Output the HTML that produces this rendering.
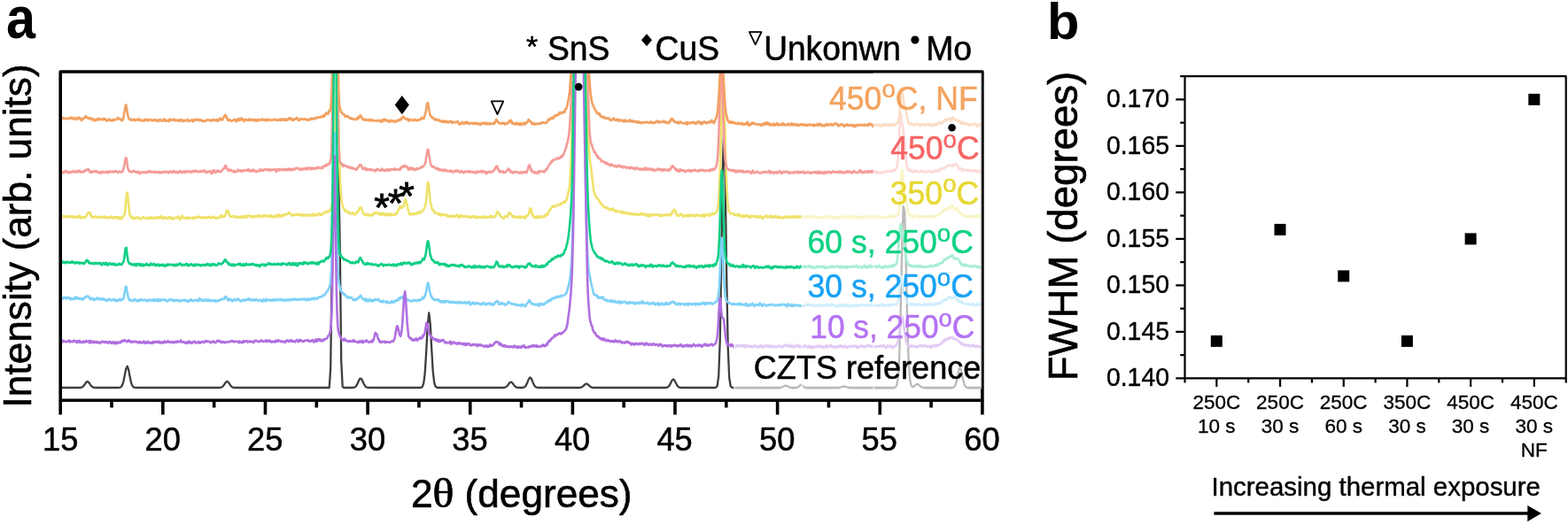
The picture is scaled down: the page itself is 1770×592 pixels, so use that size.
<!DOCTYPE html>
<html lang="en"><head><meta charset="utf-8"><title>XRD patterns and FWHM</title>
<style>html,body{margin:0;padding:0;background:#fff}body{width:1770px;height:592px;overflow:hidden}svg text{white-space:pre}</style></head>
<body>
<svg width="1770" height="592" viewBox="0 0 1770 592" style="display:block" font-family="'Liberation Sans',Arial,Helvetica,sans-serif" fill="#000" stroke-linejoin="round">
<rect width="1770" height="592" fill="#fff"/>
<defs><clipPath id="cp"><rect x="68.2" y="81.0" width="1040.7" height="371.3"/></clipPath></defs>
<g clip-path="url(#cp)" fill="none" stroke-linejoin="round" stroke-linecap="butt">
<path d="M67.2 438.0L68.7 438.0L70.2 438.0L71.7 438.0L73.2 438.0L74.7 438.0L76.2 438.0L77.7 438.0L79.2 438.0L80.7 438.0L82.2 438.0L83.7 438.0L85.2 438.0L86.7 438.0L88.2 438.0L89.7 438.0L91.2 437.9L92.7 437.4L94.2 436.3L95.7 434.3L97.2 432.0L98.7 431.0L100.2 432.0L101.7 434.2L103.2 436.3L104.7 437.4L106.2 437.9L107.7 438.0L109.2 438.0L110.7 438.0L112.2 438.0L113.7 438.0L115.2 438.0L116.7 438.0L118.2 438.0L119.7 438.0L121.2 438.0L122.7 438.0L124.2 438.0L125.7 438.0L127.2 438.0L128.7 438.0L130.2 438.0L131.7 438.0L133.2 438.0L134.7 437.9L136.2 437.5L137.7 435.9L139.2 431.8L140.7 424.5L142.2 416.7L143.7 413.7L145.2 418.0L146.7 426.1L148.2 432.9L149.7 436.4L151.2 437.6L152.7 437.9L154.2 438.0L155.7 438.0L157.2 438.0L158.7 438.0L160.2 438.0L161.7 438.0L163.2 438.0L164.7 438.0L166.2 438.0L167.7 438.0L169.2 438.0L170.7 438.0L172.2 438.0L173.7 438.0L175.2 438.0L176.7 438.0L178.2 438.0L179.7 438.0L181.2 438.0L182.7 438.0L184.2 438.0L185.7 438.0L187.2 438.0L188.7 438.0L190.2 438.0L191.7 438.0L193.2 438.0L194.7 438.0L196.2 438.0L197.7 438.0L199.2 438.0L200.7 438.0L202.2 438.0L203.7 438.0L205.2 438.0L206.7 438.0L208.2 438.0L209.7 438.0L211.2 438.0L212.7 438.0L214.2 438.0L215.7 438.0L217.2 438.0L218.7 438.0L220.2 438.0L221.7 438.0L223.2 438.0L224.7 438.0L226.2 438.0L227.7 438.0L229.2 438.0L230.7 438.0L232.2 438.0L233.7 438.0L235.2 438.0L236.7 438.0L238.2 438.0L239.7 438.0L241.2 438.0L242.7 438.0L244.2 438.0L245.7 438.0L247.2 438.0L248.7 437.9L250.2 437.5L251.7 436.4L253.2 434.4L254.7 432.1L256.2 430.8L257.7 431.7L259.2 433.9L260.7 436.1L262.2 437.3L263.7 437.8L265.2 438.0L266.7 438.0L268.2 438.0L269.7 438.0L271.2 438.0L272.7 438.0L274.2 438.0L275.7 438.0L277.2 438.0L278.7 438.0L280.2 438.0L281.7 438.0L283.2 438.0L284.7 438.0L286.2 438.0L287.7 438.0L289.2 438.0L290.7 438.0L292.2 438.0L293.7 438.0L295.2 438.0L296.7 438.0L298.2 438.0L299.7 438.0L301.2 438.0L302.7 438.0L304.2 438.0L305.7 438.0L307.2 438.0L308.7 438.0L310.2 438.0L311.7 438.0L313.2 438.0L314.7 438.0L316.2 438.0L317.7 438.0L319.2 438.0L320.7 438.0L322.2 438.0L323.7 438.0L325.2 438.0L326.7 438.0L328.2 438.0L329.7 438.0L331.2 438.0L332.7 438.0L334.2 438.0L335.7 438.0L337.2 438.0L338.7 438.0L340.2 438.0L341.7 438.0L343.2 438.0L344.7 438.0L346.2 438.0L347.7 438.0L349.2 438.0L350.7 438.0L352.2 438.0L353.7 438.0L355.2 438.0L356.7 438.0L358.2 438.0L359.7 438.0L361.2 438.0L362.7 438.0L364.2 438.0L365.7 438.0L367.2 438.0L368.7 438.0L370.2 438.0L371.7 438.0L373.2 415.6L374.7 298.6L376.2 209.6L377.7 184.6L379.2 176.8L380.7 183.0L382.2 196.5L383.7 277.2L385.2 407.8L386.7 436.9L388.2 438.0L389.7 438.0L391.2 438.0L392.7 438.0L394.2 438.0L395.7 438.0L397.2 438.0L398.7 437.9L400.2 437.6L401.7 436.6L403.2 434.2L404.7 430.8L406.2 427.8L407.7 427.6L409.2 430.2L410.7 433.7L412.2 436.3L413.7 437.5L415.2 437.9L416.7 438.0L418.2 438.0L419.7 438.0L421.2 438.0L422.7 438.0L424.2 438.0L425.7 438.0L427.2 438.0L428.7 438.0L430.2 438.0L431.7 438.0L433.2 438.0L434.7 438.0L436.2 438.0L437.7 438.0L439.2 438.0L440.7 438.0L442.2 438.0L443.7 438.0L445.2 438.0L446.7 438.0L448.2 438.0L449.7 438.0L451.2 438.0L452.7 438.0L454.2 438.0L455.7 438.0L457.2 438.0L458.7 438.0L460.2 438.0L461.7 438.0L463.2 438.0L464.7 438.0L466.2 438.0L467.7 438.0L469.2 438.0L470.7 438.0L472.2 438.0L473.7 438.0L475.2 437.9L476.7 437.0L478.2 433.1L479.7 421.1L481.2 397.1L482.7 368.1L484.2 353.5L485.7 365.8L487.2 394.4L488.7 419.4L490.2 432.4L491.7 436.8L493.2 437.8L494.7 438.0L496.2 438.0L497.7 438.0L499.2 438.0L500.7 438.0L502.2 438.0L503.7 438.0L505.2 438.0L506.7 438.0L508.2 438.0L509.7 438.0L511.2 438.0L512.7 438.0L514.2 438.0L515.7 438.0L517.2 438.0L518.7 438.0L520.2 438.0L521.7 438.0L523.2 438.0L524.7 438.0L526.2 438.0L527.7 438.0L529.2 438.0L530.7 438.0L532.2 438.0L533.7 438.0L535.2 438.0L536.7 438.0L538.2 438.0L539.7 438.0L541.2 438.0L542.7 438.0L544.2 438.0L545.7 438.0L547.2 438.0L548.7 438.0L550.2 438.0L551.7 438.0L553.2 438.0L554.7 438.0L556.2 438.0L557.7 438.0L559.2 438.0L560.7 438.0L562.2 438.0L563.7 438.0L565.2 438.0L566.7 438.0L568.2 438.0L569.7 437.8L571.2 437.2L572.7 435.9L574.2 433.8L575.7 432.0L577.2 431.6L578.7 433.0L580.2 435.2L581.7 436.8L583.2 437.7L584.7 437.9L586.2 438.0L587.7 438.0L589.2 438.0L590.7 437.8L592.2 437.2L593.7 435.6L595.2 432.4L596.7 428.6L598.2 426.4L599.7 427.5L601.2 431.1L602.7 434.7L604.2 436.8L605.7 437.7L607.2 437.9L608.7 438.0L610.2 438.0L611.7 438.0L613.2 438.0L614.7 438.0L616.2 438.0L617.7 438.0L619.2 438.0L620.7 438.0L622.2 438.0L623.7 438.0L625.2 438.0L626.7 438.0L628.2 438.0L629.7 438.0L631.2 438.0L632.7 438.0L634.2 438.0L635.7 438.0L637.2 438.0L638.7 438.0L640.2 438.0L641.7 438.0L643.2 438.0L644.7 438.0L646.2 438.0L647.7 438.0L649.2 438.0L650.7 438.0L652.2 438.0L653.7 438.0L655.2 437.8L656.7 437.4L658.2 436.4L659.7 434.9L661.2 433.7L662.7 433.6L664.2 434.8L665.7 436.2L667.2 437.3L668.7 437.8L670.2 438.0L671.7 438.0L673.2 438.0L674.7 438.0L676.2 438.0L677.7 438.0L679.2 438.0L680.7 438.0L682.2 438.0L683.7 438.0L685.2 438.0L686.7 438.0L688.2 438.0L689.7 438.0L691.2 438.0L692.7 438.0L694.2 438.0L695.7 438.0L697.2 438.0L698.7 438.0L700.2 438.0L701.7 438.0L703.2 438.0L704.7 438.0L706.2 438.0L707.7 438.0L709.2 438.0L710.7 438.0L712.2 438.0L713.7 438.0L715.2 438.0L716.7 438.0L718.2 438.0L719.7 438.0L721.2 438.0L722.7 438.0L724.2 438.0L725.7 438.0L727.2 438.0L728.7 438.0L730.2 438.0L731.7 438.0L733.2 438.0L734.7 438.0L736.2 438.0L737.7 438.0L739.2 438.0L740.7 438.0L742.2 438.0L743.7 438.0L745.2 438.0L746.7 438.0L748.2 438.0L749.7 438.0L751.2 438.0L752.7 437.8L754.2 437.1L755.7 435.4L757.2 432.6L758.7 429.6L760.2 428.5L761.7 430.2L763.2 433.3L764.7 435.9L766.2 437.3L767.7 437.8L769.2 438.0L770.7 438.0L772.2 438.0L773.7 438.0L775.2 438.0L776.7 438.0L778.2 438.0L779.7 438.0L781.2 438.0L782.7 438.0L784.2 438.0L785.7 438.0L787.2 438.0L788.7 438.0L790.2 438.0L791.7 438.0L793.2 438.0L794.7 438.0L796.2 438.0L797.7 438.0L799.2 438.0L800.7 438.0L802.2 438.0L803.7 438.0L805.2 438.0L806.7 438.0L808.2 437.7L809.7 435.8L811.2 424.9L812.7 386.3L814.2 301.0L815.7 194.0L817.2 146.1L818.7 203.4L820.2 311.4L821.7 392.1L823.2 426.8L824.7 436.2L826.2 437.8L827.7 438.0L829.2 438.0L830.7 438.0L832.2 438.0L833.7 438.0L835.2 438.0L836.7 438.0L838.2 438.0L839.7 438.0L841.2 438.0L842.7 438.0L844.2 438.0L845.7 438.0L847.2 438.0L848.7 438.0L850.2 438.0L851.7 438.0L853.2 438.0L854.7 438.0L856.2 438.0L857.7 438.0L859.2 438.0L860.7 438.0L862.2 438.0L863.7 438.0L865.2 438.0L866.7 438.0L868.2 438.0L869.7 438.0L871.2 438.0L872.7 438.0L874.2 438.0L875.7 438.0L877.2 438.0L878.7 438.0L880.2 438.0L881.7 437.8L883.2 437.2L884.7 436.3L886.2 435.7L887.7 435.8L889.2 436.6L890.7 437.4L892.2 437.8L893.7 438.0L895.2 438.0L896.7 438.0L898.2 438.0L899.7 437.8L901.2 437.1L902.7 435.6L904.2 434.6L905.7 435.4L907.2 437.0L908.7 437.8L910.2 438.0L911.7 438.0L913.2 438.0L914.7 438.0L916.2 438.0L917.7 438.0L919.2 438.0L920.7 438.0L922.2 438.0L923.7 438.0L925.2 438.0L926.7 438.0L928.2 438.0L929.7 438.0L931.2 438.0L932.7 438.0L934.2 438.0L935.7 438.0L937.2 438.0L938.7 438.0L940.2 438.0L941.7 438.0L943.2 438.0L944.7 438.0L946.2 438.0L947.7 437.8L949.2 437.5L950.7 437.0L952.2 436.6L953.7 436.5L955.2 437.0L956.7 437.5L958.2 437.8L959.7 438.0L961.2 438.0L962.7 438.0L964.2 438.0L965.7 438.0L967.2 438.0L968.7 438.0L970.2 438.0L971.7 438.0L973.2 438.0L974.7 438.0L976.2 438.0L977.7 438.0L979.2 438.0L980.7 438.0L982.2 438.0L983.7 438.0L985.2 438.0L986.7 438.0L988.2 438.0L989.7 438.0L991.2 438.0L992.7 438.0L994.2 438.0L995.7 438.0L997.2 438.0L998.7 438.0L1000.2 438.0L1001.7 438.0L1003.2 438.0L1004.7 438.0L1006.2 438.0L1007.7 438.0L1009.2 438.0L1010.7 437.6L1012.2 435.5L1013.7 427.1L1015.2 402.1L1016.7 350.9L1018.2 282.5L1019.7 233.2L1021.2 239.0L1022.7 295.5L1024.2 362.7L1025.7 408.7L1027.2 429.6L1028.7 436.1L1030.2 437.2L1031.7 436.5L1033.2 435.2L1034.7 434.1L1036.2 434.2L1037.7 435.4L1039.2 436.7L1040.7 437.6L1042.2 437.9L1043.7 438.0L1045.2 438.0L1046.7 438.0L1048.2 438.0L1049.7 438.0L1051.2 438.0L1052.7 438.0L1054.2 438.0L1055.7 438.0L1057.2 438.0L1058.7 438.0L1060.2 438.0L1061.7 438.0L1063.2 438.0L1064.7 438.0L1066.2 438.0L1067.7 438.0L1069.2 438.0L1070.7 438.0L1072.2 438.0L1073.7 438.0L1075.2 437.9L1076.7 437.4L1078.2 435.6L1079.7 431.1L1081.2 423.5L1082.7 416.5L1084.2 415.5L1085.7 421.4L1087.2 429.3L1088.7 434.8L1090.2 437.2L1091.7 437.8L1093.2 438.0L1094.7 438.0L1096.2 438.0L1097.7 438.0L1099.2 438.0L1100.7 438.0L1102.2 438.0L1103.7 438.0L1105.2 438.0L1106.7 438.0L1108.2 438.0" stroke="#3e3e3e" stroke-width="2.3"/>
<path d="M67.2 244.7L67.7 244.9L68.2 245.1L68.7 244.7L69.2 244.9L69.7 244.3L70.2 244.8L70.7 245.4L71.2 243.9L71.7 244.1L72.2 244.1L72.7 244.7L73.2 245.0L73.7 244.6L74.2 245.2L74.7 245.5L75.2 244.6L75.7 245.3L76.2 244.6L76.7 244.5L77.2 244.3L77.7 244.8L78.2 244.0L78.7 245.1L79.2 244.7L79.7 244.8L80.2 244.2L80.7 244.8L81.2 245.2L81.7 245.0L82.2 244.1L82.7 244.8L83.2 244.9L83.7 245.3L84.2 245.9L84.7 244.9L85.2 244.9L85.7 245.3L86.2 244.8L86.7 244.8L87.2 245.6L87.7 245.6L88.2 244.3L88.7 245.0L89.2 245.0L89.7 243.8L90.2 246.1L90.7 245.7L91.2 245.7L91.7 246.6L92.2 245.5L92.7 244.9L93.2 245.8L93.7 245.8L94.2 245.7L94.7 245.8L95.2 245.1L95.7 245.9L96.2 245.9L96.7 244.7L97.2 244.6L97.7 243.4L98.2 242.7L98.7 241.7L99.2 240.8L99.7 240.3L100.2 240.4L100.7 240.2L101.2 239.9L101.7 241.3L102.2 242.9L102.7 242.7L103.2 244.3L103.7 245.2L104.2 245.7L104.7 245.8L105.2 245.4L105.7 245.0L106.2 245.3L106.7 245.5L107.2 244.6L107.7 244.5L108.2 245.2L108.7 245.1L109.2 245.5L109.7 245.3L110.2 245.7L110.7 245.7L111.2 245.9L111.7 245.4L112.2 245.0L112.7 245.5L113.2 245.2L113.7 245.8L114.2 245.4L114.7 245.4L115.2 244.7L115.7 246.2L116.2 245.5L116.7 245.4L117.2 245.8L117.7 244.8L118.2 244.8L118.7 246.0L119.2 244.8L119.7 245.2L120.2 245.9L120.7 245.9L121.2 246.1L121.7 245.9L122.2 246.4L122.7 246.1L123.2 245.2L123.7 245.6L124.2 245.5L124.7 244.9L125.2 244.9L125.7 244.8L126.2 246.5L126.7 246.2L127.2 246.7L127.7 246.4L128.2 245.7L128.7 245.0L129.2 245.1L129.7 245.6L130.2 245.2L130.7 246.2L131.2 245.1L131.7 246.5L132.2 245.2L132.7 246.4L133.2 246.2L133.7 245.4L134.2 246.9L134.7 247.1L135.2 245.7L135.7 245.8L136.2 246.3L136.7 245.9L137.2 247.5L137.7 246.0L138.2 245.5L138.7 244.6L139.2 244.0L139.7 243.7L140.2 243.7L140.7 241.3L141.2 238.5L141.7 233.3L142.2 227.5L142.7 221.8L143.2 217.7L143.7 217.6L144.2 220.1L144.7 225.5L145.2 230.8L145.7 236.0L146.2 241.6L146.7 243.2L147.2 244.3L147.7 245.3L148.2 246.0L148.7 244.6L149.2 245.8L149.7 246.2L150.2 245.5L150.7 247.1L151.2 246.6L151.7 246.7L152.2 246.1L152.7 246.9L153.2 246.2L153.7 245.8L154.2 245.7L154.7 245.3L155.2 246.4L155.7 245.4L156.2 245.5L156.7 245.7L157.2 246.3L157.7 246.8L158.2 247.8L158.7 246.9L159.2 246.5L159.7 246.5L160.2 246.5L160.7 246.2L161.2 246.1L161.7 245.5L162.2 245.1L162.7 246.5L163.2 246.5L163.7 246.3L164.2 246.8L164.7 246.8L165.2 246.9L165.7 246.7L166.2 245.9L166.7 246.8L167.2 245.6L167.7 246.8L168.2 247.1L168.7 247.0L169.2 247.2L169.7 246.7L170.2 245.3L170.7 245.3L171.2 246.4L171.7 245.9L172.2 246.3L172.7 246.6L173.2 245.8L173.7 245.7L174.2 246.6L174.7 246.9L175.2 246.3L175.7 246.5L176.2 246.2L176.7 245.5L177.2 246.2L177.7 245.4L178.2 245.1L178.7 246.4L179.2 246.2L179.7 246.5L180.2 244.9L180.7 245.0L181.2 244.4L181.7 244.7L182.2 246.3L182.7 245.9L183.2 246.7L183.7 246.6L184.2 247.1L184.7 245.3L185.2 246.3L185.7 245.7L186.2 246.1L186.7 245.5L187.2 246.3L187.7 247.0L188.2 246.4L188.7 246.4L189.2 246.1L189.7 247.1L190.2 246.5L190.7 245.4L191.2 245.8L191.7 245.4L192.2 244.7L192.7 246.0L193.2 247.4L193.7 246.7L194.2 246.3L194.7 246.4L195.2 247.5L195.7 246.9L196.2 246.9L196.7 246.9L197.2 246.0L197.7 246.0L198.2 245.8L198.7 245.8L199.2 245.5L199.7 246.2L200.2 245.2L200.7 245.9L201.2 244.5L201.7 245.5L202.2 246.2L202.7 246.3L203.2 248.2L203.7 247.8L204.2 246.4L204.7 245.5L205.2 245.0L205.7 243.7L206.2 245.4L206.7 246.2L207.2 246.6L207.7 246.1L208.2 246.4L208.7 246.6L209.2 246.9L209.7 246.3L210.2 245.7L210.7 246.4L211.2 246.0L211.7 246.3L212.2 245.7L212.7 247.0L213.2 246.3L213.7 246.1L214.2 246.2L214.7 246.0L215.2 246.1L215.7 246.0L216.2 246.1L216.7 246.0L217.2 246.8L217.7 246.0L218.2 245.9L218.7 245.6L219.2 245.7L219.7 246.7L220.2 245.7L220.7 245.7L221.2 245.2L221.7 245.1L222.2 246.0L222.7 245.9L223.2 245.3L223.7 245.1L224.2 244.8L224.7 245.1L225.2 244.6L225.7 245.3L226.2 245.3L226.7 246.3L227.2 245.4L227.7 245.9L228.2 246.2L228.7 245.6L229.2 245.4L229.7 245.8L230.2 245.5L230.7 244.9L231.2 245.7L231.7 246.4L232.2 245.4L232.7 245.5L233.2 245.6L233.7 246.3L234.2 245.8L234.7 245.8L235.2 245.7L235.7 244.8L236.2 245.5L236.7 245.9L237.2 245.8L237.7 245.8L238.2 246.5L238.7 245.2L239.2 244.9L239.7 244.8L240.2 245.1L240.7 245.7L241.2 245.7L241.7 245.3L242.2 245.8L242.7 246.1L243.2 246.6L243.7 246.1L244.2 246.5L244.7 246.7L245.2 246.1L245.7 246.0L246.2 245.8L246.7 245.5L247.2 245.8L247.7 246.2L248.2 245.0L248.7 244.5L249.2 243.2L249.7 244.3L250.2 243.7L250.7 243.6L251.2 245.3L251.7 245.3L252.2 244.8L252.7 244.6L253.2 245.0L253.7 243.7L254.2 243.5L254.7 242.7L255.2 240.0L255.7 238.8L256.2 237.5L256.7 237.9L257.2 238.5L257.7 239.0L258.2 241.1L258.7 241.5L259.2 243.4L259.7 244.2L260.2 244.6L260.7 244.5L261.2 244.8L261.7 244.3L262.2 244.1L262.7 244.0L263.2 243.9L263.7 244.3L264.2 245.4L264.7 245.0L265.2 245.3L265.7 245.6L266.2 244.2L266.7 244.9L267.2 245.5L267.7 245.4L268.2 245.2L268.7 245.7L269.2 245.4L269.7 245.0L270.2 245.2L270.7 246.0L271.2 245.7L271.7 244.6L272.2 246.0L272.7 245.0L273.2 245.6L273.7 244.5L274.2 244.3L274.7 244.3L275.2 245.5L275.7 244.7L276.2 245.9L276.7 244.5L277.2 245.2L277.7 243.8L278.2 244.7L278.7 245.5L279.2 243.8L279.7 244.9L280.2 244.1L280.7 243.6L281.2 243.8L281.7 243.9L282.2 244.6L282.7 244.0L283.2 244.6L283.7 244.6L284.2 244.4L284.7 244.8L285.2 245.1L285.7 245.9L286.2 244.3L286.7 244.8L287.2 244.7L287.7 244.2L288.2 244.5L288.7 244.4L289.2 245.1L289.7 244.0L290.2 245.0L290.7 243.9L291.2 243.4L291.7 244.0L292.2 243.5L292.7 244.2L293.2 244.5L293.7 244.0L294.2 244.7L294.7 244.9L295.2 244.7L295.7 244.0L296.2 244.1L296.7 243.4L297.2 244.9L297.7 244.0L298.2 243.6L298.7 244.1L299.2 244.4L299.7 243.3L300.2 243.8L300.7 243.7L301.2 243.9L301.7 244.6L302.2 243.9L302.7 244.4L303.2 244.7L303.7 243.8L304.2 244.6L304.7 243.4L305.2 243.3L305.7 243.0L306.2 245.0L306.7 244.5L307.2 244.8L307.7 245.1L308.2 244.8L308.7 244.5L309.2 245.6L309.7 243.9L310.2 244.2L310.7 244.4L311.2 243.7L311.7 244.9L312.2 244.3L312.7 243.3L313.2 242.7L313.7 243.0L314.2 244.1L314.7 242.4L315.2 244.9L315.7 244.2L316.2 245.0L316.7 244.0L317.2 244.0L317.7 242.9L318.2 243.4L318.7 244.3L319.2 243.9L319.7 243.5L320.2 242.9L320.7 242.1L321.2 243.2L321.7 243.1L322.2 242.6L322.7 242.4L323.2 241.9L323.7 241.8L324.2 241.7L324.7 242.1L325.2 241.6L325.7 240.4L326.2 240.0L326.7 240.5L327.2 240.8L327.7 241.4L328.2 242.0L328.7 242.1L329.2 243.2L329.7 243.2L330.2 243.6L330.7 243.3L331.2 242.8L331.7 242.8L332.2 243.0L332.7 242.8L333.2 243.0L333.7 242.5L334.2 242.2L334.7 242.8L335.2 242.1L335.7 242.8L336.2 242.5L336.7 241.7L337.2 242.8L337.7 242.8L338.2 243.3L338.7 242.9L339.2 242.4L339.7 242.1L340.2 242.3L340.7 242.9L341.2 243.7L341.7 242.8L342.2 243.6L342.7 242.8L343.2 242.2L343.7 242.9L344.2 243.2L344.7 242.5L345.2 244.0L345.7 243.7L346.2 243.7L346.7 243.8L347.2 242.9L347.7 242.4L348.2 243.0L348.7 243.0L349.2 243.2L349.7 242.8L350.2 243.4L350.7 243.2L351.2 243.3L351.7 243.1L352.2 242.3L352.7 243.7L353.2 243.0L353.7 241.9L354.2 243.2L354.7 242.0L355.2 241.9L355.7 242.6L356.2 243.2L356.7 242.6L357.2 243.0L357.7 243.3L358.2 243.5L358.7 242.3L359.2 242.1L359.7 241.1L360.2 241.0L360.7 241.9L361.2 241.7L361.7 241.9L362.2 243.2L362.7 242.4L363.2 242.9L363.7 242.8L364.2 241.7L364.7 241.4L365.2 240.7L365.7 240.2L366.2 240.4L366.7 239.8L367.2 239.3L367.7 240.1L368.2 239.4L368.7 239.5L369.2 238.6L369.7 239.5L370.2 239.6L370.7 239.0L371.2 238.0L371.7 237.9L372.2 238.2L372.7 237.6L373.2 236.2L373.7 235.6L374.2 234.3L374.7 230.5L375.2 229.5L375.7 227.5L376.2 223.4L376.7 218.2L377.2 209.7L377.7 196.8L378.2 180.7L378.7 160.5L379.2 135.8L379.7 112.1L380.2 92.9L380.7 86.0L381.2 92.1L381.7 111.5L382.2 135.6L382.7 159.7L383.2 179.5L383.7 195.9L384.2 207.4L384.7 216.6L385.2 222.7L385.7 227.9L386.2 230.7L386.7 231.4L387.2 233.6L387.7 235.2L388.2 235.5L388.7 236.2L389.2 238.1L389.7 238.2L390.2 238.8L390.7 238.0L391.2 238.6L391.7 238.6L392.2 239.6L392.7 239.1L393.2 239.5L393.7 240.4L394.2 240.2L394.7 241.1L395.2 241.5L395.7 240.8L396.2 241.4L396.7 241.3L397.2 241.3L397.7 240.3L398.2 240.3L398.7 241.2L399.2 242.2L399.7 242.5L400.2 241.8L400.7 242.0L401.2 242.3L401.7 240.9L402.2 240.2L402.7 240.3L403.2 240.2L403.7 239.5L404.2 238.3L404.7 237.3L405.2 237.3L405.7 235.4L406.2 234.7L406.7 234.5L407.2 234.5L407.7 234.4L408.2 235.9L408.7 236.9L409.2 238.3L409.7 239.6L410.2 241.8L410.7 241.8L411.2 241.9L411.7 242.6L412.2 242.5L412.7 242.7L413.2 241.8L413.7 241.8L414.2 242.1L414.7 243.5L415.2 243.2L415.7 242.4L416.2 242.5L416.7 243.4L417.2 242.2L417.7 242.6L418.2 243.3L418.7 243.0L419.2 243.1L419.7 242.7L420.2 243.7L420.7 243.4L421.2 242.6L421.7 241.7L422.2 240.4L422.7 241.6L423.2 240.8L423.7 240.9L424.2 241.0L424.7 240.2L425.2 239.8L425.7 240.8L426.2 240.3L426.7 240.9L427.2 240.8L427.7 241.3L428.2 240.9L428.7 243.0L429.2 242.6L429.7 242.7L430.2 242.6L430.7 241.2L431.2 240.6L431.7 241.8L432.2 242.0L432.7 242.4L433.2 242.7L433.7 241.4L434.2 242.6L434.7 241.7L435.2 243.2L435.7 243.4L436.2 243.1L436.7 243.2L437.2 242.2L437.7 241.6L438.2 241.2L438.7 242.0L439.2 243.2L439.7 243.5L440.2 243.2L440.7 242.8L441.2 241.6L441.7 242.7L442.2 242.1L442.7 242.6L443.2 242.6L443.7 243.0L444.2 242.9L444.7 242.7L445.2 241.8L445.7 241.4L446.2 242.6L446.7 241.5L447.2 241.5L447.7 241.8L448.2 240.9L448.7 238.8L449.2 238.0L449.7 237.4L450.2 236.1L450.7 235.0L451.2 234.9L451.7 233.2L452.2 233.4L452.7 233.2L453.2 235.0L453.7 233.6L454.2 234.2L454.7 234.4L455.2 233.8L455.7 232.2L456.2 230.9L456.7 227.2L457.2 226.5L457.7 225.2L458.2 226.0L458.7 228.2L459.2 230.2L459.7 232.5L460.2 235.0L460.7 236.8L461.2 238.6L461.7 240.4L462.2 241.7L462.7 242.8L463.2 242.4L463.7 241.6L464.2 241.8L464.7 241.7L465.2 241.3L465.7 242.1L466.2 241.4L466.7 240.8L467.2 242.2L467.7 241.7L468.2 241.7L468.7 241.6L469.2 241.3L469.7 240.9L470.2 241.8L470.7 240.5L471.2 240.6L471.7 240.8L472.2 239.0L472.7 240.7L473.2 240.0L473.7 240.2L474.2 240.0L474.7 240.7L475.2 240.3L475.7 239.1L476.2 238.0L476.7 238.3L477.2 237.8L477.7 236.9L478.2 237.2L478.7 235.7L479.2 235.5L479.7 233.7L480.2 231.5L480.7 229.7L481.2 226.6L481.7 219.4L482.2 214.3L482.7 208.4L483.2 206.0L483.7 206.3L484.2 210.6L484.7 216.9L485.2 222.0L485.7 226.9L486.2 230.8L486.7 232.5L487.2 234.5L487.7 235.8L488.2 236.6L488.7 237.0L489.2 237.2L489.7 238.8L490.2 240.4L490.7 240.6L491.2 240.3L491.7 239.9L492.2 240.6L492.7 240.5L493.2 240.8L493.7 240.9L494.2 242.0L494.7 241.6L495.2 242.1L495.7 241.6L496.2 242.9L496.7 241.9L497.2 242.1L497.7 243.4L498.2 242.0L498.7 241.8L499.2 241.9L499.7 242.2L500.2 243.0L500.7 242.2L501.2 242.0L501.7 242.9L502.2 242.9L502.7 242.8L503.2 243.1L503.7 242.8L504.2 243.6L504.7 242.8L505.2 244.5L505.7 245.2L506.2 244.7L506.7 244.6L507.2 244.0L507.7 245.0L508.2 243.9L508.7 244.0L509.2 244.6L509.7 244.6L510.2 244.1L510.7 244.9L511.2 244.1L511.7 243.9L512.2 244.1L512.7 243.6L513.2 244.1L513.7 244.9L514.2 243.6L514.7 243.4L515.2 243.7L515.7 242.5L516.2 243.2L516.7 243.1L517.2 244.6L517.7 245.6L518.2 245.6L518.7 244.1L519.2 244.6L519.7 244.0L520.2 243.6L520.7 244.7L521.2 243.4L521.7 244.7L522.2 244.1L522.7 244.8L523.2 244.8L523.7 244.2L524.2 244.6L524.7 245.1L525.2 244.4L525.7 245.0L526.2 244.7L526.7 244.1L527.2 245.2L527.7 244.8L528.2 244.7L528.7 244.4L529.2 245.2L529.7 244.9L530.2 245.0L530.7 245.4L531.2 246.0L531.7 244.8L532.2 245.7L532.7 244.3L533.2 244.3L533.7 244.8L534.2 244.5L534.7 244.3L535.2 244.4L535.7 245.2L536.2 245.8L536.7 244.5L537.2 245.2L537.7 246.0L538.2 245.0L538.7 246.1L539.2 245.8L539.7 245.5L540.2 245.3L540.7 245.5L541.2 245.3L541.7 244.7L542.2 245.1L542.7 246.0L543.2 245.5L543.7 245.7L544.2 245.7L544.7 245.1L545.2 245.9L545.7 244.4L546.2 245.1L546.7 245.1L547.2 246.1L547.7 245.7L548.2 244.5L548.7 244.5L549.2 245.4L549.7 245.7L550.2 245.5L550.7 245.4L551.2 245.3L551.7 245.4L552.2 245.5L552.7 245.5L553.2 244.1L553.7 245.5L554.2 244.0L554.7 245.1L555.2 245.0L555.7 244.5L556.2 245.8L556.7 245.6L557.2 245.0L557.7 244.8L558.2 244.9L558.7 244.9L559.2 244.5L559.7 242.9L560.2 242.2L560.7 240.6L561.2 239.7L561.7 239.3L562.2 239.7L562.7 239.8L563.2 240.7L563.7 242.1L564.2 243.0L564.7 243.1L565.2 244.7L565.7 244.6L566.2 245.4L566.7 245.4L567.2 245.9L567.7 246.4L568.2 246.3L568.7 247.1L569.2 246.2L569.7 245.5L570.2 244.8L570.7 244.0L571.2 244.6L571.7 245.2L572.2 245.3L572.7 244.9L573.2 243.9L573.7 242.2L574.2 241.7L574.7 240.0L575.2 240.6L575.7 240.6L576.2 240.7L576.7 241.9L577.2 243.0L577.7 243.1L578.2 244.1L578.7 244.8L579.2 244.5L579.7 244.7L580.2 245.4L580.7 244.3L581.2 245.3L581.7 244.7L582.2 245.7L582.7 245.1L583.2 245.1L583.7 245.3L584.2 245.8L584.7 245.6L585.2 245.6L585.7 245.0L586.2 245.6L586.7 244.5L587.2 245.2L587.7 245.1L588.2 246.1L588.7 244.6L589.2 245.1L589.7 245.2L590.2 245.0L590.7 244.9L591.2 245.7L591.7 245.3L592.2 245.6L592.7 246.8L593.2 245.5L593.7 244.2L594.2 244.0L594.7 243.8L595.2 244.3L595.7 243.1L596.2 242.6L596.7 242.1L597.2 240.4L597.7 238.1L598.2 236.1L598.7 235.3L599.2 236.4L599.7 237.1L600.2 240.4L600.7 241.2L601.2 242.6L601.7 244.0L602.2 244.3L602.7 243.8L603.2 245.7L603.7 246.2L604.2 245.4L604.7 245.5L605.2 245.8L605.7 245.0L606.2 246.2L606.7 244.1L607.2 244.3L607.7 244.9L608.2 245.2L608.7 245.2L609.2 245.9L609.7 245.5L610.2 245.8L610.7 244.3L611.2 244.6L611.7 244.4L612.2 244.8L612.7 245.2L613.2 244.9L613.7 244.9L614.2 245.4L614.7 244.3L615.2 243.3L615.7 243.8L616.2 243.7L616.7 241.7L617.2 242.4L617.7 243.2L618.2 241.8L618.7 241.0L619.2 239.7L619.7 238.8L620.2 238.2L620.7 237.1L621.2 237.0L621.7 236.2L622.2 235.4L622.7 234.6L623.2 234.5L623.7 232.8L624.2 233.0L624.7 233.4L625.2 233.0L625.7 233.6L626.2 233.6L626.7 233.0L627.2 232.9L627.7 232.4L628.2 232.2L628.7 231.5L629.2 232.2L629.7 231.6L630.2 231.1L630.7 231.1L631.2 231.1L631.7 231.2L632.2 230.6L632.7 231.4L633.2 230.5L633.7 229.6L634.2 230.0L634.7 229.0L635.2 229.2L635.7 229.2L636.2 228.8L636.7 227.9L637.2 227.5L637.7 228.6L638.2 227.7L638.7 226.7L639.2 226.3L639.7 225.8L640.2 223.3L640.7 220.7L641.2 219.0L641.7 216.9L642.2 214.5L642.7 211.9L643.2 208.6L643.7 200.7L644.2 190.6L644.7 177.7L645.2 164.1L645.7 142.3L646.2 117.0L646.7 81.1L647.2 59.9L647.7 60.7L648.2 59.7L648.7 59.1L649.2 58.6L649.7 59.1L650.2 60.2L650.7 60.2L651.2 60.2L651.7 60.1L652.2 60.4L652.7 60.9L653.2 60.0L653.7 60.4L654.2 59.1L654.7 59.1L655.2 60.2L655.7 58.3L656.2 59.3L656.7 59.8L657.2 59.7L657.7 59.8L658.2 60.1L658.7 59.9L659.2 60.3L659.7 59.4L660.2 60.4L660.7 59.9L661.2 59.6L661.7 59.7L662.2 68.3L662.7 105.1L663.2 124.1L663.7 141.6L664.2 155.2L664.7 165.7L665.2 173.6L665.7 178.6L666.2 183.1L666.7 186.9L667.2 189.7L667.7 194.3L668.2 198.2L668.7 203.1L669.2 207.1L669.7 211.3L670.2 214.8L670.7 217.3L671.2 218.5L671.7 219.6L672.2 221.1L672.7 221.9L673.2 223.5L673.7 223.2L674.2 224.1L674.7 225.0L675.2 225.0L675.7 225.5L676.2 226.5L676.7 227.1L677.2 228.3L677.7 229.9L678.2 230.1L678.7 229.9L679.2 231.0L679.7 232.0L680.2 232.0L680.7 232.7L681.2 232.9L681.7 233.6L682.2 233.9L682.7 234.0L683.2 234.6L683.7 234.8L684.2 235.3L684.7 235.1L685.2 234.3L685.7 235.3L686.2 235.5L686.7 235.4L687.2 236.5L687.7 236.1L688.2 236.0L688.7 237.3L689.2 236.6L689.7 236.4L690.2 236.6L690.7 236.9L691.2 236.7L691.7 235.5L692.2 236.8L692.7 237.1L693.2 236.7L693.7 238.0L694.2 238.6L694.7 237.8L695.2 238.2L695.7 239.4L696.2 238.2L696.7 238.5L697.2 238.8L697.7 239.0L698.2 238.9L698.7 238.9L699.2 238.6L699.7 238.6L700.2 239.6L700.7 240.0L701.2 239.5L701.7 240.1L702.2 239.4L702.7 240.8L703.2 239.4L703.7 240.3L704.2 239.8L704.7 240.4L705.2 241.0L705.7 241.3L706.2 241.5L706.7 240.6L707.2 240.0L707.7 240.1L708.2 240.5L708.7 240.9L709.2 241.2L709.7 241.1L710.2 242.1L710.7 242.3L711.2 242.0L711.7 240.9L712.2 240.9L712.7 241.0L713.2 242.4L713.7 241.4L714.2 242.2L714.7 241.6L715.2 242.3L715.7 241.9L716.2 241.6L716.7 241.9L717.2 242.2L717.7 242.4L718.2 242.3L718.7 242.3L719.2 243.0L719.7 241.5L720.2 242.2L720.7 242.0L721.2 242.6L721.7 242.5L722.2 242.2L722.7 242.2L723.2 241.2L723.7 242.5L724.2 241.5L724.7 242.0L725.2 242.0L725.7 240.9L726.2 242.0L726.7 242.7L727.2 242.6L727.7 242.2L728.2 242.4L728.7 241.7L729.2 243.7L729.7 243.8L730.2 242.9L730.7 242.7L731.2 242.0L731.7 243.7L732.2 244.6L732.7 243.8L733.2 243.9L733.7 243.0L734.2 242.5L734.7 243.3L735.2 242.1L735.7 242.7L736.2 242.5L736.7 243.5L737.2 243.0L737.7 243.1L738.2 242.8L738.7 241.9L739.2 242.9L739.7 242.6L740.2 242.5L740.7 242.6L741.2 242.8L741.7 242.3L742.2 242.5L742.7 242.5L743.2 243.2L743.7 243.5L744.2 243.8L744.7 242.5L745.2 243.4L745.7 243.7L746.2 243.2L746.7 243.2L747.2 244.5L747.7 243.1L748.2 242.7L748.7 242.7L749.2 243.0L749.7 243.2L750.2 242.6L750.7 242.4L751.2 243.1L751.7 243.4L752.2 242.7L752.7 243.2L753.2 243.3L753.7 242.1L754.2 242.8L754.7 243.1L755.2 242.8L755.7 242.3L756.2 243.0L756.7 243.3L757.2 243.0L757.7 240.7L758.2 242.2L758.7 239.7L759.2 239.7L759.7 238.6L760.2 237.7L760.7 237.0L761.2 236.8L761.7 238.5L762.2 238.8L762.7 238.4L763.2 241.8L763.7 241.8L764.2 243.3L764.7 242.6L765.2 244.1L765.7 244.0L766.2 243.9L766.7 243.6L767.2 242.7L767.7 243.2L768.2 241.7L768.7 241.7L769.2 242.3L769.7 242.0L770.2 242.9L770.7 243.4L771.2 244.9L771.7 244.3L772.2 243.8L772.7 244.1L773.2 243.2L773.7 243.6L774.2 243.9L774.7 243.0L775.2 243.3L775.7 242.7L776.2 243.8L776.7 244.9L777.2 243.7L777.7 244.2L778.2 242.9L778.7 242.4L779.2 242.3L779.7 243.2L780.2 244.2L780.7 243.5L781.2 242.9L781.7 243.9L782.2 243.2L782.7 243.7L783.2 243.3L783.7 243.3L784.2 244.2L784.7 243.4L785.2 244.0L785.7 243.4L786.2 243.3L786.7 242.8L787.2 243.4L787.7 242.8L788.2 243.6L788.7 244.1L789.2 243.3L789.7 243.5L790.2 243.1L790.7 243.2L791.2 243.7L791.7 243.8L792.2 243.6L792.7 244.6L793.2 242.7L793.7 243.9L794.2 242.8L794.7 241.8L795.2 244.6L795.7 244.2L796.2 243.0L796.7 243.4L797.2 242.7L797.7 242.6L798.2 241.8L798.7 242.3L799.2 243.2L799.7 243.0L800.2 243.5L800.7 242.9L801.2 244.1L801.7 242.5L802.2 242.6L802.7 241.5L803.2 241.4L803.7 242.5L804.2 241.3L804.7 242.1L805.2 242.0L805.7 241.9L806.2 242.1L806.7 241.4L807.2 240.7L807.7 240.4L808.2 240.2L808.7 239.1L809.2 238.4L809.7 237.7L810.2 234.8L810.7 231.7L811.2 227.0L811.7 218.7L812.2 208.3L812.7 195.2L813.2 178.7L813.7 159.7L814.2 139.4L814.7 119.7L815.2 102.9L815.7 91.3L816.2 86.6L816.7 91.7L817.2 102.6L817.7 121.2L818.2 140.4L818.7 160.8L819.2 179.0L819.7 195.9L820.2 208.4L820.7 218.6L821.2 227.8L821.7 231.1L822.2 235.7L822.7 238.3L823.2 238.6L823.7 239.9L824.2 241.1L824.7 240.9L825.2 241.4L825.7 241.2L826.2 241.3L826.7 241.4L827.2 241.8L827.7 241.9L828.2 242.1L828.7 241.4L829.2 243.2L829.7 243.1L830.2 243.1L830.7 242.5L831.2 242.9L831.7 243.1L832.2 243.2L832.7 242.0L833.2 243.3L833.7 244.2L834.2 241.6L834.7 243.8L835.2 243.5L835.7 243.8L836.2 244.4L836.7 243.5L837.2 244.5L837.7 245.4L838.2 244.5L838.7 243.7L839.2 244.1L839.7 243.5L840.2 244.7L840.7 243.9L841.2 244.3L841.7 243.5L842.2 244.5L842.7 244.2L843.2 243.2L843.7 244.4L844.2 243.7L844.7 244.1L845.2 245.5L845.7 244.4L846.2 244.7L846.7 245.8L847.2 244.3L847.7 245.0L848.2 244.2L848.7 243.6L849.2 244.5L849.7 244.6L850.2 244.5L850.7 244.2L851.2 244.6L851.7 244.7L852.2 244.4L852.7 245.8L853.2 244.4L853.7 244.5L854.2 245.0L854.7 245.1L855.2 245.5L855.7 245.0L856.2 244.4L856.7 245.3L857.2 244.3L857.7 244.4L858.2 245.7L858.7 244.3L859.2 244.9L859.7 245.2L860.2 245.5L860.7 246.0L861.2 247.1L861.7 246.1L862.2 245.0L862.7 245.1L863.2 244.6L863.7 244.0L864.2 244.0L864.7 244.0L865.2 243.3L865.7 244.9L866.2 245.6L866.7 245.4L867.2 244.9L867.7 244.7L868.2 244.5L868.7 244.3L869.2 243.9L869.7 245.2L870.2 244.2L870.7 245.1L871.2 245.7L871.7 244.7L872.2 245.2L872.7 245.8L873.2 244.7L873.7 244.7L874.2 245.1L874.7 245.5L875.2 243.8L875.7 244.7L876.2 244.2L876.7 244.6L877.2 245.1L877.7 245.0L878.2 246.2L878.7 245.6L879.2 246.2L879.7 245.9L880.2 244.8L880.7 245.2L881.2 246.1L881.7 246.0L882.2 246.3L882.7 246.5L883.2 245.8L883.7 246.2L884.2 246.0L884.7 245.1L885.2 245.1L885.7 245.8L886.2 244.7L886.7 245.2L887.2 244.6L887.7 244.7L888.2 244.8L888.7 246.2L889.2 244.9L889.7 244.5L890.2 245.0L890.7 244.8L891.2 245.6L891.7 245.4L892.2 245.5L892.7 244.9L893.2 245.5L893.7 244.8L894.2 245.7L894.7 244.5L895.2 244.7L895.7 245.0L896.2 244.7L896.7 244.5L897.2 245.8L897.7 245.3L898.2 245.7L898.7 244.8L899.2 244.8L899.7 245.0L900.2 243.9L900.7 244.6L901.2 245.9L901.7 245.6L902.2 245.2L902.7 244.4L903.2 244.0L903.7 244.3L904.2 245.2L904.7 244.8L905.2 245.6L905.7 246.0L906.2 245.5L906.7 246.2L907.2 245.2L907.7 244.6L908.2 244.5L908.7 244.6L909.2 244.6L909.7 244.7L910.2 245.2L910.7 244.3L911.2 245.7L911.7 245.0L912.2 245.4L912.7 244.7L913.2 244.4L913.7 244.0L914.2 244.3L914.7 245.3L915.2 245.7L915.7 245.6L916.2 244.8L916.7 244.8L917.2 244.7L917.7 245.3L918.2 244.1L918.7 245.6L919.2 244.6L919.7 244.7L920.2 245.0L920.7 245.5L921.2 245.7L921.7 246.1L922.2 246.1L922.7 246.4L923.2 246.3L923.7 245.1L924.2 245.9L924.7 245.6L925.2 245.9L925.7 245.7L926.2 245.1L926.7 245.8L927.2 244.6L927.7 245.6L928.2 245.9L928.7 245.7L929.2 244.6L929.7 245.2L930.2 245.8L930.7 244.9L931.2 245.0L931.7 244.6L932.2 246.0L932.7 245.4L933.2 245.8L933.7 244.2L934.2 245.3L934.7 244.9L935.2 245.5L935.7 244.5L936.2 244.2L936.7 245.6L937.2 244.7L937.7 245.2L938.2 245.5L938.7 245.1L939.2 246.1L939.7 246.0L940.2 245.0L940.7 245.0L941.2 246.2L941.7 246.5L942.2 246.3L942.7 246.0L943.2 244.6L943.7 244.7L944.2 244.5L944.7 245.0L945.2 246.8L945.7 246.2L946.2 247.3L946.7 245.6L947.2 245.0L947.7 245.6L948.2 245.9L948.7 245.6L949.2 244.7L949.7 244.8L950.2 245.3L950.7 243.8L951.2 243.6L951.7 245.1L952.2 244.8L952.7 244.7L953.2 245.6L953.7 245.5L954.2 245.9L954.7 246.1L955.2 246.4L955.7 245.9L956.2 245.0L956.7 245.3L957.2 245.3L957.7 245.0L958.2 245.3L958.7 244.8L959.2 244.8L959.7 245.9L960.2 245.2L960.7 244.9L961.2 246.7L961.7 245.6L962.2 245.4L962.7 244.8L963.2 244.5L963.7 244.5L964.2 245.3L964.7 245.5L965.2 244.1L965.7 245.8L966.2 244.9L966.7 245.1L967.2 246.4L967.7 245.8L968.2 244.6L968.7 246.0L969.2 244.4L969.7 245.4L970.2 245.3L970.7 246.4L971.2 245.3L971.7 245.5L972.2 245.1L972.7 245.8L973.2 245.2L973.7 245.0L974.2 246.0L974.7 244.9L975.2 245.3L975.7 246.6L976.2 245.7L976.7 245.1L977.2 245.1L977.7 244.0L978.2 245.2L978.7 245.5L979.2 244.9L979.7 245.0L980.2 245.0L980.7 245.3L981.2 244.5L981.7 244.9L982.2 243.9L982.7 244.1L983.2 244.3L983.7 244.9L984.2 244.9L984.7 244.7L985.2 245.5L985.7 245.2L986.2 245.5L986.7 244.9L987.2 245.1L987.7 245.2L988.2 244.3L988.7 245.2L989.2 245.4L989.7 245.8L990.2 245.6L990.7 244.3L991.2 243.9L991.7 245.1L992.2 245.1L992.7 245.7L993.2 245.5L993.7 245.8L994.2 245.1L994.7 245.0L995.2 245.5L995.7 245.1L996.2 245.6L996.7 245.7L997.2 245.3L997.7 244.7L998.2 246.0L998.7 245.0L999.2 245.8L999.7 245.2L1000.2 244.9L1000.7 246.0L1001.2 245.1L1001.7 244.9L1002.2 245.0L1002.7 244.6L1003.2 245.6L1003.7 244.6L1004.2 244.8L1004.7 244.0L1005.2 244.1L1005.7 244.3L1006.2 244.8L1006.7 243.9L1007.2 244.8L1007.7 244.7L1008.2 244.2L1008.7 244.7L1009.2 244.4L1009.7 243.4L1010.2 244.9L1010.7 244.8L1011.2 244.0L1011.7 242.9L1012.2 243.9L1012.7 242.9L1013.2 243.3L1013.7 243.1L1014.2 240.9L1014.7 239.8L1015.2 235.7L1015.7 230.1L1016.2 222.4L1016.7 213.5L1017.2 203.7L1017.7 195.1L1018.2 191.3L1018.7 192.2L1019.2 198.4L1019.7 204.8L1020.2 211.2L1020.7 216.0L1021.2 218.7L1021.7 220.4L1022.2 221.7L1022.7 224.8L1023.2 227.4L1023.7 230.5L1024.2 233.7L1024.7 238.2L1025.2 239.9L1025.7 241.3L1026.2 242.9L1026.7 243.3L1027.2 243.8L1027.7 243.6L1028.2 244.2L1028.7 243.0L1029.2 244.2L1029.7 243.5L1030.2 245.3L1030.7 244.3L1031.2 244.4L1031.7 244.6L1032.2 244.7L1032.7 243.5L1033.2 243.8L1033.7 243.7L1034.2 244.4L1034.7 244.2L1035.2 243.8L1035.7 243.6L1036.2 243.8L1036.7 244.1L1037.2 245.3L1037.7 246.2L1038.2 244.6L1038.7 245.3L1039.2 244.8L1039.7 244.7L1040.2 243.8L1040.7 244.2L1041.2 244.1L1041.7 245.1L1042.2 244.9L1042.7 244.9L1043.2 245.1L1043.7 244.9L1044.2 244.4L1044.7 245.1L1045.2 244.7L1045.7 244.5L1046.2 245.1L1046.7 245.3L1047.2 244.3L1047.7 244.9L1048.2 245.7L1048.7 245.6L1049.2 244.7L1049.7 243.7L1050.2 244.1L1050.7 244.6L1051.2 244.2L1051.7 245.3L1052.2 244.7L1052.7 244.3L1053.2 245.2L1053.7 244.2L1054.2 244.2L1054.7 244.4L1055.2 244.3L1055.7 243.8L1056.2 244.0L1056.7 243.0L1057.2 244.0L1057.7 243.8L1058.2 242.9L1058.7 243.6L1059.2 243.2L1059.7 242.3L1060.2 242.1L1060.7 241.9L1061.2 240.7L1061.7 240.8L1062.2 240.4L1062.7 240.1L1063.2 239.9L1063.7 240.3L1064.2 238.1L1064.7 237.0L1065.2 237.2L1065.7 237.6L1066.2 236.5L1066.7 236.8L1067.2 237.2L1067.7 237.1L1068.2 237.0L1068.7 236.1L1069.2 235.9L1069.7 235.0L1070.2 234.8L1070.7 234.4L1071.2 235.4L1071.7 235.9L1072.2 234.7L1072.7 235.3L1073.2 234.3L1073.7 232.9L1074.2 232.6L1074.7 231.2L1075.2 233.1L1075.7 233.8L1076.2 234.6L1076.7 234.9L1077.2 235.9L1077.7 237.1L1078.2 237.4L1078.7 236.4L1079.2 236.0L1079.7 234.8L1080.2 234.7L1080.7 234.7L1081.2 236.3L1081.7 236.8L1082.2 238.9L1082.7 240.1L1083.2 239.2L1083.7 239.6L1084.2 240.9L1084.7 241.0L1085.2 240.8L1085.7 242.7L1086.2 242.8L1086.7 242.2L1087.2 244.0L1087.7 243.0L1088.2 243.1L1088.7 244.1L1089.2 243.5L1089.7 244.3L1090.2 244.7L1090.7 244.6L1091.2 244.2L1091.7 245.1L1092.2 244.7L1092.7 244.4L1093.2 244.6L1093.7 244.5L1094.2 245.5L1094.7 244.4L1095.2 245.4L1095.7 243.8L1096.2 244.1L1096.7 243.9L1097.2 244.5L1097.7 245.0L1098.2 245.3L1098.7 244.7L1099.2 244.8L1099.7 244.7L1100.2 244.1L1100.7 243.7L1101.2 244.6L1101.7 243.6L1102.2 245.1L1102.7 244.5L1103.2 243.5L1103.7 243.2L1104.2 242.6L1104.7 244.6L1105.2 243.5L1105.7 245.2L1106.2 245.0L1106.7 244.4L1107.2 243.8L1107.7 244.5L1108.2 245.2L1108.7 244.1" stroke="#efe26a" stroke-width="2.6"/>
<path d="M67.2 192.9L67.7 193.8L68.2 194.6L68.7 193.9L69.2 193.9L69.7 194.6L70.2 195.4L70.7 195.4L71.2 194.2L71.7 195.1L72.2 194.3L72.7 194.7L73.2 194.7L73.7 193.6L74.2 192.9L74.7 193.7L75.2 194.1L75.7 193.8L76.2 193.5L76.7 195.1L77.2 194.3L77.7 195.3L78.2 195.0L78.7 194.7L79.2 194.6L79.7 195.0L80.2 194.1L80.7 194.2L81.2 193.7L81.7 194.5L82.2 193.9L82.7 194.1L83.2 193.0L83.7 193.6L84.2 194.2L84.7 193.9L85.2 194.6L85.7 194.4L86.2 194.4L86.7 193.4L87.2 194.6L87.7 194.3L88.2 194.0L88.7 192.9L89.2 193.2L89.7 192.6L90.2 193.4L90.7 194.7L91.2 194.2L91.7 194.3L92.2 194.3L92.7 194.5L93.2 194.3L93.7 194.6L94.2 194.1L94.7 193.0L95.2 193.4L95.7 193.6L96.2 193.2L96.7 192.2L97.2 191.9L97.7 191.6L98.2 192.2L98.7 192.0L99.2 191.4L99.7 191.1L100.2 192.6L100.7 192.5L101.2 193.5L101.7 194.7L102.2 194.8L102.7 193.7L103.2 194.7L103.7 194.5L104.2 193.7L104.7 194.4L105.2 193.5L105.7 193.8L106.2 193.6L106.7 193.9L107.2 194.2L107.7 193.4L108.2 193.7L108.7 193.1L109.2 194.0L109.7 193.7L110.2 194.8L110.7 195.0L111.2 194.6L111.7 195.3L112.2 195.4L112.7 194.3L113.2 194.7L113.7 195.6L114.2 194.2L114.7 194.6L115.2 195.3L115.7 194.0L116.2 193.8L116.7 193.9L117.2 194.9L117.7 194.9L118.2 194.5L118.7 194.4L119.2 194.3L119.7 194.1L120.2 193.6L120.7 194.8L121.2 195.3L121.7 195.5L122.2 194.9L122.7 193.7L123.2 193.5L123.7 193.5L124.2 194.3L124.7 194.2L125.2 194.5L125.7 193.6L126.2 193.7L126.7 193.7L127.2 194.1L127.7 194.6L128.2 193.6L128.7 194.3L129.2 193.4L129.7 193.8L130.2 193.1L130.7 193.6L131.2 193.5L131.7 194.4L132.2 194.4L132.7 194.4L133.2 195.0L133.7 194.4L134.2 194.1L134.7 193.7L135.2 193.5L135.7 194.2L136.2 194.6L136.7 194.2L137.2 194.4L137.7 194.0L138.2 193.7L138.7 192.9L139.2 191.0L139.7 189.8L140.2 187.7L140.7 185.4L141.2 181.6L141.7 178.9L142.2 178.2L142.7 178.8L143.2 182.1L143.7 186.3L144.2 189.3L144.7 191.2L145.2 192.3L145.7 192.5L146.2 193.7L146.7 193.6L147.2 194.2L147.7 194.3L148.2 194.3L148.7 194.1L149.2 193.9L149.7 194.2L150.2 193.7L150.7 192.8L151.2 193.7L151.7 193.3L152.2 193.8L152.7 194.4L153.2 194.5L153.7 194.3L154.2 194.7L154.7 194.5L155.2 193.9L155.7 193.7L156.2 194.4L156.7 195.5L157.2 194.6L157.7 196.2L158.2 196.0L158.7 195.2L159.2 194.6L159.7 194.2L160.2 194.3L160.7 194.8L161.2 194.7L161.7 194.9L162.2 194.7L162.7 194.3L163.2 194.6L163.7 194.5L164.2 195.1L164.7 194.5L165.2 194.7L165.7 194.6L166.2 193.8L166.7 195.1L167.2 193.9L167.7 193.9L168.2 194.4L168.7 193.0L169.2 193.7L169.7 193.4L170.2 193.9L170.7 194.5L171.2 194.2L171.7 194.7L172.2 194.8L172.7 194.6L173.2 194.4L173.7 194.0L174.2 194.5L174.7 193.9L175.2 194.1L175.7 195.1L176.2 194.5L176.7 194.2L177.2 194.5L177.7 194.7L178.2 194.2L178.7 194.8L179.2 194.4L179.7 194.9L180.2 194.2L180.7 195.5L181.2 195.0L181.7 194.7L182.2 194.8L182.7 194.3L183.2 194.6L183.7 194.4L184.2 194.8L184.7 193.8L185.2 194.3L185.7 194.7L186.2 194.4L186.7 194.3L187.2 193.6L187.7 194.4L188.2 193.9L188.7 194.7L189.2 195.0L189.7 195.1L190.2 194.4L190.7 195.1L191.2 193.9L191.7 193.7L192.2 194.4L192.7 193.9L193.2 193.4L193.7 194.0L194.2 194.7L194.7 195.1L195.2 194.7L195.7 194.3L196.2 193.1L196.7 194.0L197.2 194.8L197.7 194.7L198.2 194.5L198.7 194.0L199.2 194.8L199.7 194.6L200.2 194.1L200.7 194.3L201.2 195.3L201.7 194.6L202.2 194.7L202.7 194.6L203.2 193.0L203.7 193.4L204.2 193.6L204.7 193.9L205.2 194.4L205.7 195.2L206.2 194.4L206.7 194.2L207.2 194.2L207.7 193.4L208.2 194.0L208.7 195.1L209.2 194.1L209.7 194.2L210.2 194.1L210.7 193.9L211.2 193.2L211.7 194.4L212.2 193.3L212.7 193.5L213.2 193.6L213.7 193.9L214.2 193.8L214.7 193.7L215.2 194.9L215.7 194.0L216.2 194.0L216.7 193.3L217.2 193.9L217.7 193.2L218.2 194.3L218.7 193.9L219.2 193.4L219.7 193.4L220.2 193.0L220.7 192.4L221.2 194.0L221.7 193.0L222.2 193.3L222.7 194.2L223.2 193.9L223.7 194.1L224.2 194.2L224.7 193.8L225.2 193.6L225.7 193.7L226.2 194.2L226.7 192.9L227.2 194.0L227.7 193.8L228.2 193.4L228.7 193.8L229.2 193.5L229.7 193.8L230.2 193.7L230.7 192.2L231.2 192.9L231.7 194.2L232.2 194.5L232.7 195.2L233.2 195.1L233.7 193.9L234.2 193.9L234.7 194.3L235.2 194.4L235.7 193.5L236.2 193.4L236.7 193.7L237.2 193.1L237.7 193.9L238.2 195.5L238.7 196.3L239.2 194.5L239.7 195.4L240.2 193.5L240.7 192.7L241.2 192.2L241.7 193.7L242.2 193.5L242.7 195.0L243.2 194.2L243.7 194.1L244.2 193.0L244.7 194.3L245.2 193.5L245.7 193.6L246.2 192.7L246.7 193.8L247.2 193.9L247.7 193.5L248.2 193.8L248.7 193.8L249.2 194.2L249.7 193.2L250.2 193.1L250.7 192.3L251.2 191.6L251.7 191.2L252.2 190.5L252.7 190.5L253.2 190.2L253.7 188.4L254.2 187.0L254.7 187.6L255.2 187.4L255.7 189.4L256.2 190.9L256.7 191.9L257.2 191.2L257.7 192.2L258.2 192.9L258.7 191.9L259.2 192.9L259.7 191.8L260.2 191.6L260.7 192.5L261.2 192.5L261.7 193.1L262.2 192.8L262.7 193.3L263.2 193.6L263.7 194.2L264.2 193.5L264.7 192.8L265.2 194.6L265.7 193.9L266.2 193.9L266.7 193.6L267.2 194.1L267.7 193.1L268.2 193.0L268.7 191.7L269.2 192.5L269.7 192.7L270.2 193.1L270.7 193.4L271.2 192.5L271.7 193.4L272.2 192.5L272.7 192.9L273.2 193.7L273.7 192.8L274.2 193.2L274.7 193.0L275.2 192.1L275.7 193.0L276.2 192.5L276.7 192.4L277.2 192.6L277.7 192.2L278.2 192.5L278.7 192.6L279.2 192.1L279.7 192.8L280.2 191.2L280.7 192.0L281.2 191.6L281.7 193.4L282.2 192.8L282.7 192.7L283.2 192.7L283.7 193.6L284.2 192.6L284.7 193.5L285.2 191.8L285.7 193.1L286.2 192.3L286.7 191.8L287.2 192.5L287.7 192.9L288.2 193.4L288.7 194.2L289.2 194.5L289.7 193.1L290.2 193.3L290.7 193.0L291.2 193.3L291.7 193.5L292.2 193.1L292.7 193.2L293.2 191.4L293.7 192.0L294.2 192.9L294.7 192.1L295.2 191.6L295.7 192.9L296.2 192.3L296.7 191.9L297.2 192.9L297.7 192.1L298.2 191.6L298.7 191.8L299.2 191.7L299.7 191.0L300.2 191.7L300.7 191.4L301.2 191.7L301.7 192.1L302.2 192.3L302.7 191.6L303.2 191.2L303.7 191.1L304.2 192.4L304.7 192.9L305.2 192.7L305.7 191.9L306.2 192.2L306.7 191.6L307.2 192.1L307.7 191.8L308.2 191.8L308.7 191.8L309.2 191.6L309.7 191.3L310.2 190.8L310.7 191.5L311.2 192.5L311.7 194.0L312.2 192.6L312.7 192.0L313.2 191.3L313.7 192.4L314.2 191.2L314.7 191.5L315.2 192.0L315.7 191.2L316.2 192.4L316.7 192.1L317.2 191.7L317.7 191.6L318.2 191.3L318.7 191.5L319.2 192.2L319.7 191.9L320.2 192.1L320.7 191.9L321.2 190.9L321.7 191.9L322.2 191.0L322.7 191.9L323.2 192.5L323.7 192.3L324.2 191.3L324.7 190.8L325.2 191.9L325.7 192.1L326.2 190.7L326.7 191.5L327.2 192.1L327.7 192.4L328.2 190.8L328.7 191.8L329.2 191.1L329.7 192.1L330.2 191.5L330.7 191.2L331.2 190.8L331.7 191.9L332.2 191.6L332.7 190.5L333.2 191.1L333.7 190.1L334.2 190.3L334.7 189.8L335.2 189.9L335.7 190.0L336.2 189.9L336.7 190.9L337.2 190.8L337.7 190.8L338.2 190.8L338.7 192.0L339.2 190.6L339.7 190.8L340.2 191.6L340.7 191.2L341.2 191.5L341.7 190.7L342.2 190.4L342.7 190.9L343.2 191.4L343.7 190.7L344.2 190.2L344.7 189.9L345.2 190.5L345.7 191.4L346.2 191.3L346.7 190.3L347.2 189.7L347.7 190.2L348.2 190.9L348.7 189.8L349.2 190.2L349.7 189.4L350.2 189.7L350.7 190.9L351.2 191.3L351.7 189.9L352.2 190.1L352.7 190.6L353.2 189.8L353.7 189.8L354.2 190.4L354.7 190.1L355.2 190.9L355.7 190.9L356.2 189.8L356.7 190.2L357.2 189.9L357.7 189.2L358.2 189.7L358.7 190.3L359.2 188.7L359.7 189.9L360.2 189.4L360.7 189.5L361.2 190.1L361.7 190.1L362.2 190.0L362.7 189.3L363.2 189.0L363.7 188.6L364.2 190.1L364.7 188.9L365.2 188.2L365.7 188.0L366.2 187.3L366.7 187.7L367.2 187.3L367.7 187.8L368.2 185.9L368.7 187.1L369.2 186.6L369.7 185.7L370.2 186.0L370.7 185.5L371.2 185.5L371.7 185.6L372.2 183.2L372.7 183.4L373.2 180.6L373.7 178.2L374.2 169.3L374.7 152.2L375.2 119.7L375.7 66.5L376.2 40.0L380.7 40.0L381.2 79.0L381.7 127.3L382.2 155.4L382.7 171.8L383.2 178.9L383.7 182.3L384.2 183.4L384.7 184.2L385.2 184.4L385.7 185.2L386.2 186.6L386.7 186.9L387.2 187.8L387.7 186.8L388.2 186.1L388.7 186.9L389.2 187.5L389.7 187.5L390.2 187.3L390.7 187.2L391.2 188.2L391.7 187.9L392.2 188.6L392.7 188.4L393.2 188.4L393.7 189.4L394.2 188.2L394.7 189.1L395.2 189.9L395.7 189.5L396.2 189.7L396.7 189.4L397.2 189.2L397.7 190.7L398.2 189.8L398.7 190.3L399.2 190.0L399.7 190.3L400.2 190.9L400.7 191.1L401.2 191.3L401.7 191.2L402.2 192.0L402.7 190.1L403.2 190.2L403.7 190.0L404.2 189.1L404.7 188.9L405.2 187.6L405.7 186.7L406.2 187.2L406.7 186.0L407.2 186.6L407.7 186.9L408.2 188.0L408.7 189.4L409.2 190.1L409.7 191.1L410.2 190.2L410.7 190.4L411.2 190.6L411.7 189.5L412.2 190.6L412.7 191.4L413.2 191.9L413.7 190.8L414.2 192.2L414.7 192.3L415.2 191.1L415.7 191.8L416.2 191.7L416.7 191.5L417.2 191.5L417.7 192.3L418.2 191.3L418.7 191.1L419.2 191.3L419.7 191.5L420.2 192.4L420.7 192.0L421.2 192.3L421.7 192.1L422.2 192.2L422.7 192.7L423.2 193.3L423.7 192.3L424.2 193.1L424.7 191.5L425.2 190.9L425.7 191.8L426.2 191.6L426.7 191.4L427.2 191.3L427.7 192.0L428.2 192.3L428.7 192.3L429.2 192.2L429.7 192.5L430.2 192.7L430.7 192.7L431.2 190.6L431.7 191.7L432.2 191.5L432.7 192.1L433.2 192.6L433.7 193.1L434.2 193.0L434.7 192.1L435.2 191.7L435.7 192.3L436.2 191.5L436.7 192.2L437.2 192.8L437.7 192.6L438.2 191.1L438.7 192.5L439.2 192.5L439.7 191.9L440.2 192.7L440.7 192.1L441.2 191.3L441.7 191.7L442.2 191.1L442.7 191.1L443.2 191.3L443.7 191.8L444.2 191.6L444.7 191.4L445.2 191.6L445.7 190.7L446.2 190.4L446.7 191.8L447.2 191.1L447.7 191.3L448.2 191.5L448.7 191.5L449.2 191.8L449.7 191.7L450.2 191.3L450.7 192.2L451.2 190.8L451.7 191.8L452.2 189.4L452.7 189.3L453.2 189.8L453.7 188.1L454.2 188.3L454.7 188.3L455.2 187.6L455.7 188.6L456.2 187.3L456.7 187.6L457.2 187.2L457.7 187.7L458.2 188.2L458.7 187.8L459.2 189.4L459.7 188.9L460.2 188.6L460.7 189.4L461.2 192.0L461.7 191.0L462.2 190.8L462.7 190.1L463.2 189.4L463.7 191.0L464.2 190.3L464.7 191.3L465.2 190.6L465.7 189.7L466.2 191.3L466.7 190.9L467.2 191.2L467.7 191.9L468.2 191.2L468.7 192.1L469.2 191.0L469.7 190.6L470.2 190.8L470.7 190.2L471.2 191.4L471.7 190.9L472.2 190.8L472.7 190.5L473.2 190.4L473.7 190.1L474.2 190.0L474.7 189.4L475.2 189.3L475.7 188.3L476.2 188.6L476.7 188.9L477.2 187.9L477.7 187.7L478.2 187.5L478.7 187.1L479.2 186.1L479.7 185.3L480.2 183.7L480.7 181.2L481.2 177.2L481.7 174.8L482.2 171.9L482.7 168.8L483.2 168.9L483.7 170.5L484.2 174.2L484.7 177.5L485.2 180.4L485.7 183.2L486.2 185.3L486.7 186.9L487.2 187.8L487.7 187.6L488.2 188.1L488.7 188.6L489.2 187.8L489.7 188.8L490.2 189.0L490.7 189.4L491.2 190.1L491.7 190.4L492.2 189.8L492.7 190.7L493.2 190.6L493.7 189.8L494.2 191.4L494.7 190.7L495.2 192.0L495.7 191.0L496.2 191.1L496.7 192.3L497.2 192.1L497.7 192.0L498.2 192.3L498.7 191.6L499.2 191.8L499.7 192.4L500.2 192.0L500.7 193.2L501.2 192.6L501.7 192.4L502.2 191.6L502.7 192.0L503.2 192.3L503.7 192.0L504.2 193.5L504.7 193.1L505.2 192.9L505.7 193.1L506.2 193.3L506.7 193.3L507.2 193.2L507.7 193.6L508.2 194.0L508.7 192.5L509.2 193.0L509.7 192.8L510.2 193.3L510.7 194.4L511.2 194.0L511.7 193.6L512.2 193.7L512.7 194.3L513.2 193.4L513.7 193.3L514.2 193.3L514.7 192.3L515.2 193.5L515.7 193.1L516.2 193.6L516.7 192.6L517.2 193.1L517.7 193.5L518.2 194.4L518.7 194.5L519.2 194.0L519.7 194.8L520.2 193.7L520.7 193.1L521.2 193.3L521.7 194.2L522.2 193.8L522.7 194.5L523.2 195.3L523.7 194.5L524.2 194.3L524.7 194.7L525.2 193.6L525.7 193.4L526.2 193.7L526.7 193.9L527.2 193.9L527.7 193.9L528.2 194.0L528.7 193.6L529.2 194.6L529.7 193.3L530.2 194.0L530.7 194.4L531.2 193.7L531.7 194.0L532.2 194.5L532.7 194.1L533.2 194.4L533.7 194.1L534.2 194.8L534.7 194.1L535.2 194.1L535.7 194.7L536.2 194.8L536.7 195.6L537.2 195.3L537.7 194.3L538.2 194.8L538.7 194.3L539.2 193.4L539.7 194.8L540.2 193.8L540.7 194.2L541.2 193.7L541.7 193.9L542.2 194.0L542.7 193.8L543.2 194.0L543.7 193.0L544.2 195.1L544.7 194.0L545.2 193.4L545.7 194.2L546.2 193.9L546.7 194.4L547.2 194.0L547.7 194.7L548.2 194.2L548.7 196.2L549.2 195.0L549.7 195.7L550.2 194.4L550.7 194.7L551.2 194.3L551.7 194.5L552.2 194.7L552.7 193.6L553.2 193.7L553.7 194.4L554.2 194.2L554.7 194.6L555.2 194.3L555.7 193.6L556.2 193.8L556.7 193.7L557.2 192.5L557.7 192.5L558.2 191.7L558.7 190.7L559.2 189.2L559.7 188.4L560.2 187.7L560.7 187.7L561.2 187.6L561.7 189.9L562.2 191.8L562.7 191.4L563.2 192.9L563.7 194.1L564.2 193.3L564.7 194.4L565.2 194.2L565.7 193.6L566.2 193.8L566.7 193.5L567.2 193.9L567.7 193.4L568.2 195.2L568.7 194.7L569.2 194.8L569.7 194.5L570.2 194.9L570.7 194.6L571.2 193.7L571.7 193.5L572.2 192.5L572.7 192.5L573.2 191.9L573.7 190.9L574.2 190.5L574.7 191.7L575.2 192.9L575.7 192.3L576.2 194.2L576.7 194.6L577.2 193.8L577.7 194.3L578.2 194.8L578.7 195.5L579.2 194.9L579.7 194.6L580.2 194.9L580.7 193.6L581.2 194.2L581.7 194.2L582.2 194.2L582.7 194.2L583.2 194.7L583.7 194.7L584.2 194.6L584.7 194.4L585.2 194.7L585.7 195.2L586.2 195.5L586.7 195.9L587.2 195.4L587.7 194.4L588.2 194.3L588.7 194.5L589.2 195.3L589.7 195.0L590.2 195.0L590.7 194.4L591.2 195.2L591.7 194.6L592.2 194.1L592.7 194.2L593.2 194.6L593.7 194.0L594.2 195.2L594.7 194.2L595.2 192.9L595.7 192.0L596.2 189.7L596.7 188.2L597.2 187.2L597.7 186.4L598.2 188.2L598.7 189.1L599.2 191.2L599.7 193.0L600.2 191.8L600.7 194.3L601.2 193.6L601.7 194.4L602.2 194.3L602.7 194.5L603.2 195.0L603.7 194.5L604.2 195.1L604.7 195.6L605.2 194.7L605.7 195.4L606.2 195.1L606.7 194.6L607.2 194.4L607.7 195.8L608.2 194.2L608.7 193.1L609.2 193.4L609.7 194.0L610.2 193.7L610.7 194.0L611.2 193.4L611.7 193.9L612.2 193.4L612.7 193.2L613.2 193.6L613.7 194.0L614.2 194.5L614.7 193.6L615.2 192.9L615.7 192.2L616.2 191.8L616.7 192.2L617.2 190.5L617.7 190.4L618.2 189.8L618.7 188.2L619.2 187.7L619.7 186.7L620.2 185.7L620.7 185.6L621.2 184.6L621.7 184.1L622.2 182.4L622.7 182.3L623.2 182.9L623.7 180.8L624.2 181.2L624.7 181.1L625.2 180.6L625.7 180.4L626.2 180.0L626.7 180.0L627.2 180.2L627.7 179.5L628.2 179.0L628.7 178.8L629.2 178.8L629.7 178.9L630.2 178.7L630.7 179.5L631.2 179.2L631.7 178.6L632.2 178.1L632.7 176.9L633.2 178.0L633.7 177.0L634.2 176.8L634.7 177.0L635.2 175.0L635.7 175.3L636.2 174.2L636.7 172.9L637.2 171.3L637.7 170.8L638.2 168.9L638.7 167.8L639.2 166.4L639.7 162.9L640.2 162.0L640.7 160.7L641.2 158.1L641.7 155.6L642.2 152.1L642.7 147.7L643.2 140.9L643.7 133.7L644.2 125.6L644.7 115.3L645.2 104.0L645.7 91.2L646.2 71.3L646.7 58.5L647.2 58.4L647.7 59.5L648.2 59.6L648.7 60.4L649.2 60.6L649.7 61.2L650.2 59.7L650.7 59.5L651.2 60.0L651.7 61.0L652.2 60.1L652.7 59.2L653.2 60.0L653.7 59.9L654.2 59.3L654.7 59.6L655.2 60.0L655.7 60.7L656.2 60.6L656.7 60.4L657.2 60.4L657.7 59.8L658.2 59.6L658.7 60.6L659.2 60.1L659.7 60.3L660.2 60.4L660.7 60.2L661.2 60.5L661.7 59.2L662.2 60.4L662.7 59.5L663.2 76.0L663.7 94.5L664.2 113.2L664.7 129.5L665.2 142.1L665.7 151.1L666.2 156.6L666.7 159.2L667.2 162.4L667.7 162.7L668.2 163.8L668.7 166.0L669.2 167.6L669.7 168.8L670.2 169.9L670.7 171.6L671.2 171.4L671.7 172.4L672.2 172.5L672.7 174.5L673.2 175.2L673.7 175.3L674.2 177.1L674.7 176.7L675.2 178.5L675.7 178.6L676.2 178.1L676.7 179.2L677.2 179.2L677.7 179.5L678.2 181.0L678.7 181.7L679.2 182.6L679.7 182.1L680.2 182.3L680.7 181.8L681.2 182.7L681.7 182.9L682.2 183.0L682.7 184.1L683.2 184.7L683.7 183.5L684.2 184.7L684.7 184.5L685.2 184.5L685.7 184.3L686.2 185.7L686.7 185.9L687.2 185.8L687.7 185.6L688.2 186.1L688.7 187.1L689.2 186.1L689.7 186.0L690.2 185.3L690.7 187.0L691.2 187.0L691.7 186.7L692.2 186.9L692.7 187.1L693.2 187.4L693.7 188.2L694.2 187.1L694.7 188.0L695.2 187.3L695.7 187.2L696.2 188.6L696.7 187.9L697.2 187.9L697.7 187.8L698.2 186.9L698.7 187.9L699.2 187.3L699.7 188.1L700.2 187.1L700.7 187.4L701.2 188.2L701.7 188.8L702.2 188.6L702.7 188.1L703.2 189.5L703.7 188.2L704.2 188.7L704.7 188.1L705.2 188.2L705.7 188.7L706.2 188.6L706.7 189.8L707.2 189.8L707.7 189.1L708.2 189.1L708.7 189.2L709.2 189.6L709.7 190.0L710.2 188.9L710.7 190.2L711.2 190.2L711.7 189.4L712.2 189.1L712.7 189.8L713.2 189.4L713.7 190.0L714.2 189.8L714.7 190.4L715.2 190.2L715.7 191.1L716.2 189.5L716.7 190.0L717.2 190.8L717.7 190.3L718.2 191.0L718.7 190.1L719.2 190.5L719.7 189.6L720.2 190.5L720.7 191.1L721.2 190.7L721.7 190.9L722.2 191.6L722.7 190.7L723.2 190.6L723.7 191.4L724.2 191.6L724.7 191.6L725.2 191.9L725.7 190.6L726.2 191.5L726.7 191.6L727.2 190.9L727.7 191.1L728.2 189.6L728.7 190.5L729.2 192.0L729.7 190.1L730.2 190.7L730.7 191.0L731.2 191.1L731.7 191.8L732.2 190.4L732.7 191.5L733.2 191.4L733.7 190.6L734.2 191.1L734.7 191.9L735.2 191.9L735.7 191.7L736.2 190.5L736.7 192.2L737.2 192.5L737.7 191.9L738.2 191.8L738.7 193.0L739.2 191.8L739.7 191.7L740.2 192.2L740.7 191.9L741.2 191.6L741.7 191.7L742.2 192.1L742.7 191.2L743.2 190.4L743.7 191.1L744.2 191.6L744.7 191.3L745.2 192.2L745.7 191.4L746.2 191.0L746.7 192.1L747.2 192.6L747.7 193.0L748.2 191.7L748.7 192.2L749.2 191.8L749.7 191.0L750.2 192.3L750.7 191.7L751.2 192.1L751.7 192.1L752.2 191.9L752.7 191.5L753.2 192.0L753.7 192.4L754.2 191.9L754.7 193.0L755.2 191.3L755.7 191.2L756.2 192.1L756.7 191.4L757.2 190.4L757.7 189.6L758.2 188.0L758.7 188.7L759.2 188.5L759.7 187.3L760.2 189.0L760.7 189.0L761.2 189.5L761.7 189.8L762.2 191.3L762.7 190.8L763.2 192.3L763.7 192.0L764.2 191.5L764.7 193.3L765.2 193.3L765.7 192.5L766.2 193.9L766.7 191.8L767.2 192.9L767.7 193.2L768.2 191.4L768.7 193.0L769.2 192.5L769.7 192.2L770.2 192.2L770.7 193.1L771.2 192.2L771.7 192.8L772.2 193.1L772.7 192.8L773.2 194.2L773.7 193.0L774.2 193.2L774.7 193.1L775.2 193.1L775.7 193.1L776.2 192.7L776.7 192.0L777.2 192.2L777.7 192.5L778.2 193.0L778.7 193.6L779.2 192.7L779.7 192.0L780.2 194.0L780.7 193.0L781.2 192.8L781.7 193.0L782.2 192.6L782.7 192.7L783.2 192.9L783.7 192.9L784.2 192.4L784.7 191.7L785.2 192.2L785.7 192.9L786.2 192.9L786.7 193.2L787.2 192.8L787.7 193.7L788.2 193.7L788.7 193.0L789.2 192.0L789.7 192.7L790.2 191.9L790.7 192.5L791.2 192.3L791.7 192.4L792.2 192.4L792.7 191.7L793.2 192.3L793.7 192.7L794.2 192.4L794.7 192.4L795.2 192.7L795.7 193.1L796.2 193.4L796.7 192.8L797.2 192.3L797.7 192.4L798.2 192.8L798.7 192.7L799.2 192.7L799.7 192.3L800.2 192.6L800.7 193.5L801.2 192.4L801.7 191.7L802.2 191.4L802.7 191.8L803.2 192.5L803.7 192.1L804.2 191.3L804.7 192.1L805.2 190.7L805.7 191.0L806.2 191.0L806.7 191.4L807.2 190.9L807.7 189.9L808.2 188.6L808.7 187.3L809.2 185.1L809.7 182.2L810.2 175.7L810.7 168.0L811.2 156.8L811.7 142.7L812.2 125.4L812.7 108.5L813.2 92.2L813.7 80.7L814.2 75.0L814.7 79.2L815.2 90.6L815.7 105.8L816.2 123.3L816.7 139.4L817.2 155.4L817.7 166.0L818.2 175.3L818.7 181.0L819.2 184.4L819.7 187.8L820.2 188.9L820.7 190.1L821.2 190.7L821.7 191.1L822.2 191.3L822.7 192.1L823.2 192.0L823.7 192.0L824.2 192.2L824.7 192.0L825.2 192.1L825.7 193.0L826.2 192.8L826.7 193.0L827.2 192.0L827.7 192.7L828.2 192.0L828.7 192.8L829.2 193.5L829.7 192.7L830.2 193.1L830.7 194.7L831.2 194.5L831.7 193.8L832.2 193.1L832.7 193.6L833.2 192.5L833.7 192.8L834.2 193.9L834.7 193.4L835.2 192.9L835.7 193.6L836.2 192.8L836.7 193.6L837.2 193.5L837.7 192.9L838.2 194.5L838.7 193.7L839.2 193.2L839.7 193.6L840.2 194.6L840.7 194.3L841.2 194.5L841.7 194.3L842.2 194.2L842.7 193.4L843.2 194.4L843.7 194.3L844.2 193.8L844.7 193.6L845.2 193.4L845.7 194.1L846.2 194.5L846.7 194.1L847.2 195.3L847.7 195.6L848.2 195.0L848.7 195.5L849.2 194.2L849.7 192.7L850.2 194.0L850.7 194.2L851.2 194.9L851.7 195.2L852.2 195.7L852.7 194.8L853.2 194.1L853.7 194.3L854.2 194.1L854.7 193.8L855.2 193.8L855.7 194.5L856.2 194.9L856.7 195.3L857.2 195.4L857.7 195.5L858.2 195.5L858.7 195.4L859.2 195.4L859.7 195.6L860.2 194.3L860.7 194.3L861.2 194.3L861.7 194.3L862.2 194.5L862.7 194.5L863.2 194.7L863.7 194.1L864.2 194.6L864.7 194.1L865.2 194.2L865.7 194.3L866.2 194.7L866.7 194.3L867.2 194.0L867.7 193.3L868.2 193.1L868.7 193.7L869.2 195.6L869.7 193.9L870.2 194.7L870.7 195.0L871.2 194.0L871.7 194.9L872.2 195.0L872.7 194.9L873.2 196.0L873.7 194.9L874.2 194.8L874.7 194.9L875.2 194.4L875.7 194.4L876.2 194.3L876.7 195.8L877.2 194.6L877.7 194.8L878.2 194.6L878.7 195.0L879.2 194.4L879.7 194.0L880.2 193.2L880.7 194.0L881.2 194.3L881.7 195.1L882.2 196.1L882.7 195.0L883.2 195.3L883.7 194.3L884.2 193.9L884.7 193.9L885.2 194.7L885.7 194.0L886.2 194.5L886.7 194.5L887.2 193.8L887.7 194.1L888.2 193.7L888.7 193.7L889.2 194.3L889.7 194.7L890.2 195.5L890.7 195.9L891.2 194.4L891.7 194.6L892.2 194.7L892.7 194.9L893.2 195.0L893.7 195.4L894.2 195.3L894.7 195.4L895.2 194.6L895.7 194.9L896.2 194.6L896.7 195.5L897.2 194.4L897.7 194.5L898.2 194.4L898.7 194.3L899.2 194.2L899.7 193.7L900.2 195.1L900.7 194.5L901.2 194.4L901.7 195.5L902.2 194.5L902.7 194.8L903.2 194.1L903.7 194.9L904.2 194.5L904.7 194.4L905.2 194.4L905.7 194.6L906.2 195.0L906.7 193.7L907.2 195.0L907.7 195.0L908.2 195.6L908.7 194.8L909.2 195.5L909.7 194.7L910.2 195.0L910.7 194.9L911.2 194.8L911.7 195.1L912.2 194.1L912.7 194.6L913.2 195.0L913.7 194.8L914.2 195.2L914.7 194.9L915.2 195.9L915.7 195.4L916.2 194.7L916.7 195.1L917.2 195.1L917.7 195.0L918.2 194.7L918.7 194.3L919.2 195.0L919.7 194.8L920.2 194.1L920.7 194.3L921.2 195.0L921.7 195.5L922.2 195.6L922.7 195.8L923.2 193.5L923.7 194.9L924.2 195.2L924.7 195.6L925.2 194.7L925.7 194.2L926.2 195.4L926.7 194.8L927.2 194.3L927.7 195.1L928.2 195.7L928.7 195.9L929.2 195.6L929.7 194.6L930.2 196.1L930.7 194.3L931.2 195.0L931.7 194.2L932.2 195.8L932.7 195.3L933.2 195.0L933.7 194.7L934.2 194.8L934.7 194.7L935.2 193.6L935.7 194.9L936.2 194.4L936.7 194.3L937.2 194.9L937.7 195.0L938.2 195.6L938.7 194.7L939.2 194.4L939.7 193.9L940.2 193.6L940.7 193.7L941.2 194.5L941.7 194.3L942.2 194.4L942.7 194.7L943.2 194.0L943.7 194.5L944.2 194.2L944.7 194.5L945.2 194.4L945.7 194.3L946.2 194.2L946.7 194.8L947.2 193.6L947.7 194.9L948.2 194.0L948.7 194.9L949.2 194.7L949.7 193.7L950.2 194.6L950.7 194.7L951.2 194.6L951.7 194.8L952.2 195.5L952.7 195.5L953.2 195.2L953.7 194.4L954.2 194.5L954.7 194.1L955.2 195.0L955.7 194.1L956.2 193.6L956.7 193.9L957.2 193.2L957.7 193.4L958.2 194.2L958.7 193.7L959.2 195.0L959.7 194.9L960.2 194.4L960.7 194.1L961.2 194.8L961.7 195.6L962.2 194.4L962.7 194.1L963.2 194.4L963.7 193.2L964.2 192.9L964.7 194.2L965.2 194.4L965.7 194.7L966.2 194.8L966.7 195.2L967.2 194.7L967.7 194.7L968.2 194.5L968.7 194.6L969.2 195.0L969.7 194.5L970.2 194.4L970.7 192.0L971.2 193.2L971.7 193.7L972.2 193.8L972.7 193.4L973.2 195.2L973.7 194.8L974.2 194.5L974.7 195.2L975.2 194.3L975.7 194.0L976.2 194.5L976.7 193.6L977.2 193.5L977.7 194.0L978.2 194.2L978.7 193.8L979.2 194.8L979.7 193.4L980.2 194.9L980.7 194.4L981.2 193.3L981.7 193.9L982.2 194.2L982.7 193.8L983.2 193.4L983.7 193.8L984.2 194.8L984.7 193.0L985.2 193.9L985.7 193.9L986.2 193.9L986.7 193.7L987.2 194.1L987.7 194.9L988.2 194.7L988.7 194.4L989.2 195.3L989.7 193.7L990.2 194.6L990.7 194.8L991.2 195.4L991.7 195.3L992.2 195.5L992.7 194.5L993.2 195.3L993.7 194.8L994.2 196.0L994.7 194.8L995.2 195.3L995.7 195.2L996.2 194.9L996.7 194.3L997.2 194.5L997.7 193.8L998.2 193.9L998.7 194.7L999.2 194.1L999.7 194.8L1000.2 193.9L1000.7 193.9L1001.2 193.5L1001.7 193.7L1002.2 193.4L1002.7 193.5L1003.2 193.4L1003.7 194.0L1004.2 193.8L1004.7 193.7L1005.2 193.6L1005.7 193.5L1006.2 192.8L1006.7 193.6L1007.2 193.5L1007.7 192.4L1008.2 192.9L1008.7 193.2L1009.2 192.2L1009.7 192.6L1010.2 191.8L1010.7 190.9L1011.2 191.0L1011.7 190.3L1012.2 189.8L1012.7 186.5L1013.2 183.4L1013.7 177.5L1014.2 170.0L1014.7 161.4L1015.2 151.1L1015.7 140.9L1016.2 132.9L1016.7 128.5L1017.2 129.0L1017.7 133.0L1018.2 138.3L1018.7 140.5L1019.2 145.0L1019.7 147.9L1020.2 151.8L1020.7 155.4L1021.2 162.7L1021.7 169.5L1022.2 175.2L1022.7 180.5L1023.2 184.8L1023.7 187.6L1024.2 190.3L1024.7 190.6L1025.2 192.6L1025.7 192.0L1026.2 192.2L1026.7 192.4L1027.2 192.0L1027.7 192.8L1028.2 193.3L1028.7 192.4L1029.2 193.5L1029.7 192.9L1030.2 193.9L1030.7 195.0L1031.2 193.3L1031.7 194.1L1032.2 193.5L1032.7 192.3L1033.2 192.5L1033.7 193.1L1034.2 194.1L1034.7 193.3L1035.2 193.2L1035.7 193.7L1036.2 193.6L1036.7 194.0L1037.2 194.1L1037.7 194.9L1038.2 193.5L1038.7 194.4L1039.2 193.2L1039.7 192.6L1040.2 193.9L1040.7 194.1L1041.2 193.0L1041.7 194.2L1042.2 193.6L1042.7 193.6L1043.2 194.3L1043.7 193.7L1044.2 194.1L1044.7 194.1L1045.2 195.3L1045.7 194.4L1046.2 193.6L1046.7 193.1L1047.2 193.1L1047.7 192.9L1048.2 193.0L1048.7 193.9L1049.2 193.5L1049.7 194.0L1050.2 194.2L1050.7 193.8L1051.2 194.2L1051.7 194.9L1052.2 194.8L1052.7 194.4L1053.2 193.6L1053.7 193.6L1054.2 194.0L1054.7 192.4L1055.2 193.4L1055.7 193.3L1056.2 192.7L1056.7 192.4L1057.2 193.2L1057.7 193.3L1058.2 192.3L1058.7 192.9L1059.2 193.1L1059.7 192.1L1060.2 194.0L1060.7 191.9L1061.2 191.8L1061.7 191.1L1062.2 191.6L1062.7 190.4L1063.2 190.8L1063.7 190.5L1064.2 189.7L1064.7 189.8L1065.2 190.4L1065.7 189.6L1066.2 190.1L1066.7 189.0L1067.2 189.0L1067.7 188.7L1068.2 188.4L1068.7 188.2L1069.2 187.3L1069.7 187.2L1070.2 187.4L1070.7 186.8L1071.2 186.4L1071.7 186.0L1072.2 186.0L1072.7 186.6L1073.2 187.0L1073.7 187.4L1074.2 187.5L1074.7 187.3L1075.2 186.7L1075.7 186.0L1076.2 187.6L1076.7 186.8L1077.2 186.6L1077.7 186.1L1078.2 186.2L1078.7 185.2L1079.2 186.2L1079.7 185.8L1080.2 185.5L1080.7 186.3L1081.2 187.8L1081.7 188.7L1082.2 190.1L1082.7 191.0L1083.2 190.5L1083.7 190.5L1084.2 190.0L1084.7 190.2L1085.2 190.5L1085.7 190.8L1086.2 193.1L1086.7 191.6L1087.2 192.2L1087.7 192.5L1088.2 192.3L1088.7 191.7L1089.2 192.2L1089.7 192.0L1090.2 191.8L1090.7 192.4L1091.2 192.6L1091.7 192.4L1092.2 192.6L1092.7 191.8L1093.2 192.7L1093.7 192.4L1094.2 193.0L1094.7 192.6L1095.2 193.1L1095.7 192.4L1096.2 192.6L1096.7 192.9L1097.2 193.1L1097.7 193.3L1098.2 193.5L1098.7 193.0L1099.2 193.4L1099.7 192.7L1100.2 192.2L1100.7 192.9L1101.2 193.2L1101.7 192.7L1102.2 192.8L1102.7 193.8L1103.2 192.8L1103.7 192.9L1104.2 194.7L1104.7 193.9L1105.2 193.6L1105.7 193.8L1106.2 193.1L1106.7 193.7L1107.2 192.1L1107.7 192.2L1108.2 192.7L1108.7 192.8" stroke="#f59b97" stroke-width="2.6"/>
<path d="M67.2 133.3L67.7 132.8L68.2 132.9L68.7 134.1L69.2 132.4L69.7 134.1L70.2 133.6L70.7 133.3L71.2 133.1L71.7 133.8L72.2 134.2L72.7 134.2L73.2 133.7L73.7 133.7L74.2 133.9L74.7 134.1L75.2 133.7L75.7 133.9L76.2 134.0L76.7 134.5L77.2 134.2L77.7 133.5L78.2 133.8L78.7 132.9L79.2 133.1L79.7 133.7L80.2 133.3L80.7 133.4L81.2 132.5L81.7 134.0L82.2 133.9L82.7 134.1L83.2 134.6L83.7 133.9L84.2 133.5L84.7 134.1L85.2 133.2L85.7 134.7L86.2 135.1L86.7 134.5L87.2 134.2L87.7 133.0L88.2 133.7L88.7 132.9L89.2 132.6L89.7 134.2L90.2 134.2L90.7 133.7L91.2 135.3L91.7 135.1L92.2 136.0L92.7 135.4L93.2 134.1L93.7 133.7L94.2 133.6L94.7 133.9L95.2 133.1L95.7 132.8L96.2 132.4L96.7 131.1L97.2 131.3L97.7 133.0L98.2 132.8L98.7 132.8L99.2 133.5L99.7 133.5L100.2 133.9L100.7 133.1L101.2 134.4L101.7 134.2L102.2 134.0L102.7 133.7L103.2 134.6L103.7 135.3L104.2 133.9L104.7 135.3L105.2 134.9L105.7 134.8L106.2 134.8L106.7 136.4L107.2 136.3L107.7 136.1L108.2 135.5L108.7 134.8L109.2 135.5L109.7 134.6L110.2 135.4L110.7 134.0L111.2 134.1L111.7 134.0L112.2 135.2L112.7 134.2L113.2 134.6L113.7 135.0L114.2 134.7L114.7 135.3L115.2 135.2L115.7 134.8L116.2 135.3L116.7 134.1L117.2 134.2L117.7 134.6L118.2 134.4L118.7 134.1L119.2 135.4L119.7 135.6L120.2 136.7L120.7 136.7L121.2 135.8L121.7 135.7L122.2 135.7L122.7 134.9L123.2 134.9L123.7 134.4L124.2 136.0L124.7 136.2L125.2 136.3L125.7 136.0L126.2 135.8L126.7 136.6L127.2 135.8L127.7 135.1L128.2 134.9L128.7 135.7L129.2 135.7L129.7 135.5L130.2 135.2L130.7 135.4L131.2 134.5L131.7 134.5L132.2 133.8L132.7 133.4L133.2 132.9L133.7 134.3L134.2 134.3L134.7 134.1L135.2 134.9L135.7 134.9L136.2 134.3L136.7 135.1L137.2 136.0L137.7 135.6L138.2 135.9L138.7 134.9L139.2 133.7L139.7 130.9L140.2 127.6L140.7 125.2L141.2 122.1L141.7 119.2L142.2 118.3L142.7 119.6L143.2 122.7L143.7 126.5L144.2 130.0L144.7 131.9L145.2 133.1L145.7 134.0L146.2 134.3L146.7 135.1L147.2 135.6L147.7 134.7L148.2 135.7L148.7 135.4L149.2 135.5L149.7 135.5L150.2 135.1L150.7 135.1L151.2 134.6L151.7 136.0L152.2 136.3L152.7 134.9L153.2 135.6L153.7 135.2L154.2 135.5L154.7 135.3L155.2 135.5L155.7 135.3L156.2 134.4L156.7 135.8L157.2 135.3L157.7 134.6L158.2 136.2L158.7 135.6L159.2 136.4L159.7 136.3L160.2 136.1L160.7 135.8L161.2 136.1L161.7 136.0L162.2 136.4L162.7 136.7L163.2 135.2L163.7 135.0L164.2 135.7L164.7 135.2L165.2 134.9L165.7 134.9L166.2 136.2L166.7 136.6L167.2 135.3L167.7 135.1L168.2 135.4L168.7 135.5L169.2 135.9L169.7 135.6L170.2 135.0L170.7 136.0L171.2 136.0L171.7 135.8L172.2 136.4L172.7 136.3L173.2 136.1L173.7 135.2L174.2 135.2L174.7 135.0L175.2 136.2L175.7 136.1L176.2 135.7L176.7 136.3L177.2 136.5L177.7 135.9L178.2 136.6L178.7 137.0L179.2 135.7L179.7 135.3L180.2 135.1L180.7 136.2L181.2 134.9L181.7 135.9L182.2 136.1L182.7 136.6L183.2 136.7L183.7 136.3L184.2 136.0L184.7 135.2L185.2 135.0L185.7 134.5L186.2 135.5L186.7 137.0L187.2 136.7L187.7 136.4L188.2 136.2L188.7 136.5L189.2 136.3L189.7 136.8L190.2 135.5L190.7 136.2L191.2 137.0L191.7 135.1L192.2 136.4L192.7 134.7L193.2 134.9L193.7 135.3L194.2 135.3L194.7 135.7L195.2 135.6L195.7 135.6L196.2 134.8L196.7 135.3L197.2 134.7L197.7 136.3L198.2 135.8L198.7 136.2L199.2 135.9L199.7 135.5L200.2 136.1L200.7 136.3L201.2 135.7L201.7 137.0L202.2 135.6L202.7 136.8L203.2 136.2L203.7 135.1L204.2 135.6L204.7 135.4L205.2 136.4L205.7 135.7L206.2 137.1L206.7 137.0L207.2 136.0L207.7 136.0L208.2 136.7L208.7 135.8L209.2 136.2L209.7 136.4L210.2 136.0L210.7 136.1L211.2 135.4L211.7 135.0L212.2 135.7L212.7 137.0L213.2 137.2L213.7 136.3L214.2 136.3L214.7 136.1L215.2 136.2L215.7 135.7L216.2 135.5L216.7 135.7L217.2 136.4L217.7 137.4L218.2 135.7L218.7 135.2L219.2 136.5L219.7 135.6L220.2 135.4L220.7 135.7L221.2 135.1L221.7 134.8L222.2 134.6L222.7 135.5L223.2 135.4L223.7 135.8L224.2 135.5L224.7 136.2L225.2 135.1L225.7 135.6L226.2 135.2L226.7 135.8L227.2 136.5L227.7 136.0L228.2 136.3L228.7 137.2L229.2 136.5L229.7 136.6L230.2 136.1L230.7 136.9L231.2 136.9L231.7 136.9L232.2 137.0L232.7 135.8L233.2 135.7L233.7 135.6L234.2 135.3L234.7 135.4L235.2 135.8L235.7 135.8L236.2 135.8L236.7 135.2L237.2 136.2L237.7 136.1L238.2 136.0L238.7 136.4L239.2 136.4L239.7 136.3L240.2 135.0L240.7 135.5L241.2 135.4L241.7 136.1L242.2 135.1L242.7 135.8L243.2 135.5L243.7 136.0L244.2 136.4L244.7 135.1L245.2 135.0L245.7 136.6L246.2 136.4L246.7 135.6L247.2 136.2L247.7 135.7L248.2 133.6L248.7 134.5L249.2 134.7L249.7 134.3L250.2 135.1L250.7 135.6L251.2 135.1L251.7 134.0L252.2 133.2L252.7 132.1L253.2 132.2L253.7 130.3L254.2 131.1L254.7 129.9L255.2 131.5L255.7 131.7L256.2 133.6L256.7 135.1L257.2 135.8L257.7 136.1L258.2 135.1L258.7 135.5L259.2 135.4L259.7 135.9L260.2 136.1L260.7 136.7L261.2 136.3L261.7 136.6L262.2 136.2L262.7 136.5L263.2 135.9L263.7 135.8L264.2 135.1L264.7 135.2L265.2 135.3L265.7 136.3L266.2 135.1L266.7 137.3L267.2 135.9L267.7 136.4L268.2 136.4L268.7 134.4L269.2 135.1L269.7 135.6L270.2 134.0L270.7 135.8L271.2 134.9L271.7 135.4L272.2 135.2L272.7 133.4L273.2 134.9L273.7 134.8L274.2 134.7L274.7 136.0L275.2 137.1L275.7 135.2L276.2 135.5L276.7 135.2L277.2 134.8L277.7 135.2L278.2 136.0L278.7 135.5L279.2 135.7L279.7 135.3L280.2 136.1L280.7 134.6L281.2 135.4L281.7 135.3L282.2 135.7L282.7 134.8L283.2 135.2L283.7 136.0L284.2 135.8L284.7 135.1L285.2 135.1L285.7 135.4L286.2 135.8L286.7 135.3L287.2 135.1L287.7 135.1L288.2 136.6L288.7 135.3L289.2 135.3L289.7 135.8L290.2 136.6L290.7 136.1L291.2 135.0L291.7 136.0L292.2 135.6L292.7 135.9L293.2 135.3L293.7 135.5L294.2 135.4L294.7 135.6L295.2 135.1L295.7 134.7L296.2 134.3L296.7 134.8L297.2 136.0L297.7 135.6L298.2 135.9L298.7 135.0L299.2 136.2L299.7 136.1L300.2 136.0L300.7 134.9L301.2 135.2L301.7 135.0L302.2 136.3L302.7 135.7L303.2 134.9L303.7 135.2L304.2 135.5L304.7 135.3L305.2 135.4L305.7 135.7L306.2 136.0L306.7 136.0L307.2 135.5L307.7 135.8L308.2 135.6L308.7 135.0L309.2 134.9L309.7 135.0L310.2 134.8L310.7 135.3L311.2 135.6L311.7 134.8L312.2 135.3L312.7 135.9L313.2 136.0L313.7 135.7L314.2 135.6L314.7 136.0L315.2 135.8L315.7 135.1L316.2 134.3L316.7 136.2L317.2 135.8L317.7 135.8L318.2 135.3L318.7 134.3L319.2 134.6L319.7 134.7L320.2 135.5L320.7 134.8L321.2 136.0L321.7 135.1L322.2 135.4L322.7 134.4L323.2 135.3L323.7 135.9L324.2 135.3L324.7 134.5L325.2 134.6L325.7 135.0L326.2 133.7L326.7 133.3L327.2 133.9L327.7 133.5L328.2 134.7L328.7 134.3L329.2 134.5L329.7 134.6L330.2 136.0L330.7 134.9L331.2 134.9L331.7 135.5L332.2 134.4L332.7 135.0L333.2 134.7L333.7 134.5L334.2 133.8L334.7 133.5L335.2 133.0L335.7 134.1L336.2 134.7L336.7 135.9L337.2 136.4L337.7 135.3L338.2 134.8L338.7 134.5L339.2 135.0L339.7 134.2L340.2 134.7L340.7 134.6L341.2 134.4L341.7 134.7L342.2 134.4L342.7 134.3L343.2 135.1L343.7 134.7L344.2 134.3L344.7 134.3L345.2 134.9L345.7 135.0L346.2 135.5L346.7 135.0L347.2 135.7L347.7 135.5L348.2 135.4L348.7 135.4L349.2 134.7L349.7 134.0L350.2 135.3L350.7 133.8L351.2 134.2L351.7 134.5L352.2 133.7L352.7 133.8L353.2 134.1L353.7 134.3L354.2 133.5L354.7 133.7L355.2 134.5L355.7 133.9L356.2 133.8L356.7 133.4L357.2 132.6L357.7 133.2L358.2 133.2L358.7 132.5L359.2 133.2L359.7 133.1L360.2 132.6L360.7 132.4L361.2 132.5L361.7 131.9L362.2 132.6L362.7 132.4L363.2 131.6L363.7 131.5L364.2 131.3L364.7 131.9L365.2 130.0L365.7 131.8L366.2 130.8L366.7 130.3L367.2 129.4L367.7 128.5L368.2 127.6L368.7 127.7L369.2 128.7L369.7 127.5L370.2 128.9L370.7 128.3L371.2 125.3L371.7 126.0L372.2 125.8L372.7 124.4L373.2 122.1L373.7 118.1L374.2 110.3L374.7 94.6L375.2 66.2L375.7 40.0L381.2 40.0L381.7 73.4L382.2 99.3L382.7 111.5L383.2 119.5L383.7 121.6L384.2 123.7L384.7 126.1L385.2 126.8L385.7 127.2L386.2 127.7L386.7 128.6L387.2 128.9L387.7 129.4L388.2 129.2L388.7 129.6L389.2 131.5L389.7 131.0L390.2 131.8L390.7 131.2L391.2 131.2L391.7 130.9L392.2 131.5L392.7 131.4L393.2 131.7L393.7 133.0L394.2 133.0L394.7 133.6L395.2 133.8L395.7 133.1L396.2 133.3L396.7 133.7L397.2 134.5L397.7 134.3L398.2 134.3L398.7 134.3L399.2 134.7L399.7 134.7L400.2 134.5L400.7 135.0L401.2 135.3L401.7 135.0L402.2 134.9L402.7 133.7L403.2 133.9L403.7 132.6L404.2 134.2L404.7 133.7L405.2 132.7L405.7 131.6L406.2 131.2L406.7 130.4L407.2 131.3L407.7 131.3L408.2 132.7L408.7 133.5L409.2 134.4L409.7 135.1L410.2 134.6L410.7 135.0L411.2 135.6L411.7 135.4L412.2 134.7L412.7 135.6L413.2 135.0L413.7 135.4L414.2 135.4L414.7 135.4L415.2 135.9L415.7 136.2L416.2 136.1L416.7 136.4L417.2 134.7L417.7 135.4L418.2 135.7L418.7 135.6L419.2 135.6L419.7 136.4L420.2 135.5L420.7 136.4L421.2 136.3L421.7 135.8L422.2 135.8L422.7 136.3L423.2 136.4L423.7 136.5L424.2 136.6L424.7 136.6L425.2 136.3L425.7 136.0L426.2 136.4L426.7 136.4L427.2 135.8L427.7 136.0L428.2 136.9L428.7 136.9L429.2 137.3L429.7 136.4L430.2 137.2L430.7 136.1L431.2 137.8L431.7 135.5L432.2 135.4L432.7 136.3L433.2 136.4L433.7 134.7L434.2 135.6L434.7 135.8L435.2 134.8L435.7 136.5L436.2 136.1L436.7 136.1L437.2 136.4L437.7 136.1L438.2 135.9L438.7 137.7L439.2 136.6L439.7 136.8L440.2 137.4L440.7 136.7L441.2 137.0L441.7 135.9L442.2 136.3L442.7 136.1L443.2 136.6L443.7 136.6L444.2 136.9L444.7 137.9L445.2 136.9L445.7 136.8L446.2 137.0L446.7 137.4L447.2 137.2L447.7 137.4L448.2 135.8L448.7 135.9L449.2 135.9L449.7 135.8L450.2 136.2L450.7 135.3L451.2 135.4L451.7 135.6L452.2 134.2L452.7 134.5L453.2 134.9L453.7 132.8L454.2 132.9L454.7 132.1L455.2 131.7L455.7 131.8L456.2 132.7L456.7 133.5L457.2 133.8L457.7 133.9L458.2 135.0L458.7 134.9L459.2 134.1L459.7 134.8L460.2 134.3L460.7 134.3L461.2 136.8L461.7 135.2L462.2 136.3L462.7 135.3L463.2 135.8L463.7 135.7L464.2 135.4L464.7 135.1L465.2 136.0L465.7 135.8L466.2 135.6L466.7 135.9L467.2 136.1L467.7 135.5L468.2 135.7L468.7 134.8L469.2 135.6L469.7 135.9L470.2 136.5L470.7 136.2L471.2 135.7L471.7 135.8L472.2 135.1L472.7 136.0L473.2 135.3L473.7 135.2L474.2 135.2L474.7 134.3L475.2 134.7L475.7 133.1L476.2 134.0L476.7 133.4L477.2 133.4L477.7 133.1L478.2 134.1L478.7 133.0L479.2 131.4L479.7 129.6L480.2 127.9L480.7 126.5L481.2 123.0L481.7 119.5L482.2 117.1L482.7 116.1L483.2 117.2L483.7 120.0L484.2 123.3L484.7 126.5L485.2 127.9L485.7 130.6L486.2 131.2L486.7 131.7L487.2 132.3L487.7 132.0L488.2 132.6L488.7 133.8L489.2 133.7L489.7 133.9L490.2 135.0L490.7 135.3L491.2 134.6L491.7 134.6L492.2 134.5L492.7 135.0L493.2 135.7L493.7 136.1L494.2 135.6L494.7 135.3L495.2 135.0L495.7 136.3L496.2 136.5L496.7 136.7L497.2 137.0L497.7 136.5L498.2 136.7L498.7 136.5L499.2 137.7L499.7 137.4L500.2 137.8L500.7 136.9L501.2 136.9L501.7 137.7L502.2 136.8L502.7 138.0L503.2 138.2L503.7 136.9L504.2 136.9L504.7 137.7L505.2 138.2L505.7 138.5L506.2 138.4L506.7 137.6L507.2 137.3L507.7 137.4L508.2 136.9L508.7 136.7L509.2 137.0L509.7 138.5L510.2 138.9L510.7 137.6L511.2 138.3L511.7 138.2L512.2 137.9L512.7 138.1L513.2 137.7L513.7 137.9L514.2 138.0L514.7 138.3L515.2 137.8L515.7 137.8L516.2 137.5L516.7 137.0L517.2 138.8L517.7 139.7L518.2 139.4L518.7 140.7L519.2 140.3L519.7 139.7L520.2 140.0L520.7 138.5L521.2 138.2L521.7 139.2L522.2 138.9L522.7 138.4L523.2 139.7L523.7 139.5L524.2 138.7L524.7 138.4L525.2 139.3L525.7 139.6L526.2 137.8L526.7 138.9L527.2 138.4L527.7 138.0L528.2 139.1L528.7 138.7L529.2 139.5L529.7 140.2L530.2 139.7L530.7 139.7L531.2 139.2L531.7 139.1L532.2 139.3L532.7 138.5L533.2 139.5L533.7 139.8L534.2 139.0L534.7 139.2L535.2 139.5L535.7 140.1L536.2 139.1L536.7 138.7L537.2 139.8L537.7 139.3L538.2 139.2L538.7 140.0L539.2 139.5L539.7 139.4L540.2 140.3L540.7 139.5L541.2 139.5L541.7 139.4L542.2 140.8L542.7 140.3L543.2 139.8L543.7 140.4L544.2 139.5L544.7 138.9L545.2 138.9L545.7 139.2L546.2 139.5L546.7 139.4L547.2 140.1L547.7 138.5L548.2 140.2L548.7 139.6L549.2 139.7L549.7 139.1L550.2 140.4L550.7 139.1L551.2 139.8L551.7 140.2L552.2 140.0L552.7 140.2L553.2 139.0L553.7 140.0L554.2 140.0L554.7 140.1L555.2 139.8L555.7 139.9L556.2 140.1L556.7 139.3L557.2 138.8L557.7 139.9L558.2 138.2L558.7 138.8L559.2 137.3L559.7 136.7L560.2 135.1L560.7 135.8L561.2 136.2L561.7 137.1L562.2 138.1L562.7 138.3L563.2 139.0L563.7 139.0L564.2 139.6L564.7 139.2L565.2 139.1L565.7 139.3L566.2 139.6L566.7 139.0L567.2 139.5L567.7 139.1L568.2 139.3L568.7 138.8L569.2 139.7L569.7 140.4L570.2 139.4L570.7 140.1L571.2 139.5L571.7 139.2L572.2 139.6L572.7 138.8L573.2 139.2L573.7 138.0L574.2 137.6L574.7 138.1L575.2 136.8L575.7 135.9L576.2 137.1L576.7 137.0L577.2 136.1L577.7 138.6L578.2 139.6L578.7 139.3L579.2 139.7L579.7 139.0L580.2 139.3L580.7 139.2L581.2 140.3L581.7 140.6L582.2 140.4L582.7 139.8L583.2 138.8L583.7 139.5L584.2 139.2L584.7 140.4L585.2 139.6L585.7 140.7L586.2 139.8L586.7 141.0L587.2 139.3L587.7 139.0L588.2 140.8L588.7 140.0L589.2 140.1L589.7 140.8L590.2 140.6L590.7 140.3L591.2 138.7L591.7 140.1L592.2 138.8L592.7 140.4L593.2 139.2L593.7 138.7L594.2 139.2L594.7 138.6L595.2 137.4L595.7 137.9L596.2 136.1L596.7 135.1L597.2 136.3L597.7 136.7L598.2 136.8L598.7 137.0L599.2 137.3L599.7 138.5L600.2 139.7L600.7 139.4L601.2 140.1L601.7 139.2L602.2 140.1L602.7 140.4L603.2 139.3L603.7 139.5L604.2 140.3L604.7 140.6L605.2 140.5L605.7 139.9L606.2 139.7L606.7 139.5L607.2 139.7L607.7 140.0L608.2 140.0L608.7 140.1L609.2 140.1L609.7 139.4L610.2 139.8L610.7 138.7L611.2 139.2L611.7 138.8L612.2 138.7L612.7 138.2L613.2 138.5L613.7 138.8L614.2 138.9L614.7 139.0L615.2 138.8L615.7 138.9L616.2 138.9L616.7 138.7L617.2 138.8L617.7 137.6L618.2 136.2L618.7 136.2L619.2 134.7L619.7 134.6L620.2 135.4L620.7 135.2L621.2 134.3L621.7 134.1L622.2 133.6L622.7 132.8L623.2 133.7L623.7 133.5L624.2 134.2L624.7 132.1L625.2 132.7L625.7 131.1L626.2 131.7L626.7 130.3L627.2 130.9L627.7 130.2L628.2 130.0L628.7 130.3L629.2 129.8L629.7 129.6L630.2 130.0L630.7 129.2L631.2 127.6L631.7 128.2L632.2 126.9L632.7 127.4L633.2 128.2L633.7 127.4L634.2 127.1L634.7 127.4L635.2 126.5L635.7 127.3L636.2 126.6L636.7 127.0L637.2 126.8L637.7 124.9L638.2 124.0L638.7 123.0L639.2 122.9L639.7 121.5L640.2 120.1L640.7 117.4L641.2 115.0L641.7 112.7L642.2 109.4L642.7 106.3L643.2 102.3L643.7 94.8L644.2 87.6L644.7 77.9L645.2 58.3L645.7 59.7L646.2 58.9L646.7 59.9L647.2 60.1L647.7 59.6L648.2 60.0L648.7 59.9L649.2 60.2L649.7 60.9L650.2 60.6L650.7 59.8L651.2 59.7L651.7 59.9L652.2 59.7L652.7 59.5L653.2 59.8L653.7 60.4L654.2 60.1L654.7 60.5L655.2 59.6L655.7 60.2L656.2 59.2L656.7 60.5L657.2 59.7L657.7 59.4L658.2 59.4L658.7 60.1L659.2 59.9L659.7 59.7L660.2 59.8L660.7 59.0L661.2 59.8L661.7 59.5L662.2 59.4L662.7 60.4L663.2 58.5L663.7 59.4L664.2 59.6L664.7 73.3L665.2 86.9L665.7 93.9L666.2 100.0L666.7 105.2L667.2 108.9L667.7 113.0L668.2 115.0L668.7 116.7L669.2 118.2L669.7 119.4L670.2 120.6L670.7 121.3L671.2 122.9L671.7 123.6L672.2 124.9L672.7 124.9L673.2 125.7L673.7 127.8L674.2 128.2L674.7 128.1L675.2 128.5L675.7 127.8L676.2 129.5L676.7 128.3L677.2 130.5L677.7 130.0L678.2 131.5L678.7 131.9L679.2 131.8L679.7 132.7L680.2 132.4L680.7 131.8L681.2 131.6L681.7 133.2L682.2 133.5L682.7 133.0L683.2 133.2L683.7 133.3L684.2 133.2L684.7 134.1L685.2 133.3L685.7 134.0L686.2 133.4L686.7 134.2L687.2 134.1L687.7 133.7L688.2 134.8L688.7 135.5L689.2 135.5L689.7 135.4L690.2 136.3L690.7 135.6L691.2 135.1L691.7 134.9L692.2 134.1L692.7 133.3L693.2 134.4L693.7 135.0L694.2 135.9L694.7 135.3L695.2 135.4L695.7 135.6L696.2 135.8L696.7 134.6L697.2 135.2L697.7 135.3L698.2 136.3L698.7 137.0L699.2 135.5L699.7 135.5L700.2 135.3L700.7 135.9L701.2 135.8L701.7 136.1L702.2 136.8L702.7 136.1L703.2 136.2L703.7 136.0L704.2 137.6L704.7 137.1L705.2 136.0L705.7 135.6L706.2 136.3L706.7 136.9L707.2 136.6L707.7 137.1L708.2 137.2L708.7 137.0L709.2 136.7L709.7 137.1L710.2 136.2L710.7 135.4L711.2 136.2L711.7 136.3L712.2 137.0L712.7 137.5L713.2 136.3L713.7 137.0L714.2 137.6L714.7 137.3L715.2 136.6L715.7 137.0L716.2 137.5L716.7 137.4L717.2 137.4L717.7 138.1L718.2 137.8L718.7 137.6L719.2 137.2L719.7 138.6L720.2 138.3L720.7 138.6L721.2 137.5L721.7 138.3L722.2 137.8L722.7 138.9L723.2 138.7L723.7 138.3L724.2 138.4L724.7 139.2L725.2 138.9L725.7 138.1L726.2 138.1L726.7 138.1L727.2 138.1L727.7 138.4L728.2 138.1L728.7 138.4L729.2 138.2L729.7 137.9L730.2 138.5L730.7 138.0L731.2 138.4L731.7 138.1L732.2 138.6L732.7 138.6L733.2 138.8L733.7 138.3L734.2 138.4L734.7 137.4L735.2 137.6L735.7 138.6L736.2 138.3L736.7 138.7L737.2 138.2L737.7 139.3L738.2 138.8L738.7 138.8L739.2 138.5L739.7 138.6L740.2 137.4L740.7 137.5L741.2 136.8L741.7 137.1L742.2 136.7L742.7 137.4L743.2 138.6L743.7 137.2L744.2 137.6L744.7 137.9L745.2 137.9L745.7 137.6L746.2 137.9L746.7 138.1L747.2 138.0L747.7 138.1L748.2 137.6L748.7 136.7L749.2 136.6L749.7 137.7L750.2 137.3L750.7 138.0L751.2 138.6L751.7 138.0L752.2 138.8L752.7 138.0L753.2 138.0L753.7 138.4L754.2 137.9L754.7 139.2L755.2 138.1L755.7 138.2L756.2 137.9L756.7 135.9L757.2 135.9L757.7 134.4L758.2 133.9L758.7 134.0L759.2 135.9L759.7 135.1L760.2 135.7L760.7 137.4L761.2 137.4L761.7 136.9L762.2 137.8L762.7 137.6L763.2 138.1L763.7 138.6L764.2 138.3L764.7 138.1L765.2 139.1L765.7 137.5L766.2 138.2L766.7 139.3L767.2 138.1L767.7 138.2L768.2 137.7L768.7 138.0L769.2 138.1L769.7 139.2L770.2 139.4L770.7 139.3L771.2 139.0L771.7 139.0L772.2 139.3L772.7 138.8L773.2 139.6L773.7 138.9L774.2 138.8L774.7 138.0L775.2 138.9L775.7 140.5L776.2 139.8L776.7 138.3L777.2 139.2L777.7 138.7L778.2 139.0L778.7 139.0L779.2 139.5L779.7 138.8L780.2 139.0L780.7 138.3L781.2 138.2L781.7 138.8L782.2 137.9L782.7 138.7L783.2 138.1L783.7 138.3L784.2 138.7L784.7 139.7L785.2 139.1L785.7 140.0L786.2 138.4L786.7 138.5L787.2 138.7L787.7 138.3L788.2 137.2L788.7 137.9L789.2 138.5L789.7 137.8L790.2 139.2L790.7 138.2L791.2 139.5L791.7 140.5L792.2 139.8L792.7 140.0L793.2 138.1L793.7 138.6L794.2 138.4L794.7 137.7L795.2 138.6L795.7 137.5L796.2 138.4L796.7 138.5L797.2 138.6L797.7 139.4L798.2 138.3L798.7 139.0L799.2 138.7L799.7 137.6L800.2 137.8L800.7 137.5L801.2 138.3L801.7 138.6L802.2 138.1L802.7 137.6L803.2 135.8L803.7 136.3L804.2 136.4L804.7 137.6L805.2 138.3L805.7 139.1L806.2 138.0L806.7 137.9L807.2 135.9L807.7 135.2L808.2 133.6L808.7 133.0L809.2 129.7L809.7 127.7L810.2 123.4L810.7 117.8L811.2 111.8L811.7 103.0L812.2 94.1L812.7 84.4L813.2 76.3L813.7 68.2L814.2 64.5L814.7 64.0L815.2 64.4L815.7 70.6L816.2 79.2L816.7 88.8L817.2 97.7L817.7 107.1L818.2 113.6L818.7 120.5L819.2 124.5L819.7 129.1L820.2 130.3L820.7 132.5L821.2 135.9L821.7 135.7L822.2 136.2L822.7 138.1L823.2 137.7L823.7 138.8L824.2 137.6L824.7 138.8L825.2 138.7L825.7 137.2L826.2 138.5L826.7 138.3L827.2 139.0L827.7 139.1L828.2 138.0L828.7 137.9L829.2 138.6L829.7 139.5L830.2 139.3L830.7 139.6L831.2 139.4L831.7 139.6L832.2 139.9L832.7 139.6L833.2 139.5L833.7 138.6L834.2 139.8L834.7 139.5L835.2 139.9L835.7 140.2L836.2 140.0L836.7 140.2L837.2 138.9L837.7 139.7L838.2 139.3L838.7 140.8L839.2 140.2L839.7 140.5L840.2 139.9L840.7 140.7L841.2 139.8L841.7 139.6L842.2 139.6L842.7 140.4L843.2 138.6L843.7 137.8L844.2 139.5L844.7 140.9L845.2 139.7L845.7 142.0L846.2 140.7L846.7 141.3L847.2 140.6L847.7 140.6L848.2 139.6L848.7 138.9L849.2 138.4L849.7 139.8L850.2 138.8L850.7 139.7L851.2 139.9L851.7 139.4L852.2 139.9L852.7 139.8L853.2 139.8L853.7 140.6L854.2 140.7L854.7 140.4L855.2 140.3L855.7 140.2L856.2 140.5L856.7 140.8L857.2 140.3L857.7 140.2L858.2 140.5L858.7 141.2L859.2 141.8L859.7 140.7L860.2 141.3L860.7 140.3L861.2 140.5L861.7 141.2L862.2 139.2L862.7 139.6L863.2 139.3L863.7 140.2L864.2 140.4L864.7 139.7L865.2 138.4L865.7 140.2L866.2 140.5L866.7 138.7L867.2 139.9L867.7 139.9L868.2 139.1L868.7 141.4L869.2 141.2L869.7 141.3L870.2 140.6L870.7 140.5L871.2 140.5L871.7 141.1L872.2 140.3L872.7 141.5L873.2 140.9L873.7 139.7L874.2 141.7L874.7 141.2L875.2 140.8L875.7 141.2L876.2 140.3L876.7 140.8L877.2 139.2L877.7 139.7L878.2 141.0L878.7 141.4L879.2 140.8L879.7 140.4L880.2 141.1L880.7 140.6L881.2 140.8L881.7 141.0L882.2 140.5L882.7 140.8L883.2 139.4L883.7 141.3L884.2 139.6L884.7 140.1L885.2 140.3L885.7 141.4L886.2 141.1L886.7 141.2L887.2 141.3L887.7 141.4L888.2 141.3L888.7 140.2L889.2 139.8L889.7 139.8L890.2 141.0L890.7 141.2L891.2 141.7L891.7 140.9L892.2 140.1L892.7 139.9L893.2 139.5L893.7 139.4L894.2 141.6L894.7 141.3L895.2 140.0L895.7 140.7L896.2 140.8L896.7 141.2L897.2 140.1L897.7 140.6L898.2 141.6L898.7 140.5L899.2 140.6L899.7 141.1L900.2 140.7L900.7 142.0L901.2 142.1L901.7 141.7L902.2 140.9L902.7 141.5L903.2 141.3L903.7 140.5L904.2 140.7L904.7 140.0L905.2 140.0L905.7 140.9L906.2 140.6L906.7 140.8L907.2 141.6L907.7 140.7L908.2 140.6L908.7 141.5L909.2 141.1L909.7 140.6L910.2 141.9L910.7 141.9L911.2 141.8L911.7 141.5L912.2 140.6L912.7 140.9L913.2 141.4L913.7 140.8L914.2 140.5L914.7 141.4L915.2 140.6L915.7 141.1L916.2 140.8L916.7 141.1L917.2 140.9L917.7 141.2L918.2 142.3L918.7 140.9L919.2 140.7L919.7 141.7L920.2 141.5L920.7 141.9L921.2 141.2L921.7 141.3L922.2 140.8L922.7 139.9L923.2 141.1L923.7 141.6L924.2 141.7L924.7 140.5L925.2 140.0L925.7 140.5L926.2 139.9L926.7 140.6L927.2 141.7L927.7 142.3L928.2 141.9L928.7 141.7L929.2 141.9L929.7 141.2L930.2 141.4L930.7 142.4L931.2 142.2L931.7 141.1L932.2 140.8L932.7 140.7L933.2 140.2L933.7 139.9L934.2 141.5L934.7 141.7L935.2 141.2L935.7 140.9L936.2 141.1L936.7 140.8L937.2 140.0L937.7 140.0L938.2 140.3L938.7 141.5L939.2 141.3L939.7 140.8L940.2 140.8L940.7 141.4L941.2 140.1L941.7 140.2L942.2 139.6L942.7 140.3L943.2 139.7L943.7 139.8L944.2 139.4L944.7 140.3L945.2 141.3L945.7 141.4L946.2 140.7L946.7 142.4L947.2 141.5L947.7 141.4L948.2 141.7L948.7 140.9L949.2 140.6L949.7 140.3L950.2 140.7L950.7 140.7L951.2 140.6L951.7 141.7L952.2 141.7L952.7 142.8L953.2 142.1L953.7 142.3L954.2 141.0L954.7 141.7L955.2 141.1L955.7 140.7L956.2 141.6L956.7 140.4L957.2 141.4L957.7 141.5L958.2 141.9L958.7 142.0L959.2 141.6L959.7 141.5L960.2 140.8L960.7 141.7L961.2 141.1L961.7 141.4L962.2 141.9L962.7 141.9L963.2 142.7L963.7 141.8L964.2 141.1L964.7 142.5L965.2 142.9L965.7 141.9L966.2 142.7L966.7 142.5L967.2 141.3L967.7 141.0L968.2 140.6L968.7 141.1L969.2 141.4L969.7 141.6L970.2 141.2L970.7 141.7L971.2 141.0L971.7 140.9L972.2 140.8L972.7 140.9L973.2 141.5L973.7 141.8L974.2 141.7L974.7 141.2L975.2 140.7L975.7 140.8L976.2 141.7L976.7 140.9L977.2 141.2L977.7 141.3L978.2 141.2L978.7 141.6L979.2 141.2L979.7 142.1L980.2 140.3L980.7 140.9L981.2 139.5L981.7 141.0L982.2 141.0L982.7 140.3L983.2 140.8L983.7 140.3L984.2 140.7L984.7 141.2L985.2 142.9L985.7 140.9L986.2 142.3L986.7 141.2L987.2 141.0L987.7 141.2L988.2 141.0L988.7 141.0L989.2 140.9L989.7 141.3L990.2 141.2L990.7 142.3L991.2 140.6L991.7 141.1L992.2 141.5L992.7 141.0L993.2 141.6L993.7 142.8L994.2 142.9L994.7 142.2L995.2 141.0L995.7 141.3L996.2 140.5L996.7 142.0L997.2 141.9L997.7 141.7L998.2 141.9L998.7 141.2L999.2 140.2L999.7 139.9L1000.2 140.7L1000.7 140.7L1001.2 141.3L1001.7 140.6L1002.2 141.0L1002.7 141.6L1003.2 141.9L1003.7 140.9L1004.2 140.3L1004.7 141.0L1005.2 140.9L1005.7 141.6L1006.2 141.0L1006.7 141.5L1007.2 140.6L1007.7 139.8L1008.2 140.7L1008.7 140.7L1009.2 141.1L1009.7 141.7L1010.2 140.6L1010.7 141.1L1011.2 139.9L1011.7 140.1L1012.2 139.2L1012.7 139.8L1013.2 139.5L1013.7 139.0L1014.2 137.7L1014.7 134.1L1015.2 130.9L1015.7 125.2L1016.2 118.8L1016.7 111.5L1017.2 104.7L1017.7 101.1L1018.2 100.8L1018.7 104.7L1019.2 108.4L1019.7 113.0L1020.2 115.1L1020.7 118.6L1021.2 119.0L1021.7 121.6L1022.2 122.9L1022.7 125.8L1023.2 127.8L1023.7 130.7L1024.2 133.1L1024.7 135.5L1025.2 137.6L1025.7 139.2L1026.2 140.2L1026.7 140.0L1027.2 140.6L1027.7 139.6L1028.2 139.0L1028.7 139.9L1029.2 139.9L1029.7 140.9L1030.2 140.5L1030.7 140.9L1031.2 141.1L1031.7 140.5L1032.2 141.2L1032.7 140.4L1033.2 141.4L1033.7 141.0L1034.2 140.5L1034.7 139.6L1035.2 140.2L1035.7 140.4L1036.2 140.0L1036.7 140.2L1037.2 140.2L1037.7 141.3L1038.2 141.6L1038.7 142.6L1039.2 141.4L1039.7 141.0L1040.2 140.9L1040.7 140.1L1041.2 140.3L1041.7 140.5L1042.2 140.6L1042.7 141.1L1043.2 141.7L1043.7 141.1L1044.2 140.1L1044.7 140.6L1045.2 141.2L1045.7 140.6L1046.2 140.9L1046.7 140.9L1047.2 140.7L1047.7 140.8L1048.2 140.3L1048.7 139.7L1049.2 141.1L1049.7 140.4L1050.2 142.2L1050.7 141.2L1051.2 140.7L1051.7 141.7L1052.2 141.4L1052.7 141.5L1053.2 141.3L1053.7 140.4L1054.2 140.4L1054.7 140.6L1055.2 141.8L1055.7 140.8L1056.2 140.0L1056.7 140.2L1057.2 140.3L1057.7 140.7L1058.2 139.4L1058.7 139.5L1059.2 139.0L1059.7 138.5L1060.2 139.2L1060.7 138.4L1061.2 139.6L1061.7 139.5L1062.2 138.5L1062.7 139.5L1063.2 139.0L1063.7 139.2L1064.2 137.7L1064.7 137.9L1065.2 136.9L1065.7 136.9L1066.2 136.8L1066.7 135.0L1067.2 135.7L1067.7 136.0L1068.2 136.5L1068.7 135.5L1069.2 134.7L1069.7 134.4L1070.2 133.8L1070.7 134.5L1071.2 134.8L1071.7 134.9L1072.2 135.0L1072.7 134.1L1073.2 136.4L1073.7 135.6L1074.2 135.4L1074.7 133.9L1075.2 132.8L1075.7 132.9L1076.2 133.2L1076.7 134.6L1077.2 134.6L1077.7 134.5L1078.2 135.6L1078.7 135.7L1079.2 135.4L1079.7 136.5L1080.2 136.3L1080.7 136.7L1081.2 136.5L1081.7 136.6L1082.2 137.5L1082.7 136.4L1083.2 136.7L1083.7 138.4L1084.2 137.2L1084.7 139.7L1085.2 138.9L1085.7 139.5L1086.2 139.6L1086.7 137.9L1087.2 138.4L1087.7 140.4L1088.2 139.5L1088.7 139.5L1089.2 139.4L1089.7 139.8L1090.2 139.7L1090.7 139.2L1091.2 139.8L1091.7 139.9L1092.2 140.4L1092.7 141.2L1093.2 140.4L1093.7 141.2L1094.2 140.3L1094.7 140.8L1095.2 141.4L1095.7 141.1L1096.2 140.9L1096.7 140.6L1097.2 140.4L1097.7 141.0L1098.2 140.9L1098.7 140.7L1099.2 140.1L1099.7 140.0L1100.2 140.7L1100.7 140.6L1101.2 139.7L1101.7 140.6L1102.2 140.5L1102.7 141.5L1103.2 143.3L1103.7 141.7L1104.2 141.2L1104.7 141.1L1105.2 140.6L1105.7 140.3L1106.2 140.9L1106.7 140.6L1107.2 141.7L1107.7 140.0L1108.2 141.1L1108.7 141.3" stroke="#f2a161" stroke-width="2.6"/>
<path d="M67.2 335.2L67.7 335.9L68.2 336.1L68.7 336.7L69.2 336.1L69.7 336.5L70.2 337.2L70.7 337.7L71.2 337.7L71.7 336.7L72.2 335.8L72.7 336.2L73.2 336.1L73.7 337.2L74.2 336.7L74.7 337.5L75.2 336.0L75.7 335.9L76.2 336.3L76.7 336.7L77.2 336.3L77.7 337.0L78.2 336.2L78.7 336.6L79.2 337.0L79.7 338.6L80.2 337.0L80.7 337.3L81.2 337.3L81.7 337.8L82.2 337.8L82.7 337.9L83.2 337.2L83.7 338.2L84.2 337.5L84.7 335.9L85.2 337.3L85.7 336.7L86.2 335.6L86.7 336.6L87.2 336.9L87.7 337.0L88.2 337.6L88.7 336.7L89.2 337.6L89.7 337.6L90.2 337.5L90.7 337.1L91.2 337.3L91.7 337.5L92.2 338.2L92.7 337.8L93.2 338.5L93.7 337.6L94.2 338.1L94.7 337.1L95.2 336.9L95.7 335.9L96.2 336.1L96.7 335.4L97.2 335.6L97.7 335.3L98.2 334.5L98.7 334.4L99.2 334.9L99.7 334.9L100.2 335.3L100.7 336.4L101.2 336.7L101.7 337.5L102.2 338.2L102.7 337.2L103.2 337.7L103.7 338.0L104.2 336.6L104.7 337.4L105.2 337.2L105.7 337.9L106.2 339.1L106.7 338.5L107.2 337.9L107.7 338.2L108.2 337.8L108.7 338.0L109.2 336.5L109.7 336.7L110.2 337.4L110.7 337.2L111.2 338.4L111.7 337.0L112.2 337.2L112.7 336.8L113.2 337.4L113.7 338.3L114.2 338.4L114.7 338.6L115.2 338.9L115.7 337.0L116.2 338.2L116.7 337.4L117.2 337.8L117.7 338.6L118.2 338.7L118.7 338.7L119.2 338.2L119.7 339.4L120.2 339.1L120.7 339.9L121.2 339.4L121.7 339.4L122.2 338.4L122.7 338.9L123.2 337.8L123.7 338.4L124.2 338.6L124.7 338.9L125.2 339.1L125.7 338.6L126.2 339.4L126.7 339.1L127.2 338.7L127.7 338.9L128.2 338.1L128.7 337.9L129.2 338.8L129.7 338.8L130.2 340.1L130.7 338.7L131.2 339.5L131.7 339.9L132.2 340.3L132.7 339.7L133.2 339.1L133.7 338.5L134.2 338.2L134.7 338.1L135.2 338.7L135.7 339.7L136.2 339.1L136.7 338.1L137.2 338.5L137.7 338.1L138.2 338.2L138.7 338.5L139.2 337.8L139.7 336.6L140.2 333.2L140.7 330.5L141.2 328.1L141.7 323.9L142.2 323.7L142.7 324.8L143.2 327.9L143.7 330.8L144.2 332.9L144.7 335.8L145.2 337.3L145.7 337.9L146.2 339.4L146.7 339.0L147.2 338.6L147.7 339.2L148.2 339.3L148.7 339.5L149.2 339.7L149.7 339.5L150.2 340.2L150.7 339.5L151.2 339.6L151.7 338.1L152.2 338.0L152.7 338.7L153.2 338.8L153.7 339.3L154.2 339.4L154.7 339.1L155.2 340.5L155.7 340.2L156.2 339.0L156.7 339.4L157.2 339.2L157.7 339.6L158.2 339.0L158.7 338.1L159.2 339.5L159.7 338.6L160.2 339.2L160.7 338.7L161.2 338.9L161.7 339.1L162.2 339.4L162.7 338.7L163.2 339.3L163.7 339.3L164.2 338.6L164.7 339.2L165.2 339.3L165.7 339.8L166.2 340.1L166.7 339.2L167.2 339.9L167.7 339.0L168.2 338.7L168.7 339.4L169.2 338.6L169.7 338.7L170.2 339.4L170.7 339.4L171.2 338.9L171.7 339.3L172.2 338.9L172.7 338.9L173.2 340.1L173.7 339.4L174.2 339.7L174.7 338.2L175.2 339.6L175.7 338.8L176.2 339.0L176.7 338.4L177.2 339.5L177.7 340.2L178.2 340.5L178.7 338.1L179.2 340.1L179.7 339.7L180.2 338.7L180.7 339.3L181.2 339.4L181.7 339.9L182.2 338.2L182.7 338.8L183.2 338.6L183.7 338.9L184.2 339.1L184.7 339.3L185.2 339.3L185.7 338.1L186.2 338.8L186.7 338.5L187.2 339.2L187.7 340.2L188.2 339.9L188.7 340.4L189.2 340.1L189.7 339.6L190.2 339.0L190.7 338.3L191.2 339.3L191.7 339.4L192.2 338.9L192.7 338.6L193.2 338.9L193.7 338.6L194.2 338.0L194.7 339.2L195.2 339.6L195.7 340.2L196.2 339.6L196.7 339.4L197.2 339.7L197.7 338.9L198.2 339.1L198.7 339.6L199.2 338.9L199.7 339.5L200.2 339.0L200.7 339.3L201.2 339.3L201.7 340.2L202.2 339.2L202.7 339.6L203.2 340.4L203.7 339.8L204.2 339.9L204.7 340.1L205.2 339.9L205.7 338.9L206.2 339.4L206.7 339.2L207.2 339.4L207.7 339.3L208.2 339.0L208.7 339.7L209.2 339.4L209.7 338.7L210.2 339.3L210.7 340.0L211.2 340.3L211.7 340.9L212.2 339.9L212.7 339.8L213.2 340.5L213.7 339.2L214.2 340.0L214.7 339.3L215.2 338.5L215.7 338.3L216.2 339.6L216.7 339.3L217.2 339.3L217.7 339.3L218.2 340.3L218.7 339.5L219.2 339.4L219.7 339.2L220.2 339.1L220.7 339.4L221.2 339.6L221.7 339.3L222.2 338.5L222.7 339.9L223.2 340.0L223.7 339.8L224.2 340.0L224.7 338.3L225.2 337.0L225.7 339.3L226.2 339.2L226.7 338.4L227.2 339.1L227.7 339.4L228.2 338.4L228.7 339.4L229.2 340.2L229.7 339.5L230.2 339.2L230.7 339.1L231.2 338.7L231.7 339.8L232.2 338.8L232.7 338.9L233.2 338.7L233.7 339.9L234.2 339.5L234.7 338.6L235.2 338.3L235.7 339.7L236.2 339.6L236.7 339.0L237.2 340.2L237.7 340.1L238.2 339.7L238.7 339.3L239.2 339.5L239.7 340.0L240.2 339.8L240.7 339.4L241.2 339.4L241.7 339.8L242.2 339.5L242.7 339.3L243.2 340.8L243.7 339.7L244.2 340.0L244.7 339.7L245.2 340.3L245.7 339.8L246.2 339.2L246.7 339.0L247.2 339.9L247.7 339.3L248.2 338.8L248.7 339.0L249.2 338.2L249.7 338.4L250.2 338.0L250.7 337.8L251.2 337.7L251.7 338.1L252.2 338.1L252.7 337.9L253.2 337.9L253.7 335.6L254.2 335.1L254.7 335.2L255.2 335.3L255.7 335.8L256.2 337.1L256.7 337.3L257.2 338.7L257.7 339.6L258.2 338.8L258.7 338.1L259.2 338.8L259.7 337.8L260.2 338.1L260.7 338.2L261.2 338.9L261.7 339.9L262.2 340.5L262.7 339.9L263.2 339.1L263.7 338.4L264.2 338.0L264.7 338.9L265.2 339.4L265.7 339.1L266.2 339.4L266.7 338.4L267.2 338.6L267.7 338.0L268.2 338.9L268.7 337.4L269.2 338.5L269.7 338.6L270.2 339.3L270.7 339.7L271.2 340.1L271.7 340.4L272.2 339.5L272.7 339.6L273.2 339.8L273.7 339.0L274.2 339.3L274.7 338.7L275.2 338.6L275.7 339.2L276.2 339.1L276.7 339.9L277.2 338.5L277.7 338.6L278.2 338.5L278.7 338.0L279.2 338.3L279.7 339.0L280.2 338.0L280.7 337.2L281.2 337.1L281.7 338.8L282.2 338.4L282.7 339.5L283.2 339.3L283.7 338.5L284.2 339.2L284.7 338.5L285.2 338.9L285.7 339.0L286.2 339.4L286.7 338.3L287.2 339.2L287.7 339.3L288.2 339.5L288.7 338.7L289.2 338.4L289.7 338.8L290.2 339.1L290.7 338.8L291.2 339.0L291.7 339.9L292.2 339.2L292.7 339.3L293.2 338.8L293.7 338.9L294.2 339.2L294.7 339.8L295.2 339.9L295.7 340.6L296.2 340.9L296.7 339.3L297.2 338.2L297.7 339.2L298.2 339.3L298.7 338.9L299.2 338.7L299.7 340.3L300.2 338.5L300.7 338.1L301.2 338.6L301.7 339.3L302.2 339.0L302.7 339.0L303.2 339.3L303.7 338.8L304.2 338.6L304.7 339.2L305.2 338.8L305.7 339.4L306.2 339.0L306.7 339.6L307.2 338.9L307.7 339.2L308.2 338.4L308.7 339.0L309.2 338.4L309.7 339.7L310.2 338.7L310.7 339.1L311.2 338.2L311.7 338.4L312.2 338.9L312.7 338.4L313.2 339.1L313.7 338.8L314.2 339.3L314.7 338.7L315.2 338.5L315.7 338.5L316.2 337.8L316.7 339.0L317.2 339.3L317.7 338.9L318.2 338.7L318.7 338.1L319.2 338.7L319.7 339.4L320.2 339.1L320.7 338.8L321.2 339.7L321.7 339.3L322.2 339.3L322.7 338.7L323.2 339.3L323.7 338.3L324.2 338.7L324.7 339.5L325.2 338.5L325.7 338.9L326.2 338.8L326.7 338.1L327.2 339.4L327.7 339.5L328.2 338.7L328.7 338.0L329.2 338.7L329.7 338.5L330.2 338.6L330.7 338.9L331.2 338.5L331.7 337.7L332.2 338.4L332.7 338.1L333.2 337.9L333.7 337.9L334.2 338.7L334.7 338.6L335.2 338.4L335.7 338.4L336.2 338.9L336.7 339.0L337.2 338.7L337.7 338.2L338.2 338.6L338.7 337.8L339.2 337.7L339.7 338.1L340.2 338.1L340.7 338.3L341.2 338.4L341.7 338.0L342.2 338.2L342.7 337.7L343.2 337.5L343.7 337.6L344.2 337.8L344.7 337.9L345.2 339.3L345.7 338.9L346.2 338.5L346.7 338.9L347.2 337.5L347.7 337.9L348.2 337.6L348.7 338.9L349.2 337.8L349.7 338.3L350.2 338.6L350.7 338.4L351.2 338.2L351.7 337.1L352.2 336.8L352.7 337.3L353.2 337.8L353.7 336.8L354.2 336.8L354.7 338.4L355.2 337.7L355.7 337.8L356.2 336.6L356.7 336.6L357.2 337.4L357.7 337.8L358.2 337.4L358.7 336.9L359.2 336.8L359.7 335.7L360.2 335.5L360.7 335.4L361.2 335.6L361.7 335.5L362.2 335.3L362.7 335.2L363.2 335.2L363.7 334.6L364.2 333.9L364.7 334.3L365.2 333.5L365.7 333.3L366.2 333.4L366.7 333.1L367.2 332.3L367.7 331.5L368.2 330.0L368.7 329.6L369.2 329.4L369.7 329.0L370.2 327.5L370.7 326.9L371.2 325.6L371.7 324.5L372.2 323.0L372.7 321.5L373.2 317.0L373.7 310.4L374.2 302.0L374.7 285.6L375.2 266.0L375.7 239.1L376.2 208.2L376.7 180.3L377.2 158.5L377.7 149.8L378.2 159.3L378.7 179.5L379.2 208.4L379.7 238.3L380.2 264.3L380.7 285.9L381.2 300.1L381.7 309.2L382.2 315.9L382.7 319.4L383.2 322.4L383.7 324.6L384.2 325.5L384.7 328.1L385.2 329.3L385.7 329.6L386.2 330.0L386.7 331.0L387.2 331.9L387.7 331.7L388.2 332.6L388.7 333.1L389.2 332.4L389.7 332.9L390.2 334.2L390.7 334.3L391.2 335.4L391.7 335.2L392.2 335.8L392.7 336.6L393.2 335.5L393.7 336.0L394.2 335.3L394.7 336.2L395.2 336.4L395.7 336.8L396.2 336.5L396.7 335.9L397.2 337.0L397.7 337.2L398.2 338.0L398.7 339.1L399.2 338.8L399.7 338.6L400.2 338.5L400.7 338.8L401.2 339.1L401.7 337.8L402.2 338.9L402.7 338.1L403.2 337.2L403.7 337.5L404.2 336.6L404.7 336.8L405.2 336.1L405.7 335.7L406.2 334.6L406.7 334.9L407.2 333.8L407.7 335.2L408.2 335.7L408.7 337.4L409.2 337.3L409.7 337.5L410.2 337.8L410.7 338.6L411.2 338.8L411.7 339.6L412.2 337.5L412.7 338.7L413.2 337.9L413.7 339.9L414.2 338.9L414.7 340.2L415.2 338.7L415.7 340.2L416.2 339.6L416.7 340.1L417.2 339.9L417.7 337.9L418.2 339.6L418.7 338.8L419.2 340.1L419.7 340.1L420.2 339.5L420.7 340.3L421.2 340.0L421.7 339.1L422.2 339.7L422.7 338.6L423.2 338.5L423.7 338.1L424.2 338.8L424.7 339.0L425.2 338.7L425.7 338.7L426.2 338.3L426.7 338.3L427.2 338.9L427.7 338.4L428.2 339.9L428.7 339.8L429.2 340.9L429.7 341.0L430.2 340.4L430.7 340.2L431.2 340.5L431.7 341.4L432.2 341.2L432.7 339.8L433.2 340.7L433.7 340.7L434.2 341.1L434.7 341.0L435.2 340.9L435.7 340.5L436.2 342.1L436.7 340.9L437.2 341.6L437.7 341.0L438.2 341.5L438.7 341.7L439.2 341.9L439.7 342.3L440.2 341.8L440.7 342.2L441.2 342.3L441.7 341.0L442.2 340.1L442.7 340.2L443.2 341.1L443.7 341.7L444.2 341.0L444.7 340.9L445.2 341.3L445.7 340.7L446.2 339.3L446.7 339.9L447.2 339.4L447.7 339.9L448.2 339.4L448.7 339.2L449.2 339.3L449.7 337.0L450.2 338.9L450.7 337.2L451.2 336.9L451.7 336.2L452.2 336.8L452.7 337.1L453.2 336.9L453.7 335.7L454.2 334.8L454.7 336.3L455.2 336.4L455.7 337.3L456.2 337.2L456.7 337.6L457.2 338.0L457.7 338.4L458.2 339.0L458.7 337.9L459.2 337.8L459.7 338.2L460.2 338.8L460.7 338.4L461.2 338.8L461.7 339.4L462.2 339.6L462.7 339.9L463.2 340.0L463.7 340.3L464.2 340.5L464.7 339.7L465.2 339.6L465.7 339.6L466.2 339.6L466.7 340.0L467.2 339.8L467.7 338.8L468.2 339.2L468.7 339.4L469.2 339.7L469.7 339.5L470.2 340.0L470.7 339.5L471.2 339.6L471.7 338.7L472.2 338.9L472.7 339.3L473.2 339.5L473.7 339.7L474.2 339.0L474.7 338.2L475.2 337.9L475.7 337.8L476.2 338.2L476.7 337.9L477.2 335.8L477.7 337.2L478.2 336.6L478.7 336.5L479.2 335.2L479.7 334.1L480.2 332.3L480.7 330.9L481.2 328.6L481.7 325.4L482.2 322.3L482.7 320.4L483.2 319.5L483.7 321.4L484.2 323.7L484.7 327.2L485.2 329.8L485.7 331.5L486.2 333.1L486.7 334.8L487.2 334.6L487.7 336.6L488.2 336.9L488.7 337.9L489.2 337.6L489.7 337.6L490.2 338.9L490.7 339.1L491.2 338.3L491.7 339.1L492.2 339.2L492.7 339.0L493.2 338.4L493.7 338.3L494.2 338.5L494.7 339.4L495.2 338.4L495.7 339.8L496.2 340.8L496.7 339.8L497.2 340.6L497.7 341.4L498.2 340.9L498.7 340.7L499.2 340.0L499.7 340.4L500.2 340.4L500.7 341.8L501.2 340.6L501.7 340.2L502.2 340.8L502.7 341.5L503.2 340.2L503.7 340.8L504.2 340.5L504.7 340.2L505.2 340.5L505.7 340.3L506.2 340.0L506.7 341.4L507.2 341.7L507.7 341.2L508.2 341.3L508.7 341.9L509.2 340.8L509.7 340.9L510.2 341.5L510.7 340.8L511.2 341.9L511.7 341.9L512.2 341.2L512.7 341.3L513.2 342.4L513.7 341.4L514.2 341.6L514.7 341.8L515.2 341.4L515.7 341.2L516.2 342.4L516.7 342.0L517.2 342.0L517.7 342.1L518.2 342.2L518.7 341.1L519.2 342.2L519.7 341.3L520.2 342.2L520.7 341.4L521.2 342.1L521.7 342.4L522.2 342.0L522.7 342.0L523.2 342.4L523.7 341.9L524.2 342.2L524.7 341.1L525.2 342.1L525.7 342.4L526.2 342.9L526.7 342.7L527.2 341.8L527.7 342.1L528.2 341.4L528.7 341.1L529.2 341.6L529.7 341.1L530.2 343.8L530.7 343.9L531.2 344.4L531.7 343.2L532.2 343.2L532.7 342.8L533.2 341.7L533.7 341.6L534.2 342.6L534.7 342.8L535.2 342.7L535.7 342.9L536.2 343.8L536.7 342.1L537.2 342.5L537.7 342.4L538.2 342.5L538.7 342.7L539.2 343.2L539.7 342.4L540.2 342.6L540.7 343.1L541.2 343.0L541.7 343.7L542.2 343.9L542.7 343.3L543.2 343.9L543.7 343.3L544.2 343.7L544.7 342.9L545.2 342.0L545.7 342.0L546.2 342.8L546.7 343.2L547.2 343.0L547.7 344.2L548.2 343.0L548.7 343.0L549.2 344.3L549.7 343.4L550.2 343.3L550.7 343.3L551.2 343.0L551.7 342.4L552.2 343.2L552.7 342.9L553.2 343.6L553.7 344.0L554.2 342.6L554.7 344.0L555.2 344.3L555.7 343.3L556.2 344.1L556.7 344.3L557.2 343.6L557.7 344.1L558.2 343.0L558.7 341.9L559.2 341.5L559.7 340.9L560.2 341.2L560.7 340.0L561.2 340.4L561.7 340.3L562.2 340.7L562.7 342.9L563.2 343.9L563.7 343.2L564.2 342.8L564.7 343.5L565.2 342.2L565.7 342.4L566.2 342.2L566.7 343.4L567.2 343.2L567.7 342.8L568.2 342.7L568.7 342.8L569.2 343.3L569.7 344.7L570.2 343.9L570.7 344.1L571.2 343.6L571.7 343.6L572.2 343.6L572.7 342.9L573.2 342.7L573.7 340.9L574.2 341.7L574.7 341.8L575.2 341.8L575.7 342.2L576.2 342.5L576.7 343.4L577.2 343.2L577.7 343.0L578.2 343.2L578.7 343.6L579.2 343.6L579.7 343.6L580.2 344.0L580.7 344.1L581.2 344.0L581.7 343.5L582.2 344.4L582.7 344.8L583.2 344.3L583.7 344.0L584.2 345.1L584.7 344.7L585.2 344.5L585.7 344.8L586.2 344.8L586.7 344.8L587.2 344.6L587.7 345.8L588.2 344.8L588.7 344.1L589.2 344.7L589.7 345.1L590.2 343.8L590.7 345.4L591.2 344.6L591.7 345.7L592.2 345.5L592.7 345.2L593.2 346.0L593.7 345.5L594.2 343.7L594.7 343.2L595.2 342.9L595.7 342.6L596.2 340.8L596.7 340.9L597.2 339.1L597.7 340.1L598.2 339.6L598.7 340.7L599.2 341.5L599.7 342.6L600.2 342.8L600.7 343.1L601.2 344.0L601.7 343.1L602.2 344.1L602.7 344.0L603.2 343.9L603.7 343.7L604.2 344.5L604.7 344.2L605.2 344.7L605.7 344.3L606.2 344.2L606.7 344.0L607.2 343.0L607.7 344.8L608.2 344.9L608.7 345.6L609.2 343.9L609.7 344.2L610.2 342.9L610.7 343.6L611.2 342.8L611.7 344.3L612.2 343.7L612.7 344.2L613.2 344.0L613.7 343.5L614.2 344.1L614.7 343.2L615.2 342.5L615.7 342.7L616.2 341.7L616.7 341.7L617.2 341.3L617.7 341.4L618.2 340.0L618.7 340.9L619.2 339.6L619.7 339.8L620.2 340.1L620.7 338.8L621.2 339.7L621.7 338.9L622.2 339.1L622.7 337.4L623.2 337.2L623.7 337.1L624.2 337.1L624.7 337.4L625.2 336.9L625.7 336.1L626.2 337.0L626.7 335.9L627.2 335.7L627.7 336.0L628.2 336.1L628.7 336.1L629.2 334.7L629.7 334.8L630.2 335.2L630.7 334.8L631.2 335.4L631.7 334.8L632.2 334.5L632.7 335.4L633.2 333.9L633.7 334.1L634.2 334.1L634.7 333.7L635.2 334.2L635.7 334.0L636.2 333.9L636.7 333.5L637.2 333.4L637.7 332.8L638.2 332.3L638.7 332.0L639.2 331.2L639.7 330.7L640.2 328.4L640.7 326.5L641.2 325.0L641.7 323.5L642.2 321.2L642.7 318.4L643.2 316.4L643.7 312.7L644.2 308.6L644.7 303.0L645.2 296.5L645.7 284.5L646.2 267.8L646.7 246.1L647.2 219.1L647.7 180.7L648.2 110.6L648.7 69.0L649.2 59.7L649.7 59.9L650.2 60.3L650.7 60.5L651.2 60.4L651.7 60.7L652.2 60.5L652.7 60.6L653.2 60.3L653.7 59.6L654.2 60.4L654.7 60.1L655.2 59.3L655.7 59.4L656.2 59.0L656.7 59.2L657.2 60.6L657.7 60.9L658.2 59.7L658.7 60.1L659.2 64.5L659.7 94.4L660.2 136.9L660.7 181.0L661.2 209.9L661.7 232.6L662.2 253.1L662.7 271.4L663.2 285.3L663.7 295.8L664.2 301.6L664.7 306.0L665.2 309.2L665.7 311.7L666.2 313.5L666.7 317.4L667.2 319.0L667.7 322.6L668.2 323.6L668.7 325.7L669.2 327.8L669.7 330.5L670.2 331.3L670.7 333.3L671.2 332.9L671.7 333.0L672.2 333.4L672.7 333.7L673.2 333.1L673.7 334.6L674.2 334.6L674.7 335.8L675.2 335.2L675.7 336.8L676.2 336.0L676.7 336.1L677.2 335.9L677.7 336.0L678.2 336.4L678.7 335.7L679.2 336.9L679.7 336.2L680.2 336.5L680.7 335.6L681.2 337.6L681.7 338.2L682.2 338.7L682.7 339.0L683.2 338.9L683.7 339.0L684.2 339.6L684.7 338.6L685.2 339.6L685.7 340.1L686.2 339.7L686.7 340.0L687.2 339.8L687.7 339.8L688.2 340.7L688.7 339.7L689.2 340.4L689.7 339.8L690.2 339.1L690.7 340.9L691.2 341.2L691.7 341.5L692.2 340.4L692.7 340.9L693.2 339.9L693.7 339.7L694.2 340.5L694.7 340.3L695.2 341.8L695.7 341.3L696.2 341.7L696.7 341.0L697.2 340.7L697.7 341.0L698.2 341.8L698.7 340.6L699.2 340.6L699.7 341.4L700.2 342.8L700.7 340.9L701.2 341.6L701.7 341.4L702.2 341.7L702.7 341.7L703.2 341.5L703.7 341.0L704.2 341.3L704.7 341.2L705.2 340.8L705.7 341.4L706.2 341.0L706.7 341.9L707.2 342.0L707.7 342.8L708.2 341.8L708.7 342.9L709.2 342.3L709.7 342.4L710.2 341.8L710.7 341.2L711.2 341.6L711.7 342.7L712.2 341.7L712.7 341.9L713.2 342.0L713.7 341.7L714.2 342.2L714.7 341.7L715.2 342.4L715.7 343.2L716.2 343.0L716.7 342.3L717.2 341.8L717.7 343.4L718.2 342.3L718.7 342.0L719.2 342.2L719.7 341.8L720.2 342.4L720.7 341.5L721.2 342.2L721.7 342.1L722.2 342.9L722.7 342.0L723.2 342.0L723.7 341.4L724.2 341.8L724.7 342.1L725.2 340.3L725.7 342.4L726.2 342.4L726.7 342.3L727.2 342.8L727.7 342.9L728.2 342.6L728.7 342.0L729.2 342.4L729.7 342.5L730.2 342.3L730.7 341.7L731.2 342.3L731.7 341.9L732.2 343.3L732.7 343.3L733.2 343.6L733.7 342.9L734.2 342.8L734.7 343.1L735.2 343.3L735.7 342.9L736.2 342.9L736.7 341.7L737.2 342.7L737.7 342.9L738.2 342.6L738.7 343.8L739.2 342.7L739.7 342.9L740.2 344.2L740.7 343.4L741.2 343.2L741.7 343.0L742.2 342.5L742.7 342.2L743.2 343.7L743.7 344.6L744.2 343.6L744.7 343.7L745.2 344.2L745.7 343.0L746.2 342.5L746.7 343.4L747.2 343.8L747.7 343.1L748.2 343.8L748.7 343.8L749.2 343.4L749.7 344.5L750.2 343.7L750.7 343.5L751.2 343.2L751.7 341.8L752.2 343.7L752.7 343.9L753.2 343.9L753.7 342.8L754.2 343.6L754.7 343.1L755.2 342.6L755.7 343.6L756.2 342.7L756.7 341.8L757.2 342.5L757.7 341.6L758.2 341.0L758.7 341.0L759.2 340.6L759.7 341.2L760.2 341.1L760.7 342.0L761.2 342.3L761.7 341.7L762.2 343.2L762.7 343.2L763.2 343.5L763.7 343.9L764.2 344.3L764.7 343.9L765.2 342.6L765.7 343.6L766.2 343.1L766.7 342.9L767.2 343.6L767.7 343.3L768.2 344.3L768.7 343.6L769.2 343.0L769.7 343.3L770.2 342.9L770.7 343.4L771.2 343.6L771.7 343.6L772.2 344.3L772.7 343.5L773.2 343.5L773.7 344.5L774.2 343.4L774.7 344.3L775.2 344.3L775.7 343.1L776.2 344.0L776.7 345.0L777.2 343.2L777.7 343.5L778.2 343.0L778.7 343.2L779.2 343.3L779.7 343.2L780.2 343.8L780.7 343.4L781.2 343.9L781.7 343.4L782.2 343.9L782.7 343.4L783.2 343.1L783.7 344.1L784.2 343.4L784.7 343.5L785.2 344.4L785.7 342.5L786.2 343.3L786.7 343.4L787.2 342.9L787.7 343.5L788.2 344.3L788.7 343.0L789.2 343.8L789.7 343.8L790.2 343.1L790.7 343.7L791.2 343.9L791.7 343.1L792.2 342.1L792.7 343.2L793.2 342.7L793.7 342.1L794.2 342.7L794.7 341.8L795.2 343.3L795.7 344.4L796.2 342.1L796.7 343.7L797.2 342.4L797.7 342.4L798.2 342.8L798.7 343.3L799.2 342.9L799.7 342.5L800.2 342.1L800.7 342.5L801.2 343.0L801.7 342.4L802.2 342.8L802.7 343.0L803.2 342.4L803.7 343.4L804.2 343.2L804.7 343.7L805.2 343.2L805.7 342.6L806.2 342.3L806.7 342.1L807.2 341.5L807.7 341.8L808.2 341.4L808.7 340.4L809.2 340.2L809.7 339.2L810.2 337.4L810.7 334.9L811.2 331.3L811.7 326.6L812.2 319.7L812.7 307.7L813.2 295.9L813.7 283.6L814.2 273.2L814.7 268.8L815.2 271.1L815.7 280.1L816.2 290.7L816.7 303.3L817.2 313.7L817.7 323.2L818.2 329.7L818.7 334.6L819.2 336.6L819.7 339.1L820.2 339.9L820.7 340.6L821.2 341.2L821.7 341.1L822.2 341.8L822.7 341.8L823.2 342.6L823.7 342.3L824.2 342.4L824.7 343.1L825.2 343.2L825.7 343.4L826.2 343.8L826.7 343.8L827.2 344.1L827.7 343.8L828.2 342.9L828.7 343.1L829.2 343.7L829.7 343.3L830.2 343.6L830.7 343.9L831.2 343.8L831.7 344.0L832.2 343.5L832.7 344.4L833.2 343.8L833.7 343.4L834.2 342.7L834.7 342.8L835.2 342.7L835.7 344.5L836.2 343.5L836.7 344.3L837.2 344.4L837.7 343.8L838.2 343.8L838.7 344.2L839.2 344.5L839.7 344.2L840.2 344.6L840.7 344.0L841.2 343.3L841.7 345.2L842.2 343.5L842.7 343.2L843.2 344.9L843.7 344.3L844.2 345.4L844.7 345.9L845.2 345.6L845.7 345.2L846.2 344.3L846.7 343.7L847.2 344.3L847.7 344.7L848.2 344.1L848.7 344.4L849.2 343.6L849.7 342.9L850.2 344.5L850.7 344.5L851.2 345.4L851.7 346.1L852.2 344.8L852.7 344.8L853.2 343.8L853.7 344.3L854.2 344.1L854.7 344.4L855.2 344.8L855.7 344.2L856.2 344.9L856.7 344.5L857.2 344.6L857.7 342.4L858.2 343.3L858.7 344.5L859.2 343.6L859.7 344.1L860.2 345.7L860.7 345.7L861.2 344.6L861.7 344.2L862.2 343.5L862.7 344.2L863.2 344.1L863.7 344.5L864.2 344.9L864.7 345.0L865.2 345.7L865.7 345.0L866.2 344.7L866.7 345.2L867.2 344.6L867.7 344.1L868.2 344.4L868.7 344.8L869.2 344.5L869.7 344.2L870.2 344.3L870.7 344.2L871.2 343.9L871.7 344.4L872.2 343.8L872.7 344.5L873.2 344.7L873.7 345.2L874.2 345.2L874.7 345.2L875.2 344.9L875.7 344.8L876.2 344.2L876.7 344.7L877.2 344.6L877.7 344.9L878.2 345.3L878.7 345.1L879.2 345.2L879.7 344.3L880.2 344.8L880.7 344.9L881.2 344.2L881.7 344.6L882.2 344.1L882.7 344.4L883.2 343.7L883.7 344.2L884.2 343.9L884.7 344.3L885.2 343.9L885.7 344.2L886.2 344.6L886.7 345.2L887.2 344.2L887.7 345.1L888.2 346.2L888.7 344.9L889.2 344.6L889.7 343.3L890.2 344.2L890.7 345.1L891.2 344.9L891.7 345.0L892.2 345.6L892.7 344.8L893.2 345.3L893.7 344.0L894.2 345.6L894.7 344.8L895.2 344.4L895.7 345.7L896.2 345.4L896.7 345.3L897.2 344.6L897.7 344.8L898.2 345.0L898.7 344.5L899.2 344.9L899.7 345.2L900.2 344.8L900.7 345.1L901.2 344.8L901.7 345.0L902.2 345.4L902.7 345.6L903.2 345.4L903.7 345.7L904.2 345.3L904.7 345.8L905.2 345.4L905.7 346.1L906.2 346.0L906.7 346.0L907.2 345.2L907.7 345.0L908.2 345.6L908.7 344.8L909.2 345.1L909.7 344.3L910.2 344.0L910.7 344.3L911.2 345.0L911.7 343.7L912.2 344.7L912.7 344.2L913.2 344.5L913.7 344.7L914.2 345.2L914.7 344.4L915.2 345.1L915.7 344.9L916.2 344.0L916.7 343.8L917.2 344.8L917.7 345.3L918.2 345.6L918.7 345.5L919.2 345.9L919.7 345.7L920.2 344.9L920.7 345.2L921.2 345.6L921.7 345.4L922.2 345.6L922.7 344.9L923.2 345.3L923.7 344.6L924.2 345.2L924.7 345.1L925.2 344.2L925.7 344.9L926.2 344.6L926.7 344.8L927.2 346.3L927.7 345.7L928.2 345.2L928.7 344.7L929.2 344.8L929.7 344.7L930.2 345.2L930.7 344.6L931.2 344.7L931.7 344.8L932.2 344.8L932.7 346.0L933.2 345.2L933.7 344.1L934.2 343.3L934.7 343.9L935.2 344.4L935.7 344.8L936.2 345.1L936.7 345.2L937.2 345.5L937.7 345.7L938.2 343.5L938.7 344.7L939.2 344.2L939.7 343.8L940.2 344.3L940.7 344.1L941.2 345.1L941.7 345.7L942.2 345.5L942.7 345.1L943.2 346.1L943.7 345.9L944.2 345.6L944.7 345.1L945.2 345.9L945.7 346.3L946.2 344.9L946.7 346.4L947.2 345.0L947.7 345.2L948.2 344.0L948.7 344.8L949.2 344.9L949.7 345.5L950.2 346.4L950.7 344.6L951.2 344.6L951.7 344.8L952.2 344.5L952.7 345.9L953.2 344.4L953.7 346.2L954.2 344.4L954.7 345.2L955.2 345.6L955.7 345.1L956.2 343.8L956.7 344.8L957.2 345.4L957.7 345.4L958.2 346.3L958.7 345.8L959.2 345.3L959.7 344.8L960.2 345.5L960.7 344.8L961.2 345.9L961.7 345.2L962.2 344.8L962.7 346.0L963.2 345.9L963.7 346.3L964.2 345.0L964.7 344.7L965.2 344.6L965.7 344.3L966.2 344.9L966.7 344.5L967.2 345.1L967.7 344.5L968.2 345.9L968.7 345.5L969.2 345.2L969.7 346.1L970.2 345.3L970.7 344.6L971.2 344.4L971.7 344.0L972.2 344.6L972.7 344.1L973.2 344.5L973.7 344.6L974.2 344.8L974.7 345.3L975.2 344.6L975.7 344.6L976.2 345.4L976.7 344.5L977.2 345.0L977.7 345.1L978.2 344.2L978.7 345.2L979.2 345.3L979.7 344.6L980.2 345.0L980.7 344.6L981.2 345.6L981.7 345.7L982.2 344.8L982.7 345.3L983.2 343.9L983.7 345.5L984.2 345.5L984.7 345.2L985.2 343.9L985.7 344.8L986.2 344.5L986.7 345.3L987.2 344.7L987.7 344.8L988.2 344.7L988.7 345.2L989.2 344.8L989.7 345.7L990.2 345.2L990.7 345.2L991.2 345.0L991.7 344.7L992.2 345.1L992.7 345.5L993.2 344.7L993.7 344.6L994.2 344.1L994.7 344.1L995.2 343.7L995.7 343.4L996.2 345.3L996.7 345.4L997.2 345.0L997.7 345.9L998.2 344.3L998.7 345.3L999.2 345.0L999.7 345.4L1000.2 345.7L1000.7 345.5L1001.2 345.2L1001.7 344.4L1002.2 344.0L1002.7 344.5L1003.2 345.1L1003.7 345.0L1004.2 344.8L1004.7 344.9L1005.2 345.3L1005.7 345.6L1006.2 344.0L1006.7 344.9L1007.2 344.7L1007.7 343.9L1008.2 343.9L1008.7 344.4L1009.2 343.8L1009.7 343.6L1010.2 343.7L1010.7 344.1L1011.2 343.8L1011.7 344.1L1012.2 343.7L1012.7 342.9L1013.2 342.4L1013.7 340.8L1014.2 338.2L1014.7 335.6L1015.2 331.3L1015.7 325.1L1016.2 319.0L1016.7 314.1L1017.2 311.7L1017.7 313.8L1018.2 317.3L1018.7 320.6L1019.2 323.9L1019.7 326.9L1020.2 328.1L1020.7 329.0L1021.2 331.5L1021.7 334.3L1022.2 336.3L1022.7 338.8L1023.2 339.6L1023.7 340.5L1024.2 341.2L1024.7 341.5L1025.2 343.0L1025.7 344.0L1026.2 343.8L1026.7 344.3L1027.2 344.2L1027.7 343.7L1028.2 342.9L1028.7 344.3L1029.2 344.1L1029.7 343.4L1030.2 344.7L1030.7 343.9L1031.2 344.0L1031.7 344.1L1032.2 343.9L1032.7 345.0L1033.2 343.9L1033.7 345.5L1034.2 344.5L1034.7 343.8L1035.2 345.0L1035.7 343.5L1036.2 344.2L1036.7 344.0L1037.2 343.4L1037.7 343.3L1038.2 344.0L1038.7 344.0L1039.2 344.6L1039.7 345.0L1040.2 345.4L1040.7 345.3L1041.2 344.4L1041.7 344.1L1042.2 344.5L1042.7 344.5L1043.2 343.2L1043.7 343.8L1044.2 344.8L1044.7 343.8L1045.2 344.2L1045.7 344.1L1046.2 344.5L1046.7 343.9L1047.2 343.8L1047.7 343.4L1048.2 344.7L1048.7 344.5L1049.2 343.6L1049.7 344.1L1050.2 344.0L1050.7 343.3L1051.2 343.7L1051.7 344.2L1052.2 344.3L1052.7 343.4L1053.2 344.5L1053.7 344.6L1054.2 344.6L1054.7 345.1L1055.2 342.8L1055.7 344.5L1056.2 344.3L1056.7 343.8L1057.2 343.0L1057.7 342.8L1058.2 343.3L1058.7 342.4L1059.2 342.4L1059.7 341.6L1060.2 342.5L1060.7 342.3L1061.2 343.3L1061.7 342.6L1062.2 341.8L1062.7 342.0L1063.2 340.6L1063.7 340.8L1064.2 339.9L1064.7 339.6L1065.2 339.7L1065.7 338.3L1066.2 339.3L1066.7 339.1L1067.2 338.0L1067.7 338.9L1068.2 337.6L1068.7 338.8L1069.2 337.4L1069.7 337.0L1070.2 336.6L1070.7 336.6L1071.2 335.8L1071.7 335.8L1072.2 335.1L1072.7 336.4L1073.2 336.1L1073.7 336.9L1074.2 336.6L1074.7 336.1L1075.2 337.0L1075.7 336.6L1076.2 336.3L1076.7 336.1L1077.2 334.9L1077.7 335.2L1078.2 335.8L1078.7 335.3L1079.2 335.9L1079.7 336.7L1080.2 338.3L1080.7 338.3L1081.2 340.1L1081.7 338.2L1082.2 340.0L1082.7 340.1L1083.2 340.8L1083.7 341.4L1084.2 340.2L1084.7 340.1L1085.2 341.7L1085.7 342.1L1086.2 340.7L1086.7 342.8L1087.2 342.6L1087.7 342.5L1088.2 342.9L1088.7 343.1L1089.2 343.0L1089.7 343.1L1090.2 342.9L1090.7 343.9L1091.2 343.2L1091.7 343.6L1092.2 343.3L1092.7 343.5L1093.2 344.2L1093.7 343.9L1094.2 344.3L1094.7 343.5L1095.2 344.3L1095.7 344.2L1096.2 344.1L1096.7 344.4L1097.2 343.3L1097.7 344.7L1098.2 344.1L1098.7 343.0L1099.2 344.3L1099.7 344.1L1100.2 344.7L1100.7 344.8L1101.2 345.5L1101.7 344.8L1102.2 344.5L1102.7 344.5L1103.2 343.9L1103.7 342.5L1104.2 343.4L1104.7 343.6L1105.2 343.7L1105.7 345.1L1106.2 345.0L1106.7 343.5L1107.2 343.5L1107.7 344.4L1108.2 343.4L1108.7 343.7" stroke="#7fd1f7" stroke-width="2.6"/>
<path d="M67.2 384.9L67.7 386.8L68.2 385.8L68.7 385.7L69.2 386.9L69.7 386.1L70.2 386.4L70.7 386.4L71.2 384.7L71.7 385.2L72.2 385.5L72.7 385.6L73.2 385.6L73.7 386.0L74.2 386.1L74.7 386.0L75.2 386.3L75.7 386.1L76.2 385.4L76.7 385.3L77.2 384.9L77.7 385.5L78.2 384.5L78.7 385.3L79.2 386.5L79.7 385.8L80.2 385.5L80.7 385.9L81.2 385.9L81.7 385.5L82.2 385.6L82.7 386.0L83.2 384.9L83.7 384.9L84.2 384.9L84.7 385.2L85.2 385.4L85.7 385.3L86.2 386.1L86.7 387.2L87.2 385.4L87.7 385.7L88.2 385.9L88.7 385.0L89.2 386.7L89.7 384.7L90.2 385.4L90.7 386.0L91.2 387.0L91.7 387.0L92.2 386.8L92.7 386.6L93.2 386.7L93.7 385.5L94.2 386.3L94.7 387.0L95.2 385.9L95.7 386.1L96.2 386.4L96.7 385.6L97.2 385.0L97.7 386.1L98.2 385.7L98.7 386.0L99.2 385.6L99.7 385.8L100.2 385.3L100.7 387.1L101.2 384.9L101.7 385.4L102.2 387.4L102.7 386.9L103.2 385.4L103.7 386.5L104.2 385.9L104.7 386.9L105.2 385.7L105.7 386.1L106.2 387.1L106.7 387.1L107.2 386.2L107.7 386.3L108.2 385.8L108.7 386.8L109.2 386.1L109.7 387.2L110.2 387.4L110.7 386.4L111.2 386.6L111.7 386.8L112.2 386.7L112.7 387.8L113.2 387.3L113.7 387.3L114.2 387.1L114.7 385.7L115.2 385.8L115.7 386.2L116.2 386.2L116.7 385.8L117.2 386.6L117.7 386.3L118.2 386.4L118.7 387.1L119.2 386.0L119.7 386.2L120.2 386.3L120.7 386.8L121.2 387.1L121.7 386.3L122.2 387.8L122.7 387.1L123.2 386.3L123.7 386.3L124.2 385.8L124.7 386.9L125.2 387.6L125.7 386.9L126.2 387.8L126.7 387.1L127.2 386.4L127.7 387.1L128.2 387.6L128.7 387.6L129.2 386.5L129.7 388.3L130.2 386.9L130.7 386.6L131.2 386.9L131.7 387.9L132.2 387.3L132.7 387.8L133.2 386.4L133.7 387.0L134.2 387.0L134.7 387.2L135.2 386.6L135.7 387.3L136.2 386.5L136.7 385.7L137.2 385.2L137.7 386.1L138.2 385.4L138.7 384.7L139.2 385.5L139.7 385.1L140.2 384.8L140.7 384.1L141.2 384.7L141.7 385.2L142.2 385.4L142.7 385.4L143.2 386.3L143.7 386.0L144.2 385.2L144.7 385.4L145.2 384.3L145.7 385.7L146.2 384.9L146.7 385.7L147.2 386.1L147.7 385.9L148.2 387.0L148.7 385.9L149.2 385.8L149.7 386.3L150.2 385.9L150.7 386.2L151.2 386.1L151.7 385.7L152.2 386.3L152.7 385.8L153.2 386.2L153.7 386.4L154.2 385.9L154.7 386.8L155.2 387.0L155.7 386.7L156.2 386.2L156.7 386.8L157.2 386.2L157.7 387.4L158.2 386.0L158.7 386.8L159.2 386.9L159.7 386.8L160.2 387.5L160.7 387.2L161.2 387.0L161.7 387.1L162.2 385.5L162.7 386.1L163.2 386.2L163.7 387.7L164.2 387.4L164.7 387.7L165.2 387.5L165.7 386.3L166.2 387.1L166.7 386.0L167.2 385.9L167.7 387.0L168.2 387.6L168.7 386.9L169.2 386.7L169.7 387.1L170.2 387.5L170.7 387.2L171.2 387.9L171.7 387.0L172.2 387.5L172.7 386.0L173.2 387.3L173.7 387.1L174.2 386.9L174.7 386.0L175.2 386.5L175.7 386.3L176.2 385.9L176.7 386.6L177.2 386.9L177.7 386.7L178.2 386.3L178.7 385.6L179.2 385.9L179.7 386.2L180.2 387.4L180.7 386.4L181.2 387.2L181.7 387.7L182.2 386.5L182.7 387.3L183.2 387.2L183.7 386.7L184.2 387.5L184.7 386.2L185.2 386.3L185.7 385.4L186.2 386.2L186.7 386.8L187.2 386.0L187.7 386.9L188.2 386.0L188.7 386.2L189.2 385.5L189.7 385.2L190.2 386.5L190.7 386.3L191.2 386.6L191.7 386.4L192.2 386.7L192.7 386.5L193.2 385.9L193.7 386.7L194.2 386.6L194.7 386.5L195.2 386.6L195.7 387.5L196.2 386.4L196.7 386.6L197.2 386.6L197.7 385.9L198.2 386.1L198.7 386.9L199.2 386.9L199.7 386.4L200.2 385.4L200.7 386.2L201.2 385.7L201.7 386.3L202.2 386.3L202.7 385.9L203.2 386.5L203.7 386.3L204.2 384.4L204.7 386.1L205.2 385.8L205.7 386.4L206.2 386.7L206.7 386.0L207.2 386.1L207.7 386.7L208.2 386.5L208.7 387.2L209.2 386.5L209.7 387.9L210.2 386.9L210.7 387.7L211.2 386.9L211.7 387.6L212.2 387.3L212.7 385.8L213.2 385.4L213.7 385.8L214.2 386.7L214.7 387.4L215.2 387.2L215.7 387.5L216.2 386.5L216.7 386.6L217.2 387.4L217.7 386.6L218.2 386.4L218.7 385.7L219.2 386.1L219.7 385.6L220.2 386.8L220.7 387.6L221.2 387.2L221.7 386.8L222.2 386.6L222.7 386.8L223.2 386.4L223.7 386.7L224.2 387.6L224.7 386.2L225.2 386.5L225.7 386.5L226.2 387.6L226.7 387.2L227.2 386.3L227.7 385.8L228.2 386.4L228.7 386.0L229.2 386.5L229.7 386.1L230.2 386.9L230.7 386.9L231.2 385.9L231.7 385.2L232.2 385.1L232.7 385.3L233.2 386.2L233.7 385.4L234.2 385.7L234.7 385.9L235.2 385.7L235.7 385.7L236.2 385.9L236.7 386.1L237.2 386.6L237.7 386.2L238.2 387.4L238.7 386.6L239.2 386.3L239.7 385.8L240.2 385.9L240.7 385.4L241.2 386.6L241.7 386.1L242.2 386.7L242.7 387.2L243.2 386.8L243.7 386.8L244.2 386.3L244.7 385.6L245.2 385.3L245.7 384.5L246.2 385.6L246.7 385.7L247.2 385.0L247.7 384.9L248.2 385.8L248.7 385.9L249.2 386.0L249.7 387.1L250.2 386.3L250.7 385.8L251.2 386.6L251.7 386.7L252.2 386.9L252.7 386.1L253.2 386.6L253.7 386.7L254.2 387.3L254.7 386.7L255.2 386.5L255.7 386.5L256.2 386.4L256.7 386.2L257.2 386.5L257.7 386.2L258.2 385.9L258.7 386.2L259.2 386.0L259.7 386.2L260.2 385.8L260.7 385.8L261.2 385.0L261.7 385.4L262.2 385.6L262.7 385.3L263.2 385.2L263.7 385.8L264.2 386.3L264.7 386.0L265.2 385.9L265.7 385.8L266.2 385.6L266.7 385.7L267.2 386.1L267.7 386.3L268.2 385.9L268.7 385.8L269.2 386.2L269.7 387.2L270.2 385.5L270.7 386.5L271.2 386.0L271.7 386.5L272.2 386.8L272.7 387.2L273.2 387.2L273.7 386.9L274.2 385.7L274.7 386.9L275.2 385.2L275.7 385.5L276.2 386.0L276.7 385.5L277.2 385.6L277.7 386.0L278.2 385.9L278.7 385.1L279.2 386.2L279.7 386.6L280.2 386.2L280.7 386.2L281.2 386.3L281.7 385.4L282.2 385.4L282.7 385.7L283.2 385.7L283.7 386.4L284.2 385.9L284.7 385.8L285.2 386.1L285.7 386.6L286.2 387.0L286.7 385.7L287.2 385.2L287.7 385.5L288.2 384.9L288.7 385.0L289.2 385.3L289.7 384.9L290.2 385.3L290.7 385.6L291.2 386.1L291.7 386.1L292.2 385.8L292.7 386.1L293.2 385.2L293.7 385.6L294.2 385.1L294.7 385.2L295.2 384.3L295.7 385.2L296.2 385.3L296.7 385.9L297.2 385.5L297.7 385.8L298.2 385.4L298.7 385.5L299.2 385.4L299.7 385.2L300.2 384.4L300.7 386.0L301.2 384.7L301.7 385.7L302.2 385.8L302.7 385.9L303.2 385.4L303.7 384.5L304.2 384.7L304.7 385.0L305.2 386.1L305.7 385.5L306.2 385.8L306.7 386.6L307.2 385.7L307.7 386.1L308.2 386.2L308.7 385.8L309.2 386.1L309.7 386.2L310.2 385.6L310.7 384.9L311.2 386.5L311.7 385.3L312.2 385.1L312.7 384.7L313.2 384.5L313.7 385.7L314.2 384.4L314.7 385.4L315.2 384.8L315.7 385.2L316.2 385.3L316.7 385.3L317.2 385.3L317.7 386.3L318.2 385.9L318.7 385.7L319.2 385.5L319.7 385.9L320.2 386.4L320.7 386.6L321.2 386.7L321.7 386.8L322.2 385.3L322.7 385.9L323.2 384.9L323.7 384.7L324.2 384.6L324.7 384.4L325.2 385.4L325.7 385.2L326.2 386.1L326.7 385.6L327.2 385.0L327.7 385.0L328.2 384.1L328.7 384.4L329.2 385.8L329.7 384.8L330.2 385.2L330.7 385.6L331.2 385.6L331.7 385.9L332.2 385.4L332.7 385.5L333.2 386.3L333.7 385.1L334.2 384.8L334.7 384.9L335.2 384.1L335.7 385.3L336.2 385.4L336.7 386.1L337.2 386.0L337.7 384.4L338.2 385.5L338.7 383.8L339.2 384.4L339.7 384.5L340.2 384.9L340.7 385.4L341.2 385.9L341.7 385.5L342.2 385.2L342.7 385.8L343.2 385.4L343.7 384.9L344.2 385.0L344.7 384.6L345.2 384.5L345.7 384.5L346.2 384.8L346.7 385.0L347.2 384.7L347.7 384.0L348.2 384.9L348.7 385.0L349.2 385.7L349.7 385.0L350.2 386.0L350.7 385.8L351.2 385.0L351.7 384.7L352.2 384.8L352.7 383.9L353.2 384.4L353.7 385.0L354.2 386.4L354.7 386.1L355.2 386.1L355.7 385.2L356.2 383.5L356.7 385.9L357.2 385.0L357.7 384.8L358.2 385.3L358.7 383.4L359.2 383.6L359.7 383.4L360.2 384.3L360.7 384.6L361.2 383.3L361.7 385.1L362.2 385.1L362.7 385.1L363.2 384.6L363.7 385.3L364.2 384.4L364.7 384.8L365.2 383.3L365.7 384.4L366.2 383.8L366.7 383.2L367.2 383.0L367.7 383.2L368.2 382.5L368.7 382.4L369.2 382.2L369.7 381.4L370.2 379.6L370.7 379.4L371.2 378.9L371.7 377.8L372.2 377.2L372.7 374.9L373.2 372.0L373.7 367.0L374.2 359.5L374.7 346.1L375.2 324.1L375.7 292.7L376.2 251.5L376.7 208.0L377.2 177.9L377.7 176.2L378.2 205.4L378.7 247.1L379.2 287.6L379.7 320.8L380.2 343.2L380.7 357.9L381.2 367.6L381.7 372.6L382.2 375.2L382.7 376.5L383.2 378.3L383.7 379.4L384.2 380.1L384.7 381.9L385.2 382.5L385.7 383.5L386.2 382.9L386.7 383.5L387.2 383.7L387.7 383.3L388.2 384.9L388.7 382.8L389.2 382.9L389.7 383.6L390.2 383.5L390.7 384.8L391.2 384.9L391.7 385.5L392.2 385.3L392.7 385.6L393.2 385.9L393.7 385.4L394.2 385.8L394.7 385.9L395.2 385.0L395.7 385.0L396.2 385.2L396.7 385.8L397.2 385.7L397.7 385.7L398.2 384.8L398.7 385.8L399.2 384.2L399.7 385.6L400.2 385.4L400.7 385.9L401.2 385.5L401.7 385.7L402.2 385.9L402.7 386.3L403.2 386.5L403.7 387.1L404.2 386.0L404.7 386.7L405.2 386.8L405.7 386.3L406.2 385.1L406.7 385.8L407.2 386.5L407.7 386.5L408.2 385.4L408.7 386.5L409.2 385.0L409.7 387.2L410.2 386.5L410.7 385.7L411.2 386.1L411.7 386.0L412.2 385.5L412.7 385.6L413.2 385.6L413.7 384.3L414.2 385.5L414.7 385.8L415.2 386.1L415.7 386.5L416.2 386.4L416.7 386.6L417.2 386.6L417.7 385.9L418.2 386.2L418.7 386.1L419.2 386.6L419.7 385.5L420.2 384.4L420.7 386.0L421.2 384.6L421.7 384.1L422.2 382.1L422.7 379.8L423.2 377.6L423.7 375.9L424.2 376.5L424.7 376.9L425.2 377.5L425.7 378.6L426.2 380.9L426.7 382.2L427.2 383.7L427.7 383.5L428.2 385.4L428.7 386.5L429.2 385.7L429.7 386.0L430.2 386.5L430.7 385.8L431.2 386.7L431.7 386.0L432.2 386.0L432.7 385.9L433.2 386.2L433.7 386.4L434.2 385.7L434.7 387.0L435.2 386.0L435.7 386.9L436.2 386.5L436.7 386.4L437.2 386.6L437.7 386.2L438.2 386.6L438.7 386.6L439.2 386.9L439.7 386.8L440.2 386.8L440.7 386.2L441.2 385.8L441.7 386.2L442.2 385.8L442.7 385.7L443.2 385.3L443.7 385.3L444.2 385.4L444.7 383.6L445.2 383.2L445.7 381.6L446.2 378.6L446.7 375.5L447.2 372.7L447.7 370.3L448.2 368.3L448.7 368.9L449.2 369.7L449.7 372.1L450.2 374.4L450.7 377.0L451.2 378.6L451.7 378.8L452.2 379.9L452.7 377.7L453.2 375.5L453.7 371.2L454.2 365.5L454.7 358.3L455.2 350.4L455.7 341.8L456.2 335.4L456.7 331.4L457.2 329.1L457.7 334.6L458.2 340.6L458.7 349.6L459.2 356.8L459.7 365.1L460.2 370.0L460.7 375.4L461.2 380.0L461.7 380.7L462.2 380.8L462.7 382.2L463.2 381.8L463.7 382.4L464.2 382.7L464.7 382.8L465.2 384.5L465.7 384.3L466.2 383.5L466.7 384.1L467.2 384.0L467.7 384.7L468.2 383.6L468.7 384.2L469.2 382.9L469.7 382.3L470.2 382.6L470.7 383.1L471.2 384.8L471.7 383.6L472.2 383.1L472.7 382.5L473.2 382.8L473.7 381.7L474.2 381.3L474.7 382.8L475.2 382.5L475.7 381.9L476.2 381.5L476.7 381.8L477.2 379.1L477.7 380.3L478.2 379.1L478.7 378.5L479.2 376.7L479.7 375.9L480.2 371.5L480.7 369.2L481.2 365.0L481.7 364.5L482.2 365.1L482.7 366.0L483.2 368.7L483.7 372.9L484.2 375.7L484.7 377.4L485.2 377.9L485.7 378.9L486.2 379.5L486.7 381.2L487.2 380.7L487.7 382.1L488.2 381.3L488.7 382.1L489.2 383.3L489.7 382.5L490.2 383.6L490.7 383.0L491.2 382.9L491.7 383.3L492.2 384.8L492.7 383.6L493.2 383.7L493.7 383.6L494.2 385.2L494.7 386.0L495.2 385.6L495.7 385.9L496.2 384.1L496.7 385.2L497.2 385.7L497.7 385.5L498.2 384.7L498.7 384.9L499.2 384.2L499.7 384.0L500.2 383.8L500.7 385.1L501.2 385.2L501.7 385.7L502.2 387.1L502.7 387.1L503.2 387.5L503.7 386.7L504.2 387.1L504.7 387.2L505.2 387.0L505.7 387.3L506.2 387.2L506.7 387.1L507.2 386.9L507.7 386.5L508.2 385.6L508.7 388.5L509.2 388.6L509.7 387.9L510.2 388.4L510.7 386.6L511.2 387.4L511.7 386.7L512.2 387.1L512.7 386.8L513.2 387.2L513.7 387.8L514.2 388.1L514.7 387.9L515.2 388.0L515.7 387.6L516.2 388.8L516.7 387.6L517.2 387.6L517.7 387.6L518.2 387.1L518.7 388.1L519.2 387.5L519.7 388.4L520.2 388.3L520.7 388.6L521.2 388.2L521.7 388.3L522.2 388.3L522.7 389.1L523.2 388.0L523.7 388.4L524.2 389.7L524.7 389.0L525.2 388.1L525.7 389.5L526.2 389.9L526.7 389.8L527.2 388.3L527.7 389.1L528.2 388.5L528.7 388.7L529.2 388.0L529.7 389.4L530.2 388.7L530.7 389.6L531.2 390.3L531.7 390.4L532.2 390.1L532.7 389.6L533.2 389.7L533.7 389.6L534.2 388.8L534.7 389.9L535.2 389.6L535.7 389.4L536.2 389.2L536.7 389.4L537.2 388.9L537.7 389.3L538.2 390.8L538.7 391.1L539.2 390.7L539.7 389.6L540.2 390.4L540.7 389.6L541.2 389.1L541.7 389.1L542.2 390.1L542.7 390.4L543.2 389.6L543.7 389.9L544.2 390.5L544.7 390.4L545.2 390.9L545.7 391.3L546.2 391.0L546.7 391.7L547.2 390.6L547.7 391.5L548.2 390.6L548.7 390.7L549.2 390.7L549.7 390.6L550.2 392.0L550.7 390.9L551.2 391.6L551.7 391.2L552.2 390.7L552.7 391.4L553.2 389.3L553.7 390.8L554.2 390.8L554.7 390.6L555.2 390.9L555.7 390.1L556.2 389.8L556.7 390.0L557.2 389.2L557.7 388.0L558.2 388.0L558.7 387.0L559.2 386.6L559.7 386.8L560.2 386.0L560.7 386.1L561.2 386.3L561.7 386.3L562.2 386.8L562.7 386.5L563.2 388.7L563.7 389.3L564.2 389.4L564.7 389.6L565.2 388.2L565.7 390.0L566.2 389.4L566.7 390.7L567.2 389.8L567.7 391.0L568.2 390.8L568.7 390.4L569.2 391.6L569.7 391.3L570.2 390.1L570.7 391.1L571.2 391.5L571.7 391.3L572.2 391.8L572.7 391.1L573.2 390.9L573.7 391.6L574.2 392.1L574.7 392.3L575.2 391.9L575.7 392.2L576.2 391.3L576.7 391.5L577.2 391.7L577.7 391.6L578.2 391.9L578.7 391.6L579.2 392.5L579.7 391.8L580.2 391.4L580.7 390.5L581.2 392.0L581.7 391.4L582.2 392.2L582.7 392.5L583.2 391.6L583.7 391.6L584.2 391.5L584.7 393.1L585.2 392.9L585.7 391.6L586.2 392.0L586.7 391.9L587.2 392.1L587.7 391.9L588.2 393.0L588.7 391.4L589.2 391.8L589.7 390.6L590.2 391.3L590.7 391.4L591.2 391.7L591.7 390.4L592.2 392.4L592.7 392.6L593.2 392.2L593.7 393.0L594.2 392.9L594.7 392.3L595.2 392.1L595.7 392.3L596.2 392.0L596.7 392.5L597.2 392.3L597.7 391.1L598.2 391.1L598.7 392.0L599.2 391.7L599.7 391.0L600.2 390.8L600.7 391.5L601.2 390.1L601.7 390.5L602.2 391.3L602.7 391.5L603.2 390.0L603.7 390.6L604.2 391.2L604.7 391.5L605.2 391.3L605.7 390.2L606.2 391.8L606.7 391.6L607.2 391.4L607.7 391.1L608.2 391.9L608.7 391.3L609.2 391.4L609.7 391.2L610.2 391.2L610.7 391.5L611.2 391.6L611.7 390.2L612.2 390.5L612.7 390.0L613.2 390.7L613.7 389.7L614.2 390.0L614.7 391.1L615.2 391.1L615.7 390.8L616.2 390.3L616.7 389.3L617.2 388.2L617.7 389.8L618.2 387.8L618.7 386.3L619.2 386.2L619.7 386.1L620.2 384.5L620.7 385.1L621.2 385.1L621.7 383.6L622.2 383.6L622.7 382.0L623.2 382.1L623.7 381.6L624.2 381.6L624.7 381.1L625.2 380.0L625.7 379.9L626.2 378.3L626.7 380.0L627.2 378.4L627.7 378.1L628.2 378.4L628.7 378.4L629.2 378.4L629.7 378.1L630.2 376.9L630.7 377.2L631.2 376.7L631.7 376.3L632.2 376.7L632.7 377.0L633.2 377.4L633.7 376.3L634.2 375.9L634.7 376.4L635.2 376.3L635.7 375.2L636.2 375.2L636.7 374.6L637.2 374.0L637.7 373.4L638.2 372.9L638.7 372.3L639.2 371.3L639.7 369.1L640.2 366.9L640.7 365.5L641.2 360.2L641.7 357.1L642.2 353.4L642.7 349.5L643.2 345.3L643.7 339.1L644.2 334.3L644.7 326.1L645.2 319.8L645.7 307.4L646.2 293.5L646.7 274.2L647.2 251.5L647.7 222.3L648.2 189.4L648.7 152.9L649.2 116.5L649.7 81.5L650.2 60.2L650.7 60.4L651.2 59.8L651.7 60.3L652.2 60.0L652.7 60.3L653.2 60.4L653.7 60.1L654.2 60.7L654.7 61.0L655.2 60.1L655.7 59.5L656.2 61.2L656.7 60.2L657.2 60.1L657.7 60.8L658.2 59.4L658.7 72.8L659.2 105.6L659.7 137.0L660.2 165.9L660.7 193.3L661.2 219.5L661.7 245.7L662.2 270.7L662.7 298.5L663.2 319.5L663.7 331.4L664.2 340.8L664.7 347.9L665.2 354.5L665.7 358.8L666.2 362.8L666.7 363.7L667.2 365.8L667.7 367.9L668.2 368.2L668.7 370.0L669.2 372.8L669.7 373.1L670.2 374.8L670.7 375.5L671.2 375.7L671.7 375.8L672.2 377.7L672.7 377.8L673.2 378.9L673.7 379.4L674.2 380.5L674.7 379.8L675.2 380.0L675.7 380.2L676.2 381.1L676.7 381.8L677.2 382.5L677.7 383.0L678.2 382.3L678.7 383.1L679.2 382.2L679.7 383.1L680.2 383.8L680.7 384.2L681.2 382.7L681.7 384.3L682.2 382.6L682.7 384.2L683.2 383.8L683.7 384.2L684.2 384.1L684.7 385.3L685.2 385.1L685.7 384.4L686.2 384.0L686.7 384.8L687.2 385.0L687.7 385.4L688.2 385.0L688.7 385.2L689.2 385.8L689.7 385.5L690.2 385.8L690.7 385.2L691.2 385.0L691.7 385.7L692.2 386.1L692.7 385.9L693.2 386.3L693.7 385.2L694.2 385.5L694.7 384.3L695.2 385.9L695.7 386.1L696.2 385.4L696.7 385.5L697.2 385.3L697.7 386.4L698.2 386.1L698.7 386.1L699.2 385.3L699.7 385.1L700.2 385.9L700.7 386.5L701.2 386.1L701.7 386.7L702.2 387.7L702.7 386.6L703.2 387.1L703.7 387.0L704.2 386.7L704.7 387.0L705.2 386.9L705.7 387.7L706.2 386.5L706.7 386.3L707.2 386.2L707.7 385.8L708.2 386.6L708.7 385.9L709.2 387.1L709.7 386.7L710.2 387.1L710.7 387.8L711.2 387.1L711.7 388.0L712.2 388.5L712.7 389.5L713.2 389.1L713.7 388.6L714.2 387.8L714.7 388.8L715.2 388.7L715.7 388.8L716.2 389.6L716.7 388.0L717.2 387.9L717.7 388.3L718.2 387.8L718.7 388.3L719.2 389.0L719.7 388.6L720.2 388.9L720.7 388.8L721.2 388.9L721.7 388.0L722.2 387.9L722.7 389.0L723.2 388.2L723.7 388.0L724.2 388.3L724.7 387.7L725.2 387.6L725.7 387.9L726.2 388.7L726.7 389.4L727.2 388.7L727.7 388.7L728.2 389.8L728.7 388.1L729.2 387.9L729.7 387.5L730.2 389.0L730.7 389.0L731.2 388.4L731.7 389.5L732.2 388.9L732.7 389.8L733.2 389.6L733.7 388.8L734.2 388.5L734.7 389.4L735.2 389.6L735.7 389.5L736.2 389.7L736.7 388.7L737.2 389.0L737.7 388.9L738.2 388.3L738.7 389.6L739.2 389.7L739.7 390.0L740.2 389.4L740.7 389.2L741.2 389.3L741.7 389.1L742.2 389.8L742.7 389.9L743.2 390.6L743.7 390.2L744.2 389.0L744.7 390.1L745.2 389.1L745.7 388.8L746.2 389.6L746.7 389.6L747.2 390.4L747.7 391.5L748.2 390.5L748.7 391.1L749.2 390.4L749.7 390.6L750.2 389.8L750.7 390.1L751.2 390.7L751.7 390.4L752.2 390.8L752.7 390.3L753.2 391.5L753.7 391.1L754.2 390.2L754.7 390.2L755.2 390.4L755.7 390.3L756.2 391.4L756.7 390.1L757.2 390.6L757.7 391.4L758.2 391.5L758.7 390.3L759.2 390.8L759.7 390.4L760.2 390.6L760.7 390.3L761.2 390.4L761.7 389.5L762.2 390.4L762.7 390.3L763.2 390.4L763.7 391.2L764.2 390.9L764.7 390.3L765.2 390.5L765.7 391.3L766.2 390.0L766.7 390.2L767.2 390.1L767.7 390.2L768.2 390.8L768.7 389.2L769.2 390.2L769.7 390.7L770.2 390.5L770.7 391.7L771.2 391.9L771.7 390.6L772.2 390.7L772.7 390.2L773.2 390.8L773.7 390.1L774.2 390.0L774.7 390.7L775.2 390.8L775.7 389.7L776.2 391.3L776.7 390.3L777.2 391.2L777.7 391.3L778.2 389.8L778.7 391.2L779.2 391.2L779.7 390.6L780.2 391.2L780.7 391.7L781.2 391.1L781.7 390.0L782.2 389.6L782.7 389.2L783.2 388.9L783.7 390.2L784.2 390.2L784.7 390.3L785.2 391.1L785.7 390.7L786.2 390.6L786.7 390.0L787.2 389.8L787.7 390.2L788.2 389.7L788.7 391.0L789.2 390.1L789.7 389.8L790.2 390.4L790.7 389.5L791.2 390.7L791.7 390.3L792.2 391.7L792.7 391.1L793.2 391.1L793.7 390.7L794.2 389.6L794.7 389.5L795.2 388.6L795.7 389.6L796.2 389.5L796.7 390.4L797.2 389.0L797.7 390.0L798.2 389.7L798.7 390.3L799.2 389.7L799.7 390.8L800.2 389.9L800.7 390.1L801.2 389.6L801.7 389.7L802.2 389.5L802.7 389.5L803.2 388.7L803.7 389.0L804.2 389.5L804.7 390.5L805.2 390.1L805.7 389.4L806.2 389.3L806.7 388.8L807.2 388.4L807.7 388.3L808.2 387.2L808.7 385.2L809.2 382.8L809.7 379.4L810.2 374.4L810.7 367.7L811.2 358.6L811.7 348.7L812.2 340.1L812.7 336.7L813.2 338.9L813.7 344.0L814.2 351.0L814.7 356.4L815.2 358.7L815.7 358.9L816.2 359.3L816.7 359.6L817.2 362.6L817.7 367.4L818.2 372.1L818.7 377.9L819.2 381.1L819.7 384.3L820.2 387.3L820.7 388.5L821.2 389.6L821.7 388.8L822.2 388.5L822.7 389.8L823.2 389.0L823.7 389.8L824.2 390.2L824.7 390.8L825.2 389.4L825.7 390.7L826.2 389.0L826.7 390.3L827.2 389.8L827.7 390.9L828.2 392.1L828.7 390.7L829.2 390.5L829.7 392.1L830.2 391.0L830.7 390.9L831.2 391.8L831.7 390.0L832.2 390.6L832.7 390.6L833.2 390.8L833.7 390.2L834.2 391.5L834.7 391.4L835.2 390.8L835.7 390.6L836.2 390.1L836.7 390.9L837.2 390.4L837.7 390.8L838.2 391.2L838.7 390.9L839.2 389.9L839.7 391.0L840.2 392.0L840.7 391.4L841.2 392.3L841.7 390.1L842.2 390.9L842.7 391.2L843.2 389.9L843.7 390.5L844.2 391.5L844.7 391.4L845.2 391.1L845.7 391.4L846.2 391.6L846.7 390.7L847.2 391.1L847.7 391.7L848.2 391.0L848.7 391.9L849.2 391.5L849.7 392.1L850.2 391.8L850.7 391.2L851.2 391.1L851.7 390.2L852.2 390.7L852.7 390.8L853.2 391.6L853.7 391.3L854.2 391.3L854.7 392.0L855.2 391.1L855.7 391.5L856.2 392.6L856.7 391.7L857.2 391.9L857.7 391.7L858.2 390.5L858.7 390.1L859.2 390.1L859.7 391.1L860.2 392.2L860.7 392.5L861.2 392.6L861.7 392.0L862.2 391.2L862.7 390.3L863.2 390.8L863.7 390.7L864.2 390.6L864.7 391.5L865.2 390.8L865.7 391.3L866.2 391.6L866.7 390.2L867.2 390.9L867.7 392.0L868.2 391.2L868.7 390.9L869.2 390.4L869.7 390.4L870.2 391.1L870.7 391.8L871.2 391.2L871.7 391.2L872.2 391.4L872.7 392.2L873.2 390.8L873.7 391.0L874.2 391.5L874.7 391.7L875.2 392.1L875.7 391.8L876.2 392.2L876.7 391.8L877.2 391.7L877.7 391.4L878.2 391.5L878.7 391.2L879.2 391.0L879.7 390.3L880.2 390.9L880.7 391.4L881.2 392.0L881.7 391.6L882.2 391.7L882.7 392.6L883.2 391.5L883.7 392.0L884.2 390.9L884.7 390.5L885.2 390.1L885.7 391.0L886.2 390.0L886.7 389.5L887.2 390.4L887.7 391.0L888.2 390.8L888.7 391.4L889.2 391.1L889.7 391.1L890.2 390.6L890.7 389.7L891.2 391.2L891.7 390.7L892.2 392.1L892.7 390.6L893.2 391.5L893.7 390.9L894.2 390.6L894.7 392.1L895.2 392.3L895.7 392.6L896.2 391.7L896.7 390.6L897.2 391.5L897.7 390.8L898.2 391.2L898.7 391.4L899.2 390.6L899.7 390.7L900.2 389.4L900.7 391.1L901.2 390.6L901.7 391.8L902.2 392.0L902.7 390.8L903.2 391.9L903.7 392.3L904.2 391.4L904.7 391.8L905.2 391.8L905.7 392.3L906.2 392.8L906.7 391.4L907.2 391.8L907.7 391.2L908.2 390.5L908.7 390.0L909.2 390.3L909.7 391.4L910.2 392.0L910.7 392.2L911.2 391.3L911.7 391.3L912.2 392.3L912.7 391.3L913.2 392.3L913.7 390.6L914.2 391.1L914.7 391.5L915.2 392.7L915.7 392.4L916.2 391.9L916.7 391.6L917.2 393.5L917.7 393.1L918.2 392.1L918.7 391.3L919.2 391.9L919.7 391.4L920.2 391.9L920.7 392.4L921.2 391.8L921.7 391.9L922.2 391.9L922.7 390.7L923.2 391.0L923.7 391.3L924.2 390.3L924.7 392.2L925.2 391.8L925.7 391.2L926.2 391.4L926.7 392.0L927.2 391.7L927.7 391.1L928.2 391.3L928.7 392.0L929.2 392.9L929.7 392.6L930.2 392.1L930.7 392.4L931.2 391.6L931.7 391.1L932.2 391.7L932.7 390.1L933.2 392.4L933.7 392.5L934.2 391.7L934.7 391.7L935.2 390.9L935.7 391.3L936.2 391.1L936.7 391.3L937.2 391.6L937.7 389.7L938.2 391.1L938.7 391.1L939.2 392.1L939.7 392.1L940.2 391.4L940.7 392.1L941.2 392.2L941.7 392.6L942.2 391.8L942.7 391.6L943.2 391.8L943.7 391.8L944.2 392.7L944.7 392.7L945.2 391.8L945.7 391.4L946.2 391.7L946.7 391.5L947.2 391.8L947.7 390.6L948.2 391.1L948.7 390.2L949.2 390.5L949.7 391.9L950.2 392.0L950.7 391.1L951.2 390.9L951.7 391.4L952.2 392.3L952.7 391.4L953.2 392.2L953.7 391.5L954.2 390.9L954.7 391.6L955.2 391.5L955.7 392.8L956.2 392.3L956.7 391.9L957.2 392.2L957.7 392.0L958.2 391.5L958.7 391.2L959.2 391.3L959.7 391.6L960.2 392.0L960.7 391.6L961.2 390.9L961.7 391.8L962.2 390.9L962.7 390.7L963.2 390.9L963.7 390.6L964.2 390.8L964.7 391.2L965.2 391.2L965.7 391.6L966.2 390.8L966.7 391.0L967.2 393.0L967.7 392.0L968.2 392.5L968.7 392.0L969.2 391.3L969.7 392.4L970.2 392.0L970.7 392.0L971.2 391.5L971.7 390.8L972.2 390.4L972.7 391.0L973.2 390.6L973.7 391.0L974.2 391.8L974.7 392.0L975.2 392.5L975.7 391.8L976.2 391.6L976.7 391.8L977.2 391.0L977.7 391.8L978.2 391.3L978.7 391.0L979.2 389.9L979.7 390.1L980.2 390.3L980.7 390.1L981.2 391.5L981.7 390.3L982.2 390.5L982.7 391.0L983.2 391.7L983.7 390.9L984.2 391.7L984.7 392.0L985.2 390.9L985.7 392.0L986.2 391.0L986.7 391.5L987.2 391.8L987.7 392.1L988.2 392.3L988.7 391.5L989.2 391.0L989.7 391.4L990.2 391.4L990.7 391.7L991.2 391.1L991.7 391.4L992.2 391.4L992.7 391.3L993.2 391.2L993.7 390.5L994.2 391.3L994.7 390.5L995.2 390.7L995.7 391.4L996.2 390.5L996.7 390.9L997.2 390.4L997.7 391.1L998.2 390.5L998.7 391.0L999.2 392.2L999.7 392.9L1000.2 393.2L1000.7 392.1L1001.2 391.9L1001.7 391.7L1002.2 390.4L1002.7 391.4L1003.2 391.3L1003.7 391.9L1004.2 391.3L1004.7 391.1L1005.2 390.4L1005.7 390.7L1006.2 391.5L1006.7 391.2L1007.2 393.3L1007.7 392.3L1008.2 391.5L1008.7 391.8L1009.2 391.9L1009.7 391.1L1010.2 391.0L1010.7 390.5L1011.2 390.5L1011.7 389.9L1012.2 389.4L1012.7 388.2L1013.2 386.3L1013.7 385.5L1014.2 382.7L1014.7 380.5L1015.2 377.1L1015.7 374.0L1016.2 368.3L1016.7 364.8L1017.2 362.6L1017.7 359.6L1018.2 357.2L1018.7 358.8L1019.2 361.0L1019.7 365.0L1020.2 367.5L1020.7 371.5L1021.2 375.8L1021.7 379.5L1022.2 381.4L1022.7 385.4L1023.2 387.1L1023.7 387.9L1024.2 389.8L1024.7 390.1L1025.2 390.4L1025.7 389.9L1026.2 391.4L1026.7 391.6L1027.2 391.6L1027.7 391.5L1028.2 391.1L1028.7 390.4L1029.2 391.1L1029.7 390.9L1030.2 390.6L1030.7 391.6L1031.2 390.9L1031.7 391.3L1032.2 391.0L1032.7 391.8L1033.2 392.1L1033.7 392.0L1034.2 392.0L1034.7 391.6L1035.2 392.5L1035.7 391.3L1036.2 391.6L1036.7 391.2L1037.2 391.2L1037.7 390.3L1038.2 390.2L1038.7 390.3L1039.2 390.7L1039.7 390.2L1040.2 390.9L1040.7 390.3L1041.2 391.1L1041.7 391.7L1042.2 390.7L1042.7 390.7L1043.2 390.2L1043.7 390.5L1044.2 390.5L1044.7 390.9L1045.2 390.5L1045.7 390.4L1046.2 391.2L1046.7 391.9L1047.2 392.0L1047.7 392.0L1048.2 392.0L1048.7 390.9L1049.2 390.8L1049.7 390.8L1050.2 391.3L1050.7 392.7L1051.2 392.3L1051.7 390.8L1052.2 392.3L1052.7 389.9L1053.2 390.6L1053.7 391.0L1054.2 390.9L1054.7 390.5L1055.2 390.9L1055.7 390.8L1056.2 390.2L1056.7 391.7L1057.2 390.8L1057.7 389.6L1058.2 390.4L1058.7 390.1L1059.2 389.9L1059.7 389.6L1060.2 389.8L1060.7 389.5L1061.2 389.2L1061.7 388.3L1062.2 388.6L1062.7 386.8L1063.2 387.7L1063.7 387.4L1064.2 385.8L1064.7 386.3L1065.2 384.7L1065.7 385.2L1066.2 385.6L1066.7 384.0L1067.2 383.2L1067.7 383.8L1068.2 382.8L1068.7 383.6L1069.2 383.1L1069.7 383.1L1070.2 383.4L1070.7 382.6L1071.2 381.6L1071.7 382.4L1072.2 382.1L1072.7 381.2L1073.2 381.6L1073.7 381.0L1074.2 380.8L1074.7 381.4L1075.2 380.9L1075.7 382.6L1076.2 382.5L1076.7 383.2L1077.2 382.8L1077.7 382.4L1078.2 382.4L1078.7 382.5L1079.2 383.4L1079.7 384.0L1080.2 384.3L1080.7 384.0L1081.2 384.7L1081.7 385.1L1082.2 385.2L1082.7 386.4L1083.2 386.5L1083.7 386.9L1084.2 387.0L1084.7 388.5L1085.2 388.6L1085.7 388.3L1086.2 387.5L1086.7 388.5L1087.2 389.5L1087.7 388.8L1088.2 389.8L1088.7 390.7L1089.2 389.8L1089.7 390.4L1090.2 389.6L1090.7 389.7L1091.2 390.4L1091.7 390.0L1092.2 390.0L1092.7 390.2L1093.2 389.9L1093.7 391.2L1094.2 390.7L1094.7 390.4L1095.2 390.6L1095.7 390.6L1096.2 390.6L1096.7 391.5L1097.2 390.5L1097.7 390.9L1098.2 389.9L1098.7 389.9L1099.2 389.9L1099.7 391.1L1100.2 390.6L1100.7 391.5L1101.2 391.6L1101.7 392.0L1102.2 391.2L1102.7 391.8L1103.2 390.5L1103.7 390.5L1104.2 391.1L1104.7 391.1L1105.2 391.8L1105.7 391.0L1106.2 391.8L1106.7 391.1L1107.2 390.9L1107.7 392.4L1108.2 391.5L1108.7 392.0" stroke="#b06fe0" stroke-width="2.6"/>
<path d="M67.2 296.8L67.7 295.4L68.2 295.6L68.7 296.2L69.2 295.8L69.7 295.9L70.2 295.2L70.7 296.3L71.2 296.7L71.7 296.6L72.2 296.0L72.7 296.5L73.2 296.8L73.7 296.1L74.2 297.4L74.7 296.6L75.2 296.1L75.7 296.3L76.2 295.6L76.7 295.8L77.2 296.4L77.7 296.5L78.2 297.0L78.7 296.5L79.2 296.6L79.7 295.8L80.2 296.2L80.7 296.7L81.2 296.7L81.7 295.3L82.2 296.0L82.7 296.4L83.2 296.7L83.7 297.0L84.2 296.9L84.7 297.6L85.2 296.7L85.7 296.0L86.2 297.0L86.7 296.4L87.2 296.2L87.7 296.2L88.2 297.1L88.7 296.6L89.2 296.6L89.7 297.9L90.2 296.9L90.7 297.5L91.2 297.4L91.7 296.7L92.2 296.8L92.7 297.4L93.2 297.2L93.7 297.4L94.2 297.9L94.7 296.9L95.2 297.9L95.7 297.2L96.2 296.7L96.7 295.8L97.2 295.1L97.7 294.1L98.2 293.8L98.7 294.5L99.2 295.3L99.7 294.8L100.2 297.1L100.7 297.0L101.2 297.3L101.7 297.5L102.2 297.4L102.7 296.9L103.2 297.8L103.7 297.5L104.2 297.2L104.7 297.3L105.2 297.6L105.7 298.4L106.2 297.3L106.7 297.2L107.2 297.6L107.7 296.9L108.2 297.9L108.7 298.0L109.2 297.7L109.7 297.0L110.2 297.0L110.7 297.8L111.2 298.2L111.7 297.7L112.2 297.4L112.7 296.9L113.2 297.5L113.7 297.8L114.2 298.6L114.7 299.5L115.2 297.9L115.7 297.6L116.2 297.5L116.7 297.1L117.2 297.6L117.7 298.9L118.2 297.9L118.7 297.4L119.2 297.9L119.7 296.8L120.2 299.0L120.7 298.0L121.2 298.2L121.7 299.5L122.2 298.6L122.7 298.1L123.2 298.2L123.7 297.2L124.2 297.4L124.7 298.7L125.2 298.8L125.7 298.1L126.2 298.6L126.7 298.0L127.2 297.7L127.7 298.5L128.2 299.0L128.7 298.9L129.2 299.1L129.7 297.9L130.2 298.3L130.7 299.4L131.2 299.3L131.7 299.6L132.2 299.4L132.7 298.6L133.2 298.7L133.7 298.4L134.2 298.2L134.7 297.7L135.2 299.1L135.7 299.1L136.2 298.9L136.7 298.7L137.2 298.3L137.7 298.7L138.2 297.3L138.7 297.0L139.2 296.0L139.7 294.8L140.2 292.2L140.7 288.5L141.2 284.1L141.7 280.9L142.2 280.1L142.7 279.8L143.2 285.2L143.7 289.1L144.2 292.1L144.7 295.4L145.2 296.4L145.7 297.5L146.2 297.9L146.7 297.6L147.2 298.0L147.7 297.9L148.2 299.0L148.7 298.7L149.2 299.2L149.7 298.5L150.2 299.2L150.7 298.4L151.2 299.1L151.7 299.7L152.2 299.2L152.7 298.5L153.2 299.8L153.7 298.1L154.2 300.2L154.7 298.4L155.2 298.2L155.7 299.0L156.2 298.9L156.7 298.4L157.2 298.9L157.7 299.6L158.2 297.9L158.7 299.5L159.2 300.2L159.7 299.8L160.2 299.6L160.7 299.0L161.2 298.4L161.7 300.3L162.2 299.4L162.7 299.4L163.2 299.4L163.7 299.7L164.2 298.6L164.7 299.3L165.2 298.5L165.7 297.9L166.2 299.4L166.7 298.7L167.2 299.4L167.7 299.3L168.2 299.5L168.7 300.1L169.2 299.3L169.7 298.8L170.2 297.5L170.7 299.0L171.2 298.6L171.7 299.3L172.2 298.8L172.7 299.1L173.2 298.7L173.7 297.8L174.2 298.8L174.7 298.6L175.2 300.0L175.7 299.7L176.2 299.2L176.7 300.2L177.2 299.2L177.7 298.7L178.2 299.4L178.7 299.6L179.2 300.0L179.7 298.9L180.2 300.5L180.7 299.2L181.2 299.2L181.7 299.2L182.2 299.1L182.7 299.9L183.2 299.2L183.7 298.6L184.2 299.1L184.7 300.0L185.2 300.5L185.7 299.7L186.2 300.1L186.7 300.8L187.2 299.5L187.7 299.5L188.2 298.6L188.7 299.8L189.2 298.8L189.7 299.6L190.2 299.2L190.7 299.0L191.2 298.6L191.7 299.0L192.2 299.3L192.7 299.2L193.2 298.9L193.7 299.1L194.2 299.0L194.7 299.5L195.2 299.4L195.7 299.7L196.2 300.0L196.7 298.9L197.2 300.3L197.7 299.6L198.2 299.7L198.7 299.9L199.2 298.5L199.7 299.1L200.2 299.4L200.7 299.7L201.2 299.2L201.7 299.0L202.2 297.9L202.7 298.0L203.2 298.5L203.7 297.6L204.2 298.4L204.7 299.1L205.2 299.5L205.7 300.2L206.2 299.7L206.7 298.9L207.2 298.9L207.7 299.4L208.2 299.6L208.7 299.4L209.2 298.9L209.7 299.0L210.2 297.9L210.7 298.5L211.2 299.6L211.7 298.6L212.2 299.7L212.7 300.0L213.2 300.4L213.7 299.1L214.2 299.1L214.7 298.6L215.2 298.5L215.7 298.4L216.2 298.4L216.7 299.7L217.2 299.7L217.7 300.1L218.2 299.5L218.7 299.3L219.2 298.9L219.7 300.3L220.2 299.7L220.7 298.7L221.2 299.5L221.7 299.5L222.2 298.7L222.7 298.7L223.2 299.2L223.7 299.4L224.2 299.7L224.7 298.9L225.2 299.4L225.7 299.3L226.2 299.4L226.7 300.5L227.2 299.6L227.7 299.8L228.2 299.2L228.7 299.2L229.2 299.4L229.7 298.9L230.2 299.0L230.7 299.5L231.2 300.1L231.7 299.5L232.2 299.0L232.7 299.1L233.2 298.3L233.7 299.4L234.2 299.1L234.7 298.2L235.2 299.0L235.7 298.4L236.2 299.7L236.7 299.0L237.2 299.4L237.7 300.4L238.2 298.5L238.7 299.6L239.2 299.3L239.7 298.2L240.2 298.2L240.7 298.9L241.2 298.3L241.7 298.4L242.2 299.6L242.7 299.4L243.2 298.8L243.7 299.6L244.2 299.9L244.7 299.7L245.2 299.6L245.7 299.0L246.2 298.1L246.7 297.3L247.2 297.9L247.7 298.1L248.2 297.9L248.7 298.3L249.2 298.3L249.7 298.7L250.2 298.2L250.7 297.4L251.2 297.5L251.7 297.1L252.2 296.1L252.7 295.1L253.2 295.2L253.7 293.4L254.2 293.3L254.7 293.3L255.2 294.5L255.7 295.9L256.2 296.5L256.7 296.4L257.2 296.9L257.7 296.7L258.2 299.1L258.7 299.3L259.2 298.7L259.7 298.4L260.2 298.7L260.7 298.5L261.2 299.9L261.7 299.6L262.2 300.1L262.7 299.4L263.2 298.5L263.7 299.1L264.2 298.6L264.7 300.2L265.2 299.8L265.7 299.5L266.2 299.6L266.7 299.2L267.2 298.7L267.7 298.9L268.2 298.7L268.7 298.7L269.2 299.0L269.7 297.9L270.2 299.0L270.7 298.4L271.2 297.9L271.7 299.7L272.2 298.7L272.7 299.6L273.2 299.3L273.7 298.9L274.2 300.0L274.7 298.3L275.2 299.6L275.7 299.4L276.2 300.0L276.7 299.5L277.2 299.1L277.7 297.7L278.2 299.0L278.7 299.3L279.2 298.9L279.7 298.8L280.2 299.2L280.7 298.5L281.2 299.2L281.7 299.2L282.2 299.0L282.7 298.5L283.2 298.6L283.7 298.4L284.2 298.0L284.7 299.2L285.2 298.6L285.7 298.3L286.2 298.3L286.7 298.6L287.2 299.0L287.7 299.0L288.2 299.8L288.7 299.9L289.2 299.2L289.7 299.5L290.2 300.5L290.7 299.4L291.2 299.7L291.7 299.3L292.2 299.4L292.7 299.8L293.2 301.3L293.7 300.1L294.2 299.5L294.7 299.0L295.2 298.9L295.7 298.6L296.2 299.4L296.7 298.6L297.2 299.6L297.7 299.1L298.2 299.0L298.7 298.9L299.2 299.7L299.7 300.3L300.2 299.1L300.7 298.6L301.2 299.3L301.7 298.7L302.2 298.7L302.7 298.4L303.2 297.2L303.7 298.1L304.2 297.5L304.7 297.8L305.2 298.1L305.7 299.0L306.2 298.3L306.7 298.8L307.2 298.0L307.7 298.8L308.2 298.6L308.7 299.0L309.2 298.9L309.7 298.8L310.2 297.9L310.7 298.7L311.2 298.8L311.7 298.5L312.2 298.4L312.7 298.8L313.2 298.9L313.7 297.6L314.2 298.0L314.7 298.6L315.2 298.6L315.7 298.6L316.2 298.2L316.7 299.2L317.2 299.2L317.7 299.3L318.2 298.4L318.7 297.3L319.2 298.1L319.7 298.3L320.2 298.1L320.7 297.7L321.2 297.7L321.7 298.3L322.2 298.4L322.7 299.0L323.2 298.7L323.7 298.5L324.2 299.4L324.7 298.1L325.2 298.4L325.7 297.2L326.2 297.0L326.7 297.4L327.2 297.3L327.7 299.4L328.2 298.7L328.7 298.8L329.2 298.9L329.7 297.8L330.2 298.8L330.7 296.9L331.2 299.3L331.7 299.3L332.2 298.5L332.7 299.1L333.2 297.7L333.7 297.5L334.2 297.3L334.7 299.9L335.2 298.9L335.7 299.9L336.2 300.1L336.7 298.4L337.2 297.2L337.7 297.3L338.2 297.0L338.7 298.0L339.2 298.1L339.7 297.3L340.2 297.5L340.7 298.2L341.2 297.1L341.7 297.1L342.2 298.5L342.7 296.9L343.2 296.2L343.7 296.1L344.2 297.4L344.7 297.3L345.2 297.5L345.7 296.7L346.2 297.2L346.7 297.3L347.2 297.3L347.7 298.5L348.2 298.2L348.7 297.0L349.2 297.1L349.7 296.8L350.2 297.0L350.7 296.7L351.2 297.5L351.7 296.5L352.2 296.2L352.7 297.4L353.2 296.9L353.7 296.7L354.2 297.4L354.7 297.3L355.2 296.6L355.7 296.7L356.2 297.9L356.7 297.5L357.2 298.3L357.7 297.6L358.2 297.1L358.7 298.4L359.2 296.4L359.7 298.5L360.2 296.3L360.7 296.1L361.2 296.1L361.7 296.3L362.2 296.0L362.7 294.9L363.2 294.7L363.7 295.2L364.2 295.2L364.7 294.7L365.2 295.7L365.7 295.3L366.2 294.9L366.7 293.9L367.2 293.1L367.7 293.1L368.2 291.4L368.7 291.9L369.2 291.9L369.7 290.8L370.2 292.0L370.7 291.6L371.2 290.3L371.7 290.1L372.2 289.1L372.7 287.3L373.2 284.3L373.7 279.9L374.2 270.6L374.7 253.9L375.2 227.7L375.7 188.9L376.2 138.4L376.7 82.1L377.2 40.0L379.2 40.0L379.7 88.5L380.2 145.2L380.7 194.3L381.2 232.4L381.7 257.7L382.2 272.8L382.7 280.9L383.2 285.1L383.7 286.8L384.2 288.6L384.7 287.7L385.2 290.1L385.7 290.7L386.2 290.5L386.7 290.8L387.2 292.0L387.7 292.0L388.2 293.5L388.7 293.1L389.2 292.9L389.7 293.4L390.2 293.5L390.7 293.5L391.2 294.6L391.7 294.4L392.2 294.4L392.7 295.0L393.2 295.0L393.7 294.9L394.2 295.5L394.7 295.9L395.2 296.7L395.7 297.0L396.2 296.8L396.7 297.1L397.2 296.5L397.7 297.0L398.2 296.4L398.7 296.8L399.2 297.1L399.7 297.2L400.2 297.5L400.7 296.8L401.2 297.0L401.7 295.9L402.2 295.2L402.7 296.2L403.2 296.1L403.7 295.7L404.2 296.4L404.7 296.1L405.2 293.6L405.7 292.6L406.2 291.7L406.7 291.1L407.2 292.0L407.7 293.2L408.2 293.5L408.7 294.6L409.2 295.9L409.7 295.8L410.2 297.3L410.7 297.9L411.2 298.3L411.7 298.6L412.2 298.6L412.7 298.3L413.2 298.7L413.7 297.3L414.2 298.4L414.7 297.1L415.2 298.4L415.7 298.4L416.2 297.4L416.7 298.0L417.2 298.2L417.7 298.5L418.2 298.8L418.7 298.4L419.2 297.9L419.7 298.2L420.2 299.1L420.7 299.4L421.2 299.1L421.7 298.9L422.2 299.0L422.7 298.5L423.2 298.7L423.7 299.0L424.2 298.8L424.7 299.6L425.2 299.1L425.7 299.5L426.2 299.5L426.7 300.6L427.2 300.2L427.7 300.6L428.2 299.5L428.7 298.8L429.2 299.0L429.7 298.9L430.2 298.8L430.7 297.9L431.2 298.8L431.7 298.8L432.2 299.1L432.7 300.5L433.2 299.1L433.7 298.9L434.2 299.1L434.7 299.4L435.2 299.4L435.7 299.7L436.2 299.4L436.7 299.7L437.2 299.6L437.7 298.9L438.2 299.2L438.7 299.2L439.2 298.9L439.7 298.9L440.2 299.3L440.7 299.7L441.2 299.7L441.7 299.3L442.2 299.4L442.7 299.9L443.2 298.6L443.7 299.4L444.2 298.6L444.7 300.3L445.2 299.0L445.7 298.9L446.2 299.4L446.7 299.0L447.2 299.4L447.7 300.5L448.2 299.1L448.7 298.4L449.2 298.5L449.7 298.2L450.2 298.2L450.7 299.1L451.2 298.7L451.7 298.3L452.2 298.6L452.7 297.2L453.2 298.0L453.7 299.1L454.2 298.6L454.7 298.4L455.2 296.8L455.7 296.8L456.2 296.5L456.7 297.4L457.2 297.2L457.7 297.1L458.2 297.8L458.7 297.5L459.2 297.5L459.7 297.0L460.2 297.5L460.7 296.9L461.2 297.3L461.7 296.6L462.2 296.7L462.7 297.2L463.2 298.2L463.7 297.7L464.2 299.4L464.7 298.5L465.2 298.6L465.7 298.8L466.2 298.1L466.7 298.0L467.2 297.3L467.7 298.1L468.2 297.8L468.7 297.7L469.2 296.8L469.7 297.4L470.2 296.6L470.7 297.0L471.2 297.5L471.7 296.9L472.2 296.2L472.7 296.9L473.2 295.8L473.7 297.4L474.2 296.7L474.7 296.7L475.2 295.9L475.7 295.4L476.2 294.3L476.7 293.5L477.2 292.4L477.7 293.0L478.2 292.7L478.7 293.4L479.2 291.4L479.7 290.4L480.2 289.1L480.7 286.2L481.2 283.0L481.7 279.5L482.2 275.5L482.7 272.9L483.2 272.3L483.7 274.4L484.2 277.0L484.7 280.6L485.2 285.1L485.7 288.3L486.2 288.7L486.7 290.9L487.2 292.8L487.7 292.8L488.2 293.8L488.7 294.3L489.2 294.0L489.7 295.1L490.2 296.1L490.7 295.9L491.2 296.8L491.7 297.0L492.2 296.6L492.7 297.0L493.2 296.6L493.7 296.5L494.2 296.3L494.7 297.5L495.2 297.1L495.7 298.6L496.2 299.4L496.7 299.3L497.2 298.7L497.7 298.2L498.2 298.0L498.7 298.2L499.2 298.2L499.7 298.0L500.2 299.0L500.7 298.8L501.2 299.2L501.7 299.1L502.2 297.9L502.7 298.4L503.2 299.2L503.7 300.5L504.2 300.0L504.7 300.1L505.2 299.3L505.7 300.8L506.2 300.1L506.7 301.0L507.2 301.0L507.7 300.0L508.2 300.4L508.7 299.9L509.2 299.0L509.7 299.3L510.2 299.2L510.7 299.8L511.2 299.9L511.7 299.2L512.2 299.5L512.7 299.6L513.2 299.1L513.7 300.0L514.2 300.4L514.7 300.5L515.2 300.0L515.7 300.5L516.2 300.6L516.7 300.4L517.2 300.3L517.7 300.8L518.2 299.8L518.7 301.3L519.2 299.9L519.7 299.3L520.2 300.0L520.7 299.4L521.2 299.3L521.7 298.9L522.2 300.2L522.7 300.1L523.2 300.3L523.7 300.5L524.2 301.9L524.7 302.0L525.2 301.2L525.7 301.2L526.2 301.7L526.7 301.6L527.2 301.9L527.7 301.2L528.2 300.8L528.7 301.1L529.2 301.1L529.7 300.3L530.2 300.8L530.7 301.2L531.2 301.4L531.7 302.2L532.2 302.2L532.7 302.5L533.2 301.1L533.7 300.8L534.2 301.9L534.7 301.0L535.2 300.8L535.7 302.3L536.2 300.1L536.7 301.1L537.2 301.1L537.7 301.5L538.2 302.1L538.7 301.3L539.2 301.3L539.7 301.1L540.2 300.6L540.7 300.5L541.2 302.0L541.7 300.9L542.2 301.4L542.7 302.0L543.2 300.9L543.7 302.2L544.2 302.2L544.7 301.0L545.2 301.7L545.7 301.8L546.2 301.6L546.7 302.6L547.2 302.0L547.7 301.3L548.2 301.6L548.7 301.1L549.2 301.0L549.7 300.6L550.2 300.9L550.7 301.0L551.2 301.1L551.7 301.1L552.2 301.9L552.7 301.9L553.2 301.6L553.7 301.4L554.2 302.2L554.7 301.6L555.2 302.3L555.7 301.8L556.2 302.1L556.7 301.8L557.2 301.4L557.7 301.9L558.2 300.4L558.7 299.8L559.2 298.7L559.7 298.4L560.2 295.5L560.7 295.9L561.2 296.2L561.7 296.6L562.2 298.8L562.7 299.9L563.2 301.1L563.7 301.0L564.2 301.4L564.7 301.3L565.2 300.5L565.7 301.1L566.2 300.5L566.7 300.5L567.2 300.7L567.7 302.0L568.2 301.1L568.7 300.9L569.2 301.9L569.7 301.4L570.2 301.5L570.7 301.3L571.2 301.0L571.7 300.4L572.2 299.5L572.7 301.3L573.2 300.8L573.7 299.2L574.2 299.7L574.7 299.1L575.2 299.4L575.7 300.2L576.2 300.7L576.7 300.8L577.2 301.8L577.7 301.6L578.2 301.5L578.7 301.7L579.2 302.3L579.7 301.4L580.2 301.4L580.7 300.9L581.2 300.7L581.7 301.5L582.2 301.4L582.7 301.2L583.2 301.7L583.7 300.7L584.2 300.9L584.7 301.5L585.2 300.8L585.7 301.3L586.2 302.7L586.7 300.8L587.2 301.2L587.7 301.1L588.2 300.6L588.7 301.1L589.2 301.0L589.7 301.0L590.2 301.0L590.7 301.5L591.2 301.6L591.7 301.9L592.2 301.2L592.7 301.7L593.2 302.5L593.7 301.7L594.2 301.8L594.7 300.5L595.2 299.7L595.7 298.7L596.2 298.2L596.7 297.8L597.2 297.6L597.7 298.6L598.2 297.6L598.7 299.2L599.2 298.9L599.7 300.5L600.2 300.5L600.7 301.0L601.2 300.7L601.7 300.4L602.2 300.5L602.7 301.2L603.2 301.5L603.7 301.5L604.2 301.4L604.7 299.5L605.2 300.7L605.7 300.3L606.2 301.3L606.7 301.4L607.2 301.6L607.7 301.4L608.2 300.8L608.7 302.0L609.2 301.3L609.7 301.0L610.2 301.3L610.7 300.2L611.2 300.2L611.7 301.8L612.2 300.9L612.7 299.9L613.2 301.1L613.7 301.4L614.2 300.9L614.7 300.7L615.2 300.9L615.7 299.9L616.2 298.7L616.7 298.4L617.2 299.1L617.7 299.0L618.2 297.6L618.7 296.5L619.2 296.0L619.7 295.4L620.2 295.5L620.7 295.6L621.2 295.6L621.7 294.4L622.2 294.0L622.7 292.6L623.2 292.9L623.7 293.4L624.2 292.1L624.7 292.7L625.2 292.3L625.7 291.4L626.2 291.2L626.7 290.5L627.2 290.0L627.7 290.4L628.2 290.1L628.7 290.5L629.2 289.2L629.7 288.9L630.2 288.4L630.7 289.3L631.2 289.3L631.7 289.5L632.2 289.7L632.7 289.1L633.2 288.0L633.7 288.4L634.2 288.4L634.7 287.7L635.2 287.4L635.7 287.8L636.2 285.9L636.7 285.6L637.2 284.2L637.7 282.1L638.2 282.2L638.7 281.2L639.2 278.8L639.7 276.6L640.2 275.8L640.7 272.5L641.2 269.9L641.7 266.9L642.2 262.4L642.7 258.4L643.2 252.9L643.7 247.5L644.2 241.5L644.7 232.7L645.2 223.1L645.7 210.6L646.2 185.2L646.7 148.0L647.2 108.6L647.7 75.0L648.2 59.0L648.7 58.7L649.2 59.4L649.7 60.2L650.2 59.1L650.7 59.2L651.2 58.2L651.7 59.2L652.2 59.3L652.7 60.0L653.2 60.2L653.7 61.3L654.2 60.4L654.7 61.5L655.2 60.0L655.7 60.8L656.2 61.1L656.7 61.4L657.2 60.3L657.7 59.5L658.2 60.3L658.7 59.7L659.2 59.7L659.7 59.9L660.2 59.8L660.7 86.5L661.2 113.4L661.7 142.1L662.2 169.2L662.7 192.4L663.2 211.9L663.7 225.6L664.2 237.0L664.7 245.9L665.2 253.2L665.7 260.0L666.2 266.5L666.7 270.9L667.2 274.5L667.7 276.1L668.2 278.3L668.7 280.2L669.2 281.9L669.7 282.6L670.2 284.1L670.7 284.6L671.2 285.6L671.7 285.8L672.2 287.1L672.7 287.1L673.2 288.6L673.7 289.0L674.2 290.2L674.7 289.7L675.2 289.8L675.7 290.4L676.2 291.0L676.7 291.5L677.2 291.7L677.7 291.5L678.2 290.9L678.7 292.6L679.2 292.8L679.7 293.1L680.2 292.2L680.7 293.0L681.2 293.5L681.7 294.2L682.2 294.4L682.7 294.2L683.2 295.3L683.7 295.4L684.2 295.0L684.7 295.2L685.2 295.2L685.7 294.9L686.2 295.5L686.7 295.9L687.2 296.0L687.7 296.6L688.2 296.7L688.7 296.7L689.2 296.3L689.7 296.3L690.2 295.5L690.7 295.2L691.2 295.5L691.7 296.3L692.2 296.4L692.7 298.0L693.2 298.2L693.7 297.3L694.2 298.2L694.7 297.7L695.2 298.1L695.7 297.4L696.2 297.1L696.7 296.6L697.2 296.5L697.7 297.5L698.2 298.2L698.7 297.6L699.2 297.8L699.7 296.9L700.2 297.5L700.7 297.7L701.2 297.3L701.7 298.2L702.2 298.4L702.7 299.2L703.2 299.3L703.7 298.8L704.2 298.4L704.7 297.8L705.2 297.3L705.7 297.8L706.2 298.6L706.7 298.0L707.2 299.0L707.7 299.2L708.2 299.0L708.7 300.0L709.2 299.6L709.7 298.8L710.2 299.0L710.7 300.2L711.2 299.1L711.7 299.4L712.2 298.7L712.7 299.3L713.2 299.0L713.7 299.0L714.2 298.7L714.7 300.1L715.2 300.0L715.7 299.1L716.2 299.6L716.7 298.8L717.2 298.8L717.7 298.7L718.2 298.0L718.7 299.3L719.2 298.9L719.7 299.3L720.2 300.7L720.7 299.7L721.2 301.0L721.7 300.3L722.2 300.2L722.7 300.8L723.2 299.6L723.7 299.3L724.2 299.2L724.7 300.0L725.2 300.3L725.7 299.5L726.2 299.6L726.7 299.7L727.2 299.8L727.7 300.1L728.2 301.6L728.7 302.0L729.2 301.3L729.7 300.2L730.2 300.3L730.7 300.5L731.2 300.5L731.7 300.7L732.2 300.5L732.7 300.0L733.2 300.8L733.7 300.2L734.2 300.1L734.7 298.7L735.2 300.3L735.7 299.4L736.2 300.4L736.7 301.7L737.2 300.4L737.7 300.1L738.2 300.3L738.7 300.4L739.2 300.7L739.7 300.7L740.2 300.3L740.7 300.4L741.2 300.5L741.7 301.2L742.2 300.6L742.7 299.8L743.2 299.8L743.7 300.2L744.2 299.4L744.7 299.5L745.2 300.1L745.7 299.7L746.2 300.4L746.7 300.7L747.2 300.5L747.7 300.8L748.2 299.6L748.7 300.3L749.2 299.8L749.7 300.4L750.2 300.3L750.7 301.0L751.2 300.9L751.7 301.1L752.2 301.4L752.7 300.1L753.2 300.5L753.7 300.3L754.2 300.7L754.7 300.5L755.2 300.3L755.7 300.4L756.2 300.5L756.7 299.7L757.2 298.9L757.7 297.4L758.2 297.5L758.7 297.5L759.2 296.3L759.7 297.6L760.2 297.7L760.7 298.0L761.2 298.6L761.7 298.4L762.2 300.0L762.7 299.9L763.2 301.0L763.7 299.9L764.2 300.4L764.7 300.2L765.2 300.9L765.7 300.3L766.2 300.3L766.7 301.2L767.2 301.2L767.7 300.8L768.2 300.9L768.7 300.6L769.2 301.0L769.7 301.2L770.2 301.4L770.7 301.4L771.2 302.0L771.7 301.6L772.2 301.2L772.7 301.5L773.2 302.0L773.7 301.1L774.2 301.7L774.7 300.0L775.2 300.6L775.7 300.3L776.2 301.1L776.7 300.6L777.2 300.2L777.7 301.0L778.2 299.8L778.7 301.0L779.2 301.5L779.7 300.6L780.2 301.0L780.7 300.4L781.2 300.9L781.7 301.3L782.2 301.4L782.7 301.2L783.2 300.2L783.7 301.5L784.2 300.8L784.7 300.9L785.2 302.1L785.7 301.3L786.2 302.8L786.7 302.5L787.2 301.5L787.7 301.1L788.2 301.2L788.7 300.4L789.2 301.0L789.7 301.8L790.2 300.5L790.7 300.5L791.2 300.6L791.7 300.3L792.2 300.2L792.7 300.5L793.2 301.8L793.7 301.0L794.2 301.9L794.7 301.7L795.2 300.6L795.7 301.0L796.2 299.8L796.7 300.2L797.2 300.9L797.7 300.3L798.2 300.9L798.7 299.9L799.2 300.0L799.7 299.7L800.2 300.7L800.7 301.5L801.2 299.6L801.7 301.2L802.2 299.7L802.7 299.7L803.2 299.7L803.7 299.7L804.2 299.7L804.7 299.4L805.2 301.0L805.7 300.7L806.2 299.6L806.7 298.3L807.2 299.8L807.7 299.2L808.2 298.7L808.7 296.7L809.2 295.8L809.7 294.6L810.2 292.0L810.7 289.6L811.2 283.6L811.7 275.7L812.2 263.9L812.7 250.5L813.2 232.9L813.7 214.8L814.2 198.8L814.7 192.8L815.2 195.0L815.7 207.5L816.2 224.9L816.7 243.3L817.2 259.5L817.7 271.6L818.2 281.5L818.7 287.2L819.2 290.8L819.7 293.3L820.2 295.1L820.7 295.6L821.2 297.5L821.7 297.4L822.2 297.8L822.7 298.6L823.2 298.0L823.7 298.0L824.2 300.3L824.7 299.5L825.2 300.3L825.7 300.4L826.2 300.4L826.7 300.7L827.2 298.9L827.7 300.2L828.2 301.0L828.7 300.5L829.2 300.6L829.7 301.1L830.2 301.6L830.7 301.2L831.2 300.6L831.7 300.7L832.2 300.6L832.7 300.7L833.2 300.8L833.7 301.6L834.2 301.3L834.7 301.9L835.2 301.0L835.7 300.7L836.2 301.6L836.7 301.6L837.2 300.6L837.7 300.6L838.2 300.7L838.7 299.0L839.2 301.6L839.7 300.7L840.2 300.5L840.7 300.3L841.2 300.0L841.7 302.2L842.2 300.6L842.7 301.2L843.2 300.8L843.7 300.7L844.2 301.2L844.7 300.7L845.2 300.7L845.7 301.1L846.2 301.4L846.7 301.5L847.2 301.7L847.7 302.5L848.2 301.6L848.7 301.0L849.2 300.8L849.7 300.4L850.2 301.0L850.7 300.1L851.2 301.1L851.7 301.2L852.2 302.9L852.7 302.3L853.2 301.2L853.7 301.6L854.2 301.0L854.7 301.5L855.2 302.3L855.7 301.8L856.2 302.4L856.7 301.7L857.2 302.6L857.7 302.3L858.2 302.2L858.7 301.9L859.2 301.9L859.7 302.5L860.2 302.3L860.7 302.6L861.2 302.7L861.7 302.4L862.2 301.9L862.7 302.2L863.2 301.7L863.7 302.1L864.2 301.4L864.7 301.2L865.2 300.9L865.7 300.6L866.2 301.1L866.7 302.2L867.2 301.9L867.7 300.8L868.2 300.6L868.7 301.8L869.2 302.7L869.7 302.4L870.2 303.3L870.7 302.2L871.2 302.7L871.7 301.9L872.2 303.2L872.7 301.8L873.2 301.2L873.7 301.7L874.2 300.9L874.7 301.4L875.2 300.8L875.7 301.5L876.2 301.1L876.7 302.0L877.2 301.9L877.7 301.1L878.2 301.4L878.7 301.4L879.2 302.3L879.7 302.3L880.2 301.9L880.7 301.2L881.2 301.8L881.7 301.6L882.2 301.9L882.7 301.6L883.2 302.3L883.7 301.6L884.2 302.3L884.7 302.0L885.2 302.1L885.7 302.2L886.2 301.5L886.7 302.9L887.2 301.7L887.7 302.2L888.2 301.9L888.7 301.1L889.2 301.3L889.7 302.2L890.2 301.4L890.7 301.9L891.2 301.9L891.7 302.3L892.2 302.3L892.7 300.9L893.2 301.8L893.7 301.5L894.2 301.6L894.7 301.7L895.2 301.8L895.7 301.9L896.2 303.1L896.7 302.1L897.2 302.0L897.7 302.4L898.2 302.2L898.7 302.6L899.2 300.9L899.7 301.4L900.2 301.1L900.7 301.8L901.2 302.2L901.7 301.8L902.2 302.6L902.7 301.7L903.2 301.7L903.7 300.7L904.2 301.0L904.7 301.3L905.2 302.0L905.7 301.3L906.2 300.9L906.7 301.6L907.2 301.0L907.7 301.9L908.2 301.6L908.7 300.9L909.2 302.3L909.7 301.1L910.2 301.3L910.7 300.8L911.2 301.2L911.7 301.0L912.2 300.9L912.7 301.6L913.2 300.2L913.7 301.6L914.2 300.5L914.7 301.9L915.2 302.1L915.7 302.1L916.2 302.8L916.7 301.5L917.2 301.7L917.7 301.2L918.2 301.8L918.7 302.1L919.2 302.4L919.7 303.1L920.2 302.4L920.7 302.4L921.2 301.3L921.7 301.7L922.2 301.3L922.7 301.8L923.2 300.6L923.7 301.6L924.2 302.0L924.7 301.6L925.2 301.6L925.7 300.9L926.2 301.2L926.7 301.3L927.2 301.5L927.7 302.0L928.2 301.2L928.7 301.6L929.2 302.0L929.7 301.2L930.2 302.3L930.7 302.7L931.2 301.6L931.7 301.4L932.2 302.0L932.7 302.8L933.2 303.1L933.7 302.0L934.2 302.5L934.7 301.7L935.2 301.5L935.7 301.7L936.2 301.9L936.7 301.6L937.2 301.1L937.7 301.3L938.2 300.9L938.7 302.1L939.2 300.9L939.7 301.8L940.2 301.9L940.7 301.6L941.2 301.2L941.7 301.8L942.2 301.1L942.7 301.2L943.2 301.5L943.7 301.5L944.2 301.3L944.7 301.3L945.2 301.2L945.7 300.3L946.2 301.5L946.7 301.4L947.2 301.6L947.7 302.3L948.2 302.6L948.7 301.8L949.2 300.7L949.7 302.0L950.2 302.2L950.7 301.2L951.2 302.1L951.7 302.2L952.2 301.0L952.7 302.4L953.2 302.0L953.7 302.2L954.2 302.1L954.7 301.1L955.2 302.3L955.7 302.9L956.2 300.8L956.7 301.9L957.2 302.2L957.7 301.1L958.2 301.0L958.7 301.7L959.2 301.6L959.7 301.5L960.2 301.5L960.7 301.7L961.2 301.8L961.7 301.4L962.2 301.0L962.7 301.6L963.2 300.6L963.7 300.9L964.2 301.2L964.7 301.3L965.2 301.4L965.7 301.3L966.2 300.1L966.7 300.1L967.2 299.9L967.7 300.6L968.2 301.3L968.7 302.7L969.2 302.2L969.7 301.0L970.2 301.2L970.7 301.7L971.2 302.0L971.7 302.1L972.2 301.3L972.7 302.8L973.2 302.1L973.7 302.3L974.2 301.7L974.7 301.3L975.2 301.0L975.7 299.8L976.2 300.9L976.7 301.8L977.2 301.2L977.7 301.2L978.2 302.4L978.7 300.8L979.2 301.0L979.7 301.1L980.2 302.4L980.7 301.1L981.2 302.0L981.7 299.8L982.2 301.5L982.7 300.8L983.2 300.3L983.7 301.6L984.2 301.6L984.7 300.6L985.2 301.3L985.7 301.2L986.2 301.5L986.7 300.5L987.2 301.3L987.7 300.8L988.2 301.0L988.7 301.3L989.2 300.6L989.7 302.0L990.2 301.1L990.7 301.3L991.2 301.7L991.7 300.8L992.2 300.1L992.7 301.1L993.2 301.2L993.7 301.8L994.2 301.9L994.7 302.1L995.2 301.3L995.7 301.4L996.2 302.8L996.7 302.1L997.2 301.4L997.7 302.0L998.2 301.8L998.7 300.4L999.2 300.5L999.7 300.9L1000.2 301.6L1000.7 302.0L1001.2 301.3L1001.7 301.1L1002.2 301.2L1002.7 301.1L1003.2 301.7L1003.7 300.7L1004.2 301.4L1004.7 301.2L1005.2 300.3L1005.7 300.7L1006.2 301.1L1006.7 301.2L1007.2 301.3L1007.7 299.4L1008.2 300.4L1008.7 301.0L1009.2 299.7L1009.7 299.0L1010.2 299.3L1010.7 299.1L1011.2 298.7L1011.7 298.3L1012.2 296.9L1012.7 294.0L1013.2 290.5L1013.7 284.9L1014.2 279.6L1014.7 273.1L1015.2 266.4L1015.7 259.7L1016.2 254.3L1016.7 253.8L1017.2 253.0L1017.7 257.3L1018.2 260.9L1018.7 264.7L1019.2 267.4L1019.7 268.3L1020.2 268.6L1020.7 271.8L1021.2 276.2L1021.7 281.1L1022.2 286.1L1022.7 290.9L1023.2 293.4L1023.7 294.8L1024.2 297.5L1024.7 297.7L1025.2 299.3L1025.7 299.8L1026.2 298.6L1026.7 300.0L1027.2 300.3L1027.7 299.4L1028.2 300.4L1028.7 300.7L1029.2 300.4L1029.7 300.7L1030.2 301.4L1030.7 300.4L1031.2 300.3L1031.7 300.4L1032.2 300.6L1032.7 301.4L1033.2 300.4L1033.7 300.3L1034.2 301.2L1034.7 299.8L1035.2 300.6L1035.7 300.8L1036.2 301.9L1036.7 300.7L1037.2 300.1L1037.7 300.6L1038.2 301.4L1038.7 300.2L1039.2 300.3L1039.7 301.5L1040.2 301.6L1040.7 301.1L1041.2 302.1L1041.7 301.9L1042.2 300.8L1042.7 301.0L1043.2 301.8L1043.7 301.5L1044.2 301.9L1044.7 301.8L1045.2 301.5L1045.7 301.8L1046.2 301.2L1046.7 301.4L1047.2 301.1L1047.7 300.7L1048.2 301.2L1048.7 300.9L1049.2 301.2L1049.7 300.4L1050.2 300.5L1050.7 299.8L1051.2 301.3L1051.7 300.9L1052.2 300.8L1052.7 300.9L1053.2 301.0L1053.7 300.3L1054.2 300.9L1054.7 300.9L1055.2 300.0L1055.7 299.8L1056.2 299.5L1056.7 298.8L1057.2 299.2L1057.7 300.2L1058.2 298.8L1058.7 300.3L1059.2 298.7L1059.7 298.7L1060.2 297.8L1060.7 297.3L1061.2 297.3L1061.7 297.8L1062.2 296.9L1062.7 296.6L1063.2 296.2L1063.7 297.0L1064.2 296.2L1064.7 295.6L1065.2 294.2L1065.7 293.1L1066.2 294.0L1066.7 292.8L1067.2 293.2L1067.7 293.7L1068.2 292.5L1068.7 292.0L1069.2 291.1L1069.7 291.8L1070.2 291.3L1070.7 290.8L1071.2 291.0L1071.7 290.0L1072.2 290.1L1072.7 290.0L1073.2 290.1L1073.7 289.2L1074.2 288.4L1074.7 288.1L1075.2 289.3L1075.7 289.1L1076.2 290.1L1076.7 292.0L1077.2 291.9L1077.7 292.8L1078.2 292.4L1078.7 292.0L1079.2 292.3L1079.7 291.9L1080.2 292.2L1080.7 292.1L1081.2 292.7L1081.7 293.2L1082.2 293.5L1082.7 294.2L1083.2 295.5L1083.7 296.4L1084.2 296.7L1084.7 298.8L1085.2 297.7L1085.7 299.1L1086.2 298.9L1086.7 300.6L1087.2 298.6L1087.7 298.9L1088.2 299.0L1088.7 299.7L1089.2 299.1L1089.7 298.9L1090.2 300.6L1090.7 300.2L1091.2 299.8L1091.7 300.0L1092.2 299.8L1092.7 300.4L1093.2 299.8L1093.7 300.5L1094.2 300.7L1094.7 301.3L1095.2 301.1L1095.7 300.6L1096.2 301.5L1096.7 300.8L1097.2 300.3L1097.7 300.4L1098.2 300.9L1098.7 301.1L1099.2 301.3L1099.7 300.4L1100.2 300.0L1100.7 300.9L1101.2 300.5L1101.7 300.9L1102.2 300.9L1102.7 301.1L1103.2 302.2L1103.7 301.2L1104.2 300.7L1104.7 301.6L1105.2 302.4L1105.7 302.3L1106.2 302.6L1106.7 302.2L1107.2 302.1L1107.7 301.5L1108.2 302.0L1108.7 300.6" stroke="#10cf86" stroke-width="2.6"/>
</g>
<rect x="68.2" y="81.0" width="1040.7" height="371.3" fill="none" stroke="#000" stroke-width="3.6"/>
<path d="M68.20 452.3V468.6M126.02 452.3V460.5M183.83 452.3V468.6M241.65 452.3V460.5M299.47 452.3V468.6M357.28 452.3V460.5M415.10 452.3V468.6M472.92 452.3V460.5M530.73 452.3V468.6M588.55 452.3V460.5M646.37 452.3V468.6M704.18 452.3V460.5M762.00 452.3V468.6M819.82 452.3V460.5M877.63 452.3V468.6M935.45 452.3V460.5M993.27 452.3V468.6M1051.08 452.3V460.5M1108.90 452.3V468.6" stroke="#000" stroke-width="3.6" fill="none"/>
<rect x="828.6" y="350" width="76.4" height="89.4" fill="#fff" fill-opacity="0.64"/>
<rect x="904.8" y="205" width="81.0" height="234.4" fill="#fff" fill-opacity="0.64"/>
<rect x="985.6" y="82.5" width="122.7" height="356.9" fill="#fff" fill-opacity="0.64"/>
<path d="M905.6 205V439.4M986.3 205V439.4M829 350V439.4" stroke="#fff" stroke-opacity="0.75" stroke-width="1.3" fill="none"/>
<text transform="translate(68.2 508.6) scale(1 1.02)" font-size="36.3" text-anchor="middle" stroke="#000" stroke-width="0.51">15</text>
<text transform="translate(183.8 508.6) scale(1 1.02)" font-size="36.3" text-anchor="middle" stroke="#000" stroke-width="0.51">20</text>
<text transform="translate(299.3 508.6) scale(1 1.02)" font-size="36.3" text-anchor="middle" stroke="#000" stroke-width="0.51">25</text>
<text transform="translate(414.9 508.6) scale(1 1.02)" font-size="36.3" text-anchor="middle" stroke="#000" stroke-width="0.51">30</text>
<text transform="translate(530.5 508.6) scale(1 1.02)" font-size="36.3" text-anchor="middle" stroke="#000" stroke-width="0.51">35</text>
<text transform="translate(646.1 508.6) scale(1 1.02)" font-size="36.3" text-anchor="middle" stroke="#000" stroke-width="0.51">40</text>
<text transform="translate(761.6 508.6) scale(1 1.02)" font-size="36.3" text-anchor="middle" stroke="#000" stroke-width="0.51">45</text>
<text transform="translate(877.2 508.6) scale(1 1.02)" font-size="36.3" text-anchor="middle" stroke="#000" stroke-width="0.51">50</text>
<text transform="translate(992.8 508.6) scale(1 1.02)" font-size="36.3" text-anchor="middle" stroke="#000" stroke-width="0.51">55</text>
<text transform="translate(1108.4 508.6) scale(1 1.02)" font-size="36.3" text-anchor="middle" stroke="#000" stroke-width="0.51">60</text>
<text transform="translate(463.9 572.6) scale(1 1.02)" font-size="44.3" stroke="#000" stroke-width="0.62">2</text>
<text transform="translate(488.3 572.6) scale(1.1 1)" font-size="46" font-family="'Liberation Serif','Times New Roman',serif" stroke="#000" stroke-width="0.64">θ</text>
<text transform="translate(524.6 572.6)" font-size="44.15" stroke="#000" stroke-width="0.62">(degrees)</text>
<text transform="translate(35.0 266.4) rotate(-90)" font-size="44.2" text-anchor="middle" stroke="#000" stroke-width="0.62">Intensity (arb. units)</text>
<text transform="translate(6.9 42.9) scale(0.928 1.028)" font-size="64" font-weight="bold">a</text>
<text transform="translate(1182.0 44.2) scale(1.02 0.99)" font-size="58.5" font-weight="bold">b</text>
<text transform="translate(594 63.6)" font-size="34" stroke="#000" stroke-width="0.48">*</text>
<text transform="translate(618.0 67.5) scale(1 1.04)" font-size="37.3" stroke="#000" stroke-width="0.52">SnS</text>
<text transform="translate(739.5 67.5) scale(1 1.04)" font-size="37.3" stroke="#000" stroke-width="0.52">CuS</text>
<text transform="translate(862.2 67.5) scale(1 1.04)" font-size="37.1" stroke="#000" stroke-width="0.52">Unkonwn</text>
<text transform="translate(1045.3 67.5) scale(1 1.04)" font-size="37.3" stroke="#000" stroke-width="0.52">Mo</text>
<text transform="translate(430.9 249.6)" font-size="45" text-anchor="middle" stroke="#000" stroke-width="0.9" stroke-linejoin="round">*</text>
<text transform="translate(446.4 245.1)" font-size="45" text-anchor="middle" stroke="#000" stroke-width="0.9" stroke-linejoin="round">*</text>
<text transform="translate(459.1 236.6)" font-size="45" text-anchor="middle" stroke="#000" stroke-width="0.9" stroke-linejoin="round">*</text>
<text transform="translate(1216.2 255.5) rotate(-90)" font-size="45.6" text-anchor="middle" stroke="#000" stroke-width="0.64">FWHM (degrees)</text>
<text transform="translate(1553.2 559.8)" font-size="29.45" text-anchor="middle" stroke="#000" stroke-width="0.41">Increasing thermal exposure</text>
<path d="M730 38.3L736 45.3L730 52.3L724 45.3Z"/>
<path d="M845.9 36.1H859.5L852.7 50.3Z" fill="none" stroke="#000" stroke-width="1.8"/>
<circle cx="1032.9" cy="45.1" r="4.6"/>
<path d="M453.8 108L461.9 118.6L453.8 129.3L445.7 118.6Z"/>
<path d="M554.7 114.4H568.2L561.45 129.1Z" fill="none" stroke="#000" stroke-width="1.9"/>
<circle cx="653.2" cy="98.1" r="4.3"/>
<circle cx="1074.6" cy="144.2" r="4.3"/>
<text transform="translate(1103.6 123.7) scale(0.988 1.02)" font-size="36" text-anchor="end" fill="#f3a35f" stroke="#f3a35f" stroke-width="0.50">450<tspan dy="-13" font-size="28">o</tspan><tspan dy="13">C, NF</tspan></text>
<text transform="translate(1105.6 180.2) scale(0.988 1.02)" font-size="36" text-anchor="end" fill="#f76565" stroke="#f76565" stroke-width="0.50">450<tspan dy="-13" font-size="28">o</tspan><tspan dy="13">C</tspan></text>
<text transform="translate(1105.2 230.5) scale(0.988 1.02)" font-size="36" text-anchor="end" fill="#e6d832" stroke="#e6d832" stroke-width="0.50">350<tspan dy="-13" font-size="28">o</tspan><tspan dy="13">C</tspan></text>
<text transform="translate(1098.8 286.3) scale(0.988 1.02)" font-size="36" text-anchor="end" fill="#10d284" stroke="#10d284" stroke-width="0.50">60 s, 250<tspan dy="-13" font-size="28">o</tspan><tspan dy="13">C</tspan></text>
<text transform="translate(1098.8 336.4) scale(0.988 1.02)" font-size="36" text-anchor="end" fill="#18a2f5" stroke="#18a2f5" stroke-width="0.50">30 s, 250<tspan dy="-13" font-size="28">o</tspan><tspan dy="13">C</tspan></text>
<text transform="translate(1100.3 382.2) scale(0.981 1.02)" font-size="36" text-anchor="end" fill="#b472f2" stroke="#b472f2" stroke-width="0.50">10 s, 250<tspan dy="-13" font-size="28">o</tspan><tspan dy="13">C</tspan></text>
<text transform="translate(1107.3 427.8) scale(1.002 1.03)" font-size="36" text-anchor="end" fill="#000" stroke="#000" stroke-width="0.50">CZTS reference</text>
<rect x="1337.5" y="86.2" width="430.2" height="341.2" fill="none" stroke="#000" stroke-width="2.2"/>
<path d="M1337.5 427.40H1327.3M1337.5 401.15H1332.2M1337.5 374.90H1327.3M1337.5 348.65H1332.2M1337.5 322.40H1327.3M1337.5 296.15H1332.2M1337.5 269.90H1327.3M1337.5 243.65H1332.2M1337.5 217.40H1327.3M1337.5 191.15H1332.2M1337.5 164.90H1327.3M1337.5 138.65H1332.2M1337.5 112.40H1327.3M1337.5 86.15H1332.2M1337.50 427.4V432.4M1373.35 427.4V437.0M1409.20 427.4V432.4M1445.05 427.4V437.0M1480.90 427.4V432.4M1516.75 427.4V437.0M1552.60 427.4V432.4M1588.45 427.4V437.0M1624.30 427.4V432.4M1660.15 427.4V437.0M1696.00 427.4V432.4M1731.85 427.4V437.0M1767.70 427.4V432.4" stroke="#000" stroke-width="2.2" fill="none"/>
<text transform="translate(1320.0 436.3) scale(1 1.05)" font-size="28.4" text-anchor="end" stroke="#000" stroke-width="0.40">0.140</text>
<text transform="translate(1320.0 383.8) scale(1 1.05)" font-size="28.4" text-anchor="end" stroke="#000" stroke-width="0.40">0.145</text>
<text transform="translate(1320.0 331.3) scale(1 1.05)" font-size="28.4" text-anchor="end" stroke="#000" stroke-width="0.40">0.150</text>
<text transform="translate(1320.0 278.8) scale(1 1.05)" font-size="28.4" text-anchor="end" stroke="#000" stroke-width="0.40">0.155</text>
<text transform="translate(1320.0 226.3) scale(1 1.05)" font-size="28.4" text-anchor="end" stroke="#000" stroke-width="0.40">0.160</text>
<text transform="translate(1320.0 173.8) scale(1 1.05)" font-size="28.4" text-anchor="end" stroke="#000" stroke-width="0.40">0.165</text>
<text transform="translate(1320.0 121.3) scale(1 1.05)" font-size="28.4" text-anchor="end" stroke="#000" stroke-width="0.40">0.170</text>
<text transform="translate(1373.3 461.9) scale(1 1.02)" font-size="22.5" text-anchor="middle" stroke="#000" stroke-width="0.32">250C</text>
<text transform="translate(1373.3 488.7) scale(1 1.02)" font-size="22.5" text-anchor="middle" stroke="#000" stroke-width="0.32">10 s</text>
<text transform="translate(1445.0 461.9) scale(1 1.02)" font-size="22.5" text-anchor="middle" stroke="#000" stroke-width="0.32">250C</text>
<text transform="translate(1445.0 488.7) scale(1 1.02)" font-size="22.5" text-anchor="middle" stroke="#000" stroke-width="0.32">30 s</text>
<text transform="translate(1516.7 461.9) scale(1 1.02)" font-size="22.5" text-anchor="middle" stroke="#000" stroke-width="0.32">250C</text>
<text transform="translate(1516.7 488.7) scale(1 1.02)" font-size="22.5" text-anchor="middle" stroke="#000" stroke-width="0.32">60 s</text>
<text transform="translate(1588.4 461.9) scale(1 1.02)" font-size="22.5" text-anchor="middle" stroke="#000" stroke-width="0.32">350C</text>
<text transform="translate(1588.4 488.7) scale(1 1.02)" font-size="22.5" text-anchor="middle" stroke="#000" stroke-width="0.32">30 s</text>
<text transform="translate(1660.1 461.9) scale(1 1.02)" font-size="22.5" text-anchor="middle" stroke="#000" stroke-width="0.32">450C</text>
<text transform="translate(1660.1 488.7) scale(1 1.02)" font-size="22.5" text-anchor="middle" stroke="#000" stroke-width="0.32">30 s</text>
<text transform="translate(1731.8 461.9) scale(1 1.02)" font-size="22.5" text-anchor="middle" stroke="#000" stroke-width="0.32">450C</text>
<text transform="translate(1731.8 488.7) scale(1 1.02)" font-size="22.5" text-anchor="middle" stroke="#000" stroke-width="0.32">30 s</text>
<text transform="translate(1731.8 515.5) scale(1 1.02)" font-size="22.5" text-anchor="middle" stroke="#000" stroke-width="0.32">NF</text>
<rect x="1366.8" y="378.9" width="13" height="13"/>
<rect x="1438.5" y="252.9" width="13" height="13"/>
<rect x="1510.2" y="305.4" width="13" height="13"/>
<rect x="1581.9" y="378.9" width="13" height="13"/>
<rect x="1653.6" y="263.4" width="13" height="13"/>
<rect x="1725.3" y="105.9" width="13" height="13"/>
<path d="M1370.4 580.1H1726" stroke="#000" stroke-width="3.5" fill="none"/>
<path d="M1724.3 571.1L1739.9 580.1L1724.3 589.3Z"/>
</svg>
</body></html>
